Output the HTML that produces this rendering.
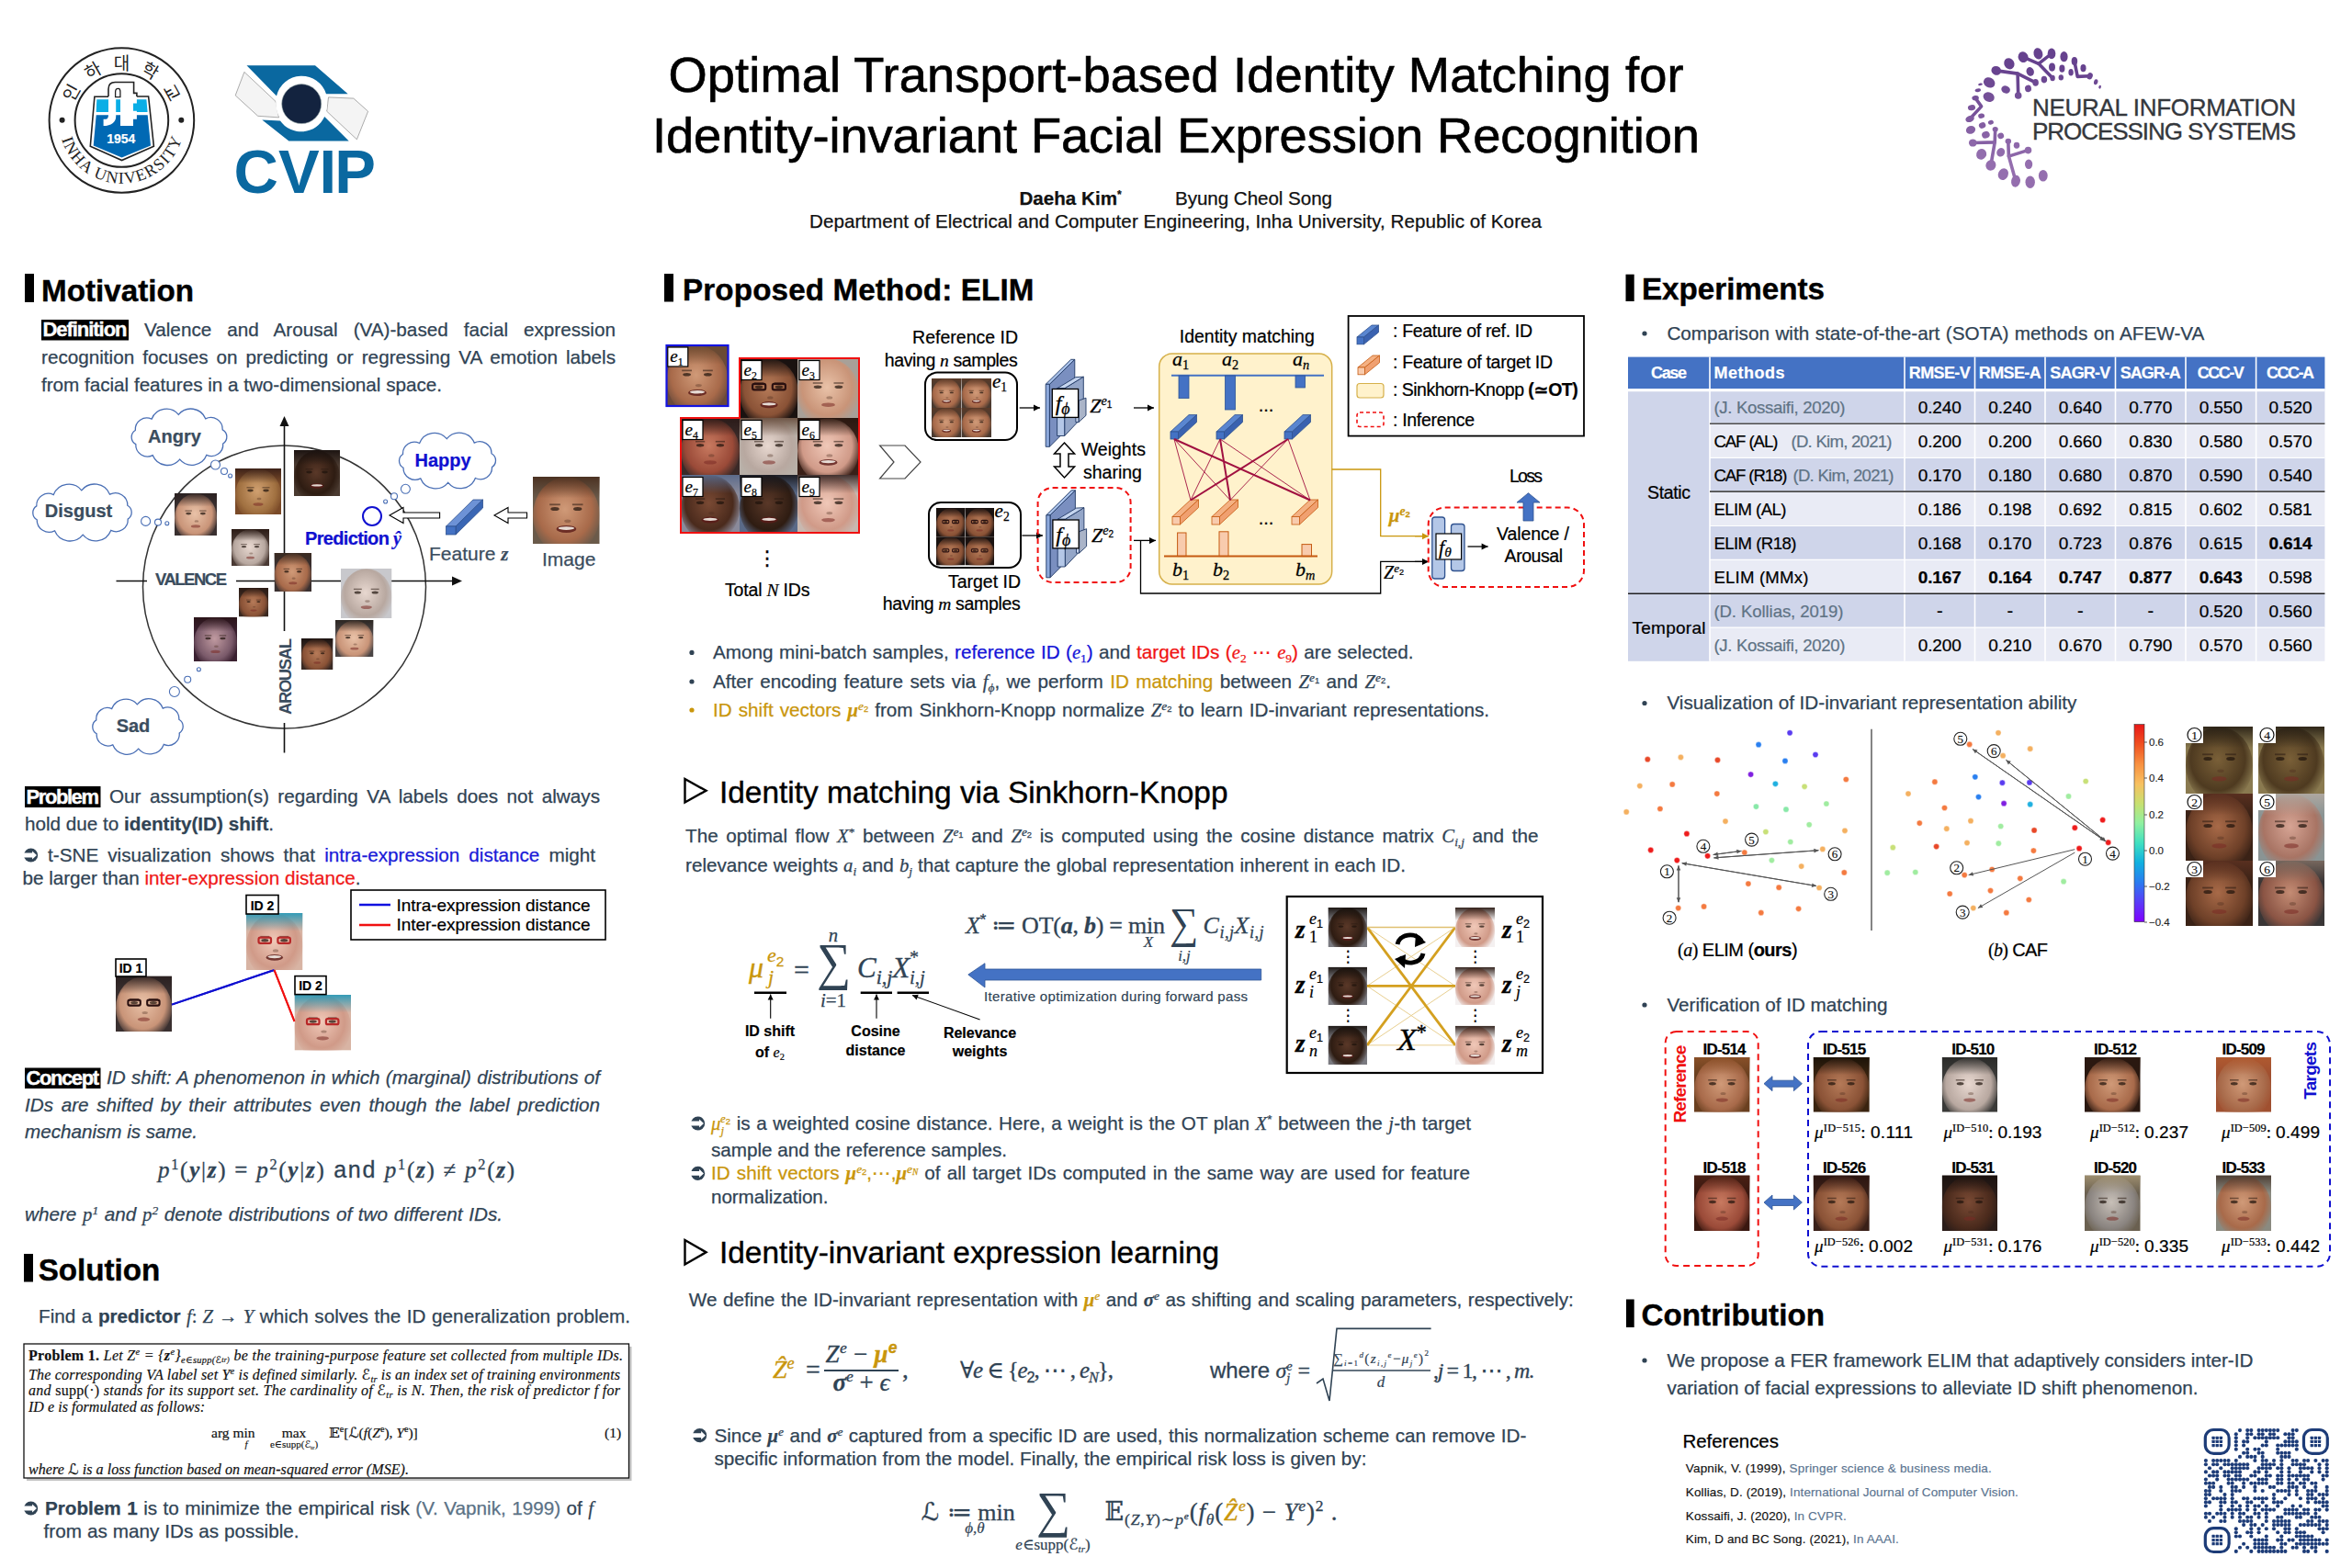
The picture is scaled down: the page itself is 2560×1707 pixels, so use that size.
<!DOCTYPE html>
<html><head><meta charset="utf-8"><title>Optimal Transport-based Identity Matching for Identity-invariant Facial Expression Recognition</title>
<style>html,body{margin:0;padding:0;background:#fff;overflow:hidden;width:2560px;height:1707px;} svg{display:block;}</style></head>
<body><svg width="2560" height="1707" viewBox="0 0 2560 1707" font-family="'Liberation Sans', Arial, 'DejaVu Sans', sans-serif">
<rect width="2560" height="1707" fill="#fff"/>
<circle cx="132.4" cy="131" r="78.8" fill="none" stroke="#222" stroke-width="2" />
<circle cx="132.4" cy="131" r="50.8" fill="none" stroke="#222" stroke-width="2" />
<circle cx="67.6" cy="130.7" r="3" fill="#222" />
<circle cx="197.3" cy="130.7" r="3" fill="#222" />
<text x="76.4" y="100.0" font-size="19" font-family="'Noto Sans CJK KR', sans-serif" fill="#222" text-anchor="middle" dominant-baseline="central" transform="rotate(-61 76.4 100.0)">인</text>
<text x="100.4" y="75.6" font-size="19" font-family="'Noto Sans CJK KR', sans-serif" fill="#222" text-anchor="middle" dominant-baseline="central" transform="rotate(-30 100.4 75.6)">하</text>
<text x="132.4" y="67.0" font-size="19" font-family="'Noto Sans CJK KR', sans-serif" fill="#222" text-anchor="middle" dominant-baseline="central" transform="rotate(0 132.4 67.0)">대</text>
<text x="164.4" y="75.6" font-size="19" font-family="'Noto Sans CJK KR', sans-serif" fill="#222" text-anchor="middle" dominant-baseline="central" transform="rotate(30 164.4 75.6)">학</text>
<text x="188.4" y="100.0" font-size="19" font-family="'Noto Sans CJK KR', sans-serif" fill="#222" text-anchor="middle" dominant-baseline="central" transform="rotate(61 188.4 100.0)">교</text>
<defs><path id="inhaarc" d="M64.9,142.9 A68.5,68.5 0 0,0 199.9,142.9"/></defs>
<text font-size="18" font-family="'Liberation Serif', 'Times New Roman', 'DejaVu Serif', 'DejaVu Sans', serif" fill="#222"><textPath href="#inhaarc" startOffset="50%" text-anchor="middle" textLength="174" lengthAdjust="spacing">INHA UNIVERSITY</textPath></text>
<path d="M102.9,105.3 L118,105.3 L118,97.1 C118,92 121,89.5 125.3,89.5 L145.6,89.5 L145.6,101.4 L148.9,101.4 L148.9,105 L161.6,105 L167.4,159.2 L132.6,174.6 L98.3,159.2 Z" fill="#fff" stroke="#222" stroke-width="1.6" />
<path d="M105.3,108.3 L159.4,108.3 L160.6,122 L104.7,122 Z" fill="#0aaee6" />
<path d="M104.7,125.3 L160.7,125.3 L164,158.6 L132.6,171.6 L101.7,158.6 Z" fill="#0069b4" />
<path d="M118,105 L126.2,105 L126.2,127 C126.2,133 121,137.1 112.6,137.1 L112.6,129.8 L115,129.8 C117,129.8 118,128 118,125 Z" fill="#fff" />
<path d="M131,105 L148.9,105 L148.9,112.6 L145,112.6 L145,120.8 L148.9,120.8 L148.9,129.8 L145,129.8 L145,137.1 L131,137.1 Z" fill="#fff" />
<path d="M125.6,105.6 L125.6,100 C125.6,97.6 127,96.4 128.8,96.4 C130.2,96.4 130.9,97.6 130.9,100 L130.9,105.6 Z" fill="#fff" stroke="#222" stroke-width="1.3" />
<text x="131.8" y="156" font-size="14" fill="#fff" font-weight="bold" text-anchor="middle" stroke="#fff" stroke-width="0.17">1954</text>
<path d="M268.5,71.2 L343,71.2 L378.7,102.3 L355,102.3 A28,28 0 0,0 301,104.5 Z" fill="#0a68a0" />
<path d="M285.3,130.4 L305,131.6 A28,28 0 0,0 353.2,127 L379.7,153.4 L314.4,153.4 Z" fill="#0a68a0" />
<path d="M265.9,78.4 L300.1,110.5 L303.5,127.9 L280.7,126.3 L256.2,103.9 Z" fill="#f4f4f4" stroke="#8a8a8a" stroke-width="0.7" />
<path d="M357.5,105.9 L384.8,107.1 L400.6,121.2 L388.4,151.8 L355.7,121.2 Z" fill="#f4f4f4" stroke="#8a8a8a" stroke-width="0.7" />
<circle cx="328.2" cy="113.1" r="28" fill="#fff" />
<circle cx="328.2" cy="113.1" r="21.5" fill="#13233f" stroke="#9aa" stroke-width="0.6" />
<text y="209.5" font-size="67" font-weight="bold" fill="#0a68a0" text-anchor="middle"><tspan x="278.6">C</tspan><tspan x="325.3">V</tspan><tspan x="356.7">I</tspan><tspan x="386.5">P</tspan></text>
<text x="1280" y="100" font-size="54.3" fill="#000" text-anchor="middle" textLength="1105" lengthAdjust="spacing" stroke="#000" stroke-width="0.65">Optimal Transport-based Identity Matching for</text>
<text x="1280" y="166" font-size="54.3" fill="#000" text-anchor="middle" textLength="1140" lengthAdjust="spacing" stroke="#000" stroke-width="0.65">Identity-invariant Facial Expression Recognition</text>
<text x="1109.5" y="223" font-size="20.6" fill="#111" font-weight="bold" stroke="#111" stroke-width="0.25">Daeha Kim<tspan font-size="12" baseline-shift="7">*</tspan></text>
<text x="1279" y="223" font-size="20.6" fill="#111" textLength="171" lengthAdjust="spacing" stroke="#111" stroke-width="0.25">Byung Cheol Song</text>
<text x="881" y="248" font-size="20.6" fill="#111" textLength="797" lengthAdjust="spacing" stroke="#111" stroke-width="0.25">Department of Electrical and Computer Engineering, Inha University, Republic of Korea</text>
<text x="2212" y="126" font-size="26" fill="#34373c" textLength="287" lengthAdjust="spacing" stroke="#34373c" stroke-width="0.35">NEURAL INFORMATION</text>
<text x="2212" y="152" font-size="26" fill="#34373c" textLength="287" lengthAdjust="spacing" stroke="#34373c" stroke-width="0.35">PROCESSING SYSTEMS</text>
<path d="M2172.8,76.9 L2196.1,80.1 L2215.6,89.9" fill="none" stroke="#68438f" stroke-width="3.6" stroke-linecap="round" stroke-linejoin="round"/>
<path d="M2196.1,80.1 L2196.7,104.0" fill="none" stroke="#694590" stroke-width="3.6" stroke-linecap="round" stroke-linejoin="round"/>
<path d="M2202.1,62.2 L2218.9,69.3 L2233.0,58.4" fill="none" stroke="#66428e" stroke-width="3.6" stroke-linecap="round" stroke-linejoin="round"/>
<path d="M2218.9,69.3 L2234.1,85.0" fill="none" stroke="#66428e" stroke-width="3.6" stroke-linecap="round" stroke-linejoin="round"/>
<path d="M2257.9,66.6 L2261.2,83.4 L2274.7,82.8" fill="none" stroke="#66428e" stroke-width="3.6" stroke-linecap="round" stroke-linejoin="round"/>
<path d="M2150.1,106.7 L2156.6,115.9 L2144.1,129.4" fill="none" stroke="#765199" stroke-width="3.6" stroke-linecap="round" stroke-linejoin="round"/>
<path d="M2171.7,140.8 L2171.2,154.9 L2147.3,155.5" fill="none" stroke="#8660a4" stroke-width="3.6" stroke-linecap="round" stroke-linejoin="round"/>
<path d="M2171.2,154.9 L2166.9,179.9" fill="none" stroke="#8c67a9" stroke-width="3.6" stroke-linecap="round" stroke-linejoin="round"/>
<path d="M2185.8,153.8 L2186.4,170.1 L2207.0,163.6" fill="none" stroke="#8c66a8" stroke-width="3.6" stroke-linecap="round" stroke-linejoin="round"/>
<path d="M2186.4,170.1 L2194.0,197.2" fill="none" stroke="#946eae" stroke-width="3.6" stroke-linecap="round" stroke-linejoin="round"/>
<ellipse cx="2218.4" cy="58.4" rx="4.88" ry="6.29" fill="#66428e" transform="rotate(-15 2218.4 58.4)"/>
<ellipse cx="2233.0" cy="58.4" rx="4.34" ry="5.96" fill="#66428e" transform="rotate(0 2233.0 58.4)"/>
<ellipse cx="2246.5" cy="61.7" rx="4.12" ry="5.64" fill="#66428e" transform="rotate(0 2246.5 61.7)"/>
<ellipse cx="2257.9" cy="66.6" rx="3.25" ry="4.55" fill="#66428e" transform="rotate(0 2257.9 66.6)"/>
<ellipse cx="2267.5" cy="74.2" rx="3.04" ry="4.12" fill="#66428e" transform="rotate(0 2267.5 74.2)"/>
<ellipse cx="2281.2" cy="89.3" rx="2.17" ry="3.04" fill="#6d4993" transform="rotate(15 2281.2 89.3)"/>
<ellipse cx="2285.6" cy="94.7" rx="1.30" ry="1.95" fill="#704c95" transform="rotate(15 2285.6 94.7)"/>
<ellipse cx="2202.1" cy="62.2" rx="5.42" ry="5.96" fill="#66428e" transform="rotate(-20 2202.1 62.2)"/>
<ellipse cx="2186.9" cy="69.3" rx="5.42" ry="6.29" fill="#66428e" transform="rotate(-30 2186.9 69.3)"/>
<ellipse cx="2172.8" cy="76.9" rx="5.42" ry="4.88" fill="#68438f" transform="rotate(20 2172.8 76.9)"/>
<ellipse cx="2209.7" cy="77.9" rx="4.12" ry="4.88" fill="#68448f" transform="rotate(-20 2209.7 77.9)"/>
<ellipse cx="2233.5" cy="73.1" rx="3.47" ry="4.55" fill="#66428e" transform="rotate(0 2233.5 73.1)"/>
<ellipse cx="2244.4" cy="74.7" rx="3.04" ry="4.12" fill="#67428e" transform="rotate(0 2244.4 74.7)"/>
<ellipse cx="2254.1" cy="78.8" rx="2.71" ry="3.79" fill="#684490" transform="rotate(0 2254.1 78.8)"/>
<ellipse cx="2224.9" cy="86.6" rx="3.25" ry="3.79" fill="#6c4892" transform="rotate(0 2224.9 86.6)"/>
<ellipse cx="2234.1" cy="85.0" rx="2.71" ry="3.25" fill="#6b4792" transform="rotate(0 2234.1 85.0)"/>
<ellipse cx="2243.3" cy="84.4" rx="2.71" ry="3.04" fill="#6b4791" transform="rotate(0 2243.3 84.4)"/>
<ellipse cx="2165.2" cy="89.9" rx="6.50" ry="5.42" fill="#6e4993" transform="rotate(30 2165.2 89.9)"/>
<ellipse cx="2183.1" cy="97.5" rx="4.88" ry="4.12" fill="#714d96" transform="rotate(20 2183.1 97.5)"/>
<ellipse cx="2207.5" cy="96.4" rx="3.47" ry="3.79" fill="#714c95" transform="rotate(-10 2207.5 96.4)"/>
<ellipse cx="2155.5" cy="91.8" rx="2.39" ry="1.30" fill="#6f4a94" transform="rotate(-10 2155.5 91.8)"/>
<ellipse cx="2152.8" cy="98.3" rx="3.25" ry="1.95" fill="#724d96" transform="rotate(-10 2152.8 98.3)"/>
<ellipse cx="2164.7" cy="105.6" rx="6.29" ry="5.20" fill="#755098" transform="rotate(25 2164.7 105.6)"/>
<ellipse cx="2196.7" cy="104.0" rx="3.79" ry="3.79" fill="#745098" transform="rotate(0 2196.7 104.0)"/>
<ellipse cx="2215.6" cy="89.9" rx="3.25" ry="3.79" fill="#6e4993" transform="rotate(0 2215.6 89.9)"/>
<ellipse cx="2274.7" cy="82.8" rx="3.04" ry="3.79" fill="#6a4691" transform="rotate(20 2274.7 82.8)"/>
<ellipse cx="2150.1" cy="106.7" rx="3.79" ry="2.71" fill="#765199" transform="rotate(-10 2150.1 106.7)"/>
<ellipse cx="2146.0" cy="117.2" rx="4.12" ry="3.04" fill="#7b569c" transform="rotate(-10 2146.0 117.2)"/>
<ellipse cx="2144.1" cy="129.4" rx="4.88" ry="3.47" fill="#805ba0" transform="rotate(-20 2144.1 129.4)"/>
<ellipse cx="2156.6" cy="126.2" rx="3.47" ry="2.71" fill="#7f5a9f" transform="rotate(-10 2156.6 126.2)"/>
<ellipse cx="2166.9" cy="133.2" rx="3.04" ry="2.39" fill="#825da1" transform="rotate(-15 2166.9 133.2)"/>
<ellipse cx="2157.6" cy="136.5" rx="3.79" ry="3.25" fill="#845ea2" transform="rotate(-20 2157.6 136.5)"/>
<ellipse cx="2145.0" cy="141.4" rx="5.20" ry="4.34" fill="#8661a4" transform="rotate(-20 2145.0 141.4)"/>
<ellipse cx="2171.7" cy="140.8" rx="3.04" ry="2.71" fill="#8660a4" transform="rotate(0 2171.7 140.8)"/>
<ellipse cx="2161.4" cy="146.8" rx="4.34" ry="3.79" fill="#8963a6" transform="rotate(-20 2161.4 146.8)"/>
<ellipse cx="2177.7" cy="147.9" rx="3.47" ry="3.25" fill="#8963a6" transform="rotate(-20 2177.7 147.9)"/>
<ellipse cx="2147.3" cy="155.5" rx="4.34" ry="4.12" fill="#8d67a9" transform="rotate(0 2147.3 155.5)"/>
<ellipse cx="2185.8" cy="153.8" rx="3.25" ry="3.04" fill="#8c66a8" transform="rotate(0 2185.8 153.8)"/>
<ellipse cx="2195.0" cy="158.2" rx="3.25" ry="3.47" fill="#8e68aa" transform="rotate(0 2195.0 158.2)"/>
<ellipse cx="2156.6" cy="167.9" rx="5.42" ry="5.96" fill="#926dad" transform="rotate(30 2156.6 167.9)"/>
<ellipse cx="2177.7" cy="165.8" rx="4.34" ry="4.88" fill="#916cac" transform="rotate(30 2177.7 165.8)"/>
<ellipse cx="2166.9" cy="179.9" rx="5.42" ry="5.96" fill="#946eae" transform="rotate(25 2166.9 179.9)"/>
<ellipse cx="2207.5" cy="163.6" rx="3.79" ry="3.79" fill="#906bab" transform="rotate(0 2207.5 163.6)"/>
<ellipse cx="2208.1" cy="178.8" rx="4.12" ry="5.20" fill="#946eae" transform="rotate(0 2208.1 178.8)"/>
<ellipse cx="2180.4" cy="189.6" rx="5.42" ry="6.50" fill="#946eae" transform="rotate(25 2180.4 189.6)"/>
<ellipse cx="2194.0" cy="197.2" rx="4.88" ry="6.50" fill="#946eae" transform="rotate(10 2194.0 197.2)"/>
<ellipse cx="2209.7" cy="198.3" rx="5.20" ry="6.72" fill="#946eae" transform="rotate(0 2209.7 198.3)"/>
<ellipse cx="2223.8" cy="191.2" rx="4.88" ry="6.29" fill="#946eae" transform="rotate(0 2223.8 191.2)"/>
<rect x="27" y="298" width="10" height="31" fill="#000" />
<text x="45" y="328" font-size="33.2" fill="#000" font-weight="bold" textLength="166" lengthAdjust="spacing" stroke="#000" stroke-width="0.40">Motivation</text>
<rect x="45" y="348" width="95" height="22.5" fill="#000" />
<text x="46.5" y="366" font-size="22" fill="#fff" font-weight="bold" textLength="92" lengthAdjust="spacing" stroke="#fff" stroke-width="0.4">Definition</text>
<text x="157" y="366" font-size="20.7" fill="#304354" word-spacing="11.22" textLength="513" lengthAdjust="spacing" stroke="#304354" stroke-width="0.25">Valence and Arousal (VA)-based facial expression</text>
<text x="45" y="396" font-size="20.7" fill="#304354" word-spacing="3.28" textLength="625" lengthAdjust="spacing" stroke="#304354" stroke-width="0.25">recognition focuses on predicting or regressing VA emotion labels</text>
<text x="45" y="426" font-size="20.7" fill="#304354" textLength="436" lengthAdjust="spacing" stroke="#304354" stroke-width="0.25">from facial features in a two-dimensional space.</text>
<circle cx="309.5" cy="639" r="154" fill="none" stroke="#333" stroke-width="1.5" />
<line x1="126.5" y1="632.5" x2="160" y2="632.5" stroke="#111" stroke-width="1.6" />
<line x1="257" y1="632.5" x2="495" y2="632.5" stroke="#111" stroke-width="1.6" />
<path d="M503,632.5 L492,627.5 L492,637.5 Z" fill="#111" />
<line x1="309.5" y1="462" x2="309.5" y2="687" stroke="#111" stroke-width="1.6" />
<line x1="309.5" y1="787" x2="309.5" y2="819.5" stroke="#111" stroke-width="1.6" />
<path d="M309.5,453 L304.5,464 L314.5,464 Z" fill="#111" />
<text x="169" y="637" font-size="18.5" fill="#3b4d5e" font-weight="bold" textLength="78" lengthAdjust="spacing" stroke="#3b4d5e" stroke-width="0.22">VALENCE</text>
<text x="0" y="0" font-size="18.5" font-weight="bold" fill="#3b4d5e" textLength="83" lengthAdjust="spacing" transform="translate(316.5,778) rotate(-90)">AROUSAL</text>
<path d="M242.7,483.0 A12.5,12.5 0 0,1 224.9,495.3 A17.2,17.2 0 0,1 195.7,500.1 A17.3,17.3 0 0,1 166.3,495.7 A12.8,12.8 0 0,1 147.8,483.6 A8.7,8.7 0 0,1 147.3,468.5 A12.5,12.5 0 0,1 165.1,456.2 A17.2,17.2 0 0,1 194.3,451.4 A17.3,17.3 0 0,1 223.7,455.8 A12.8,12.8 0 0,1 242.2,467.9 A8.7,8.7 0 0,1 242.7,483.0 Z" fill="#fff" stroke="#4a6fb5" stroke-width="1.3" />
<path d="M139.2,565.1 A12.9,12.9 0 0,1 120.7,577.4 A17.9,17.9 0 0,1 90.2,582.2 A18.0,18.0 0 0,1 59.5,577.8 A13.2,13.2 0 0,1 40.2,565.8 A8.7,8.7 0 0,1 39.8,550.9 A12.9,12.9 0 0,1 58.3,538.6 A17.9,17.9 0 0,1 88.8,533.8 A18.0,18.0 0 0,1 119.5,538.2 A13.2,13.2 0 0,1 138.8,550.2 A8.7,8.7 0 0,1 139.2,565.1 Z" fill="#fff" stroke="#4a6fb5" stroke-width="1.3" />
<path d="M535.5,508.5 A12.6,12.6 0 0,1 517.4,520.5 A17.4,17.4 0 0,1 487.7,525.3 A17.6,17.6 0 0,1 457.8,520.9 A12.9,12.9 0 0,1 439.0,509.2 A8.5,8.5 0 0,1 438.5,494.5 A12.6,12.6 0 0,1 456.6,482.5 A17.4,17.4 0 0,1 486.3,477.7 A17.6,17.6 0 0,1 516.2,482.1 A12.9,12.9 0 0,1 535.0,493.8 A8.5,8.5 0 0,1 535.5,508.5 Z" fill="#fff" stroke="#4a6fb5" stroke-width="1.3" />
<path d="M195.2,798.1 A12.1,12.1 0 0,1 178.3,810.4 A16.3,16.3 0 0,1 150.7,815.2 A16.4,16.4 0 0,1 122.7,810.8 A12.3,12.3 0 0,1 105.2,798.8 A8.7,8.7 0 0,1 104.8,783.9 A12.1,12.1 0 0,1 121.7,771.6 A16.3,16.3 0 0,1 149.3,766.8 A16.4,16.4 0 0,1 177.3,771.2 A12.3,12.3 0 0,1 194.8,783.2 A8.7,8.7 0 0,1 195.2,798.1 Z" fill="#fff" stroke="#4a6fb5" stroke-width="1.3" />
<circle cx="234.5" cy="506" r="5" fill="#fff" stroke="#4a6fb5" stroke-width="1.1" />
<circle cx="244" cy="513" r="3.5" fill="#fff" stroke="#4a6fb5" stroke-width="1.1" />
<circle cx="250.6" cy="518" r="2" fill="#fff" stroke="#4a6fb5" stroke-width="1.1" />
<circle cx="158.6" cy="567.4" r="5" fill="#fff" stroke="#4a6fb5" stroke-width="1.1" />
<circle cx="172" cy="568.6" r="3.5" fill="#fff" stroke="#4a6fb5" stroke-width="1.1" />
<circle cx="181.8" cy="569.8" r="2" fill="#fff" stroke="#4a6fb5" stroke-width="1.1" />
<circle cx="441.4" cy="532.3" r="5" fill="#fff" stroke="#4a6fb5" stroke-width="1.1" />
<circle cx="429" cy="540.3" r="3.5" fill="#fff" stroke="#4a6fb5" stroke-width="1.1" />
<circle cx="419.6" cy="546" r="2" fill="#fff" stroke="#4a6fb5" stroke-width="1.1" />
<circle cx="189.9" cy="753" r="5.5" fill="#fff" stroke="#4a6fb5" stroke-width="1.1" />
<circle cx="204.2" cy="739.7" r="3.5" fill="#fff" stroke="#4a6fb5" stroke-width="1.1" />
<circle cx="216.4" cy="728.7" r="2" fill="#fff" stroke="#4a6fb5" stroke-width="1.1" />
<text x="190" y="482" font-size="20" fill="#3b4d5e" font-weight="bold" text-anchor="middle" stroke="#3b4d5e" stroke-width="0.24">Angry</text>
<text x="85.5" y="563" font-size="20" fill="#3b4d5e" font-weight="bold" text-anchor="middle" stroke="#3b4d5e" stroke-width="0.24">Disgust</text>
<text x="482" y="508" font-size="20" fill="#1010d0" font-weight="bold" text-anchor="middle" stroke="#1010d0" stroke-width="0.24">Happy</text>
<text x="145" y="797" font-size="20" fill="#3b4d5e" font-weight="bold" text-anchor="middle" stroke="#3b4d5e" stroke-width="0.24">Sad</text>
<defs><radialGradient id="fg1" cx="48%" cy="42%" r="58%"><stop offset="0" stop-color="#e9c2a8"/><stop offset="0.7" stop-color="#c99478"/><stop offset="1" stop-color="#c99478" stop-opacity="0"/></radialGradient><linearGradient id="fh1" x1="0" y1="0" x2="0" y2="1"><stop offset="0" stop-color="#2a2020"/><stop offset="1" stop-color="#2a2020" stop-opacity="0"/></linearGradient><clipPath id="fc1"><rect x="190" y="537" width="46" height="46"/></clipPath></defs>
<g clip-path="url(#fc1)">
<rect x="190" y="537" width="46" height="46" fill="#3a3030"/>
<ellipse cx="213.0" cy="563.7" rx="23.0" ry="26.4" fill="url(#fg1)"/>
<rect x="190" y="537" width="46" height="14.7" fill="url(#fh1)" opacity="0.95"/>
<line x1="201.5" y1="556.1" x2="208.9" y2="556.1" stroke="#2a1a12" stroke-width="1.2" opacity="0.55"/>
<ellipse cx="205.2" cy="559.1" rx="3.0" ry="1.3" fill="#1e120c" opacity="0.7"/>
<line x1="217.1" y1="556.1" x2="224.5" y2="556.1" stroke="#2a1a12" stroke-width="1.2" opacity="0.55"/>
<ellipse cx="220.8" cy="559.1" rx="3.0" ry="1.3" fill="#1e120c" opacity="0.7"/>
<ellipse cx="213.9" cy="567.4" rx="2.3" ry="1.2" fill="#4a2a1c" opacity="0.35"/>
<ellipse cx="213.0" cy="572.9" rx="5.1" ry="1.6" fill="#7a2a24" opacity="0.55"/>

</g>
<defs><radialGradient id="fg2" cx="48%" cy="42%" r="58%"><stop offset="0" stop-color="#d0a070"/><stop offset="0.7" stop-color="#a07040"/><stop offset="1" stop-color="#a07040" stop-opacity="0"/></radialGradient><linearGradient id="fh2" x1="0" y1="0" x2="0" y2="1"><stop offset="0" stop-color="#3a2018"/><stop offset="1" stop-color="#3a2018" stop-opacity="0"/></linearGradient><clipPath id="fc2"><rect x="256" y="510" width="50" height="50"/></clipPath></defs>
<g clip-path="url(#fc2)">
<rect x="256" y="510" width="50" height="50" fill="#7a4a28"/>
<ellipse cx="281.0" cy="539.0" rx="25.0" ry="28.8" fill="url(#fg2)"/>
<rect x="256" y="510" width="50" height="16.0" fill="url(#fh2)" opacity="0.95"/>
<line x1="268.5" y1="530.8" x2="276.5" y2="530.8" stroke="#2a1a12" stroke-width="1.2" opacity="0.55"/>
<ellipse cx="272.5" cy="534.0" rx="3.2" ry="1.4" fill="#1e120c" opacity="0.7"/>
<line x1="285.5" y1="530.8" x2="293.5" y2="530.8" stroke="#2a1a12" stroke-width="1.2" opacity="0.55"/>
<ellipse cx="289.5" cy="534.0" rx="3.2" ry="1.4" fill="#1e120c" opacity="0.7"/>
<ellipse cx="282.0" cy="543.0" rx="2.5" ry="1.2" fill="#4a2a1c" opacity="0.35"/>
<ellipse cx="281.0" cy="549.0" rx="5.5" ry="1.8" fill="#7a2a24" opacity="0.55"/>

</g>
<defs><radialGradient id="fg3" cx="48%" cy="42%" r="58%"><stop offset="0" stop-color="#5a3828"/><stop offset="0.7" stop-color="#2e1c12"/><stop offset="1" stop-color="#2e1c12" stop-opacity="0"/></radialGradient><linearGradient id="fh3" x1="0" y1="0" x2="0" y2="1"><stop offset="0" stop-color="#1a1210"/><stop offset="1" stop-color="#1a1210" stop-opacity="0"/></linearGradient><clipPath id="fc3"><rect x="320" y="490" width="50" height="50"/></clipPath></defs>
<g clip-path="url(#fc3)">
<rect x="320" y="490" width="50" height="50" fill="#4a3a30"/>
<ellipse cx="345.0" cy="519.0" rx="25.0" ry="28.8" fill="url(#fg3)"/>
<rect x="320" y="490" width="50" height="16.0" fill="url(#fh3)" opacity="0.95"/>
<line x1="332.5" y1="510.8" x2="340.5" y2="510.8" stroke="#2a1a12" stroke-width="1.2" opacity="0.55"/>
<ellipse cx="336.5" cy="514.0" rx="3.2" ry="1.4" fill="#1e120c" opacity="0.7"/>
<line x1="349.5" y1="510.8" x2="357.5" y2="510.8" stroke="#2a1a12" stroke-width="1.2" opacity="0.55"/>
<ellipse cx="353.5" cy="514.0" rx="3.2" ry="1.4" fill="#1e120c" opacity="0.7"/>
<ellipse cx="346.0" cy="523.0" rx="2.5" ry="1.2" fill="#4a2a1c" opacity="0.35"/>
<ellipse cx="345.0" cy="529.0" rx="7.5" ry="2.8" fill="#5a1a18" opacity="0.8"/>
<ellipse cx="345.0" cy="528.4" rx="6.0" ry="1.2" fill="#f4eee8" opacity="0.9"/>

</g>
<defs><radialGradient id="fg4" cx="48%" cy="42%" r="58%"><stop offset="0" stop-color="#e8d8d0"/><stop offset="0.7" stop-color="#b8a8a0"/><stop offset="1" stop-color="#b8a8a0" stop-opacity="0"/></radialGradient><linearGradient id="fh4" x1="0" y1="0" x2="0" y2="1"><stop offset="0" stop-color="#2a1a14"/><stop offset="1" stop-color="#2a1a14" stop-opacity="0"/></linearGradient><clipPath id="fc4"><rect x="252" y="576" width="41" height="40"/></clipPath></defs>
<g clip-path="url(#fc4)">
<rect x="252" y="576" width="41" height="40" fill="#4a3a34"/>
<ellipse cx="272.5" cy="599.2" rx="20.5" ry="23.0" fill="url(#fg4)"/>
<rect x="252" y="576" width="41" height="12.8" fill="url(#fh4)" opacity="0.95"/>
<line x1="262.2" y1="592.6" x2="268.8" y2="592.6" stroke="#2a1a12" stroke-width="1.0" opacity="0.55"/>
<ellipse cx="265.5" cy="595.2" rx="2.7" ry="1.1" fill="#1e120c" opacity="0.7"/>
<line x1="276.2" y1="592.6" x2="282.8" y2="592.6" stroke="#2a1a12" stroke-width="1.0" opacity="0.55"/>
<ellipse cx="279.5" cy="595.2" rx="2.7" ry="1.1" fill="#1e120c" opacity="0.7"/>
<ellipse cx="273.3" cy="602.4" rx="2.1" ry="1.0" fill="#4a2a1c" opacity="0.35"/>
<ellipse cx="272.5" cy="607.2" rx="4.5" ry="1.4" fill="#7a2a24" opacity="0.55"/>

</g>
<defs><radialGradient id="fg5" cx="48%" cy="42%" r="58%"><stop offset="0" stop-color="#d09a78"/><stop offset="0.7" stop-color="#a86a4a"/><stop offset="1" stop-color="#a86a4a" stop-opacity="0"/></radialGradient><linearGradient id="fh5" x1="0" y1="0" x2="0" y2="1"><stop offset="0" stop-color="#3a2a20"/><stop offset="1" stop-color="#3a2a20" stop-opacity="0"/></linearGradient><clipPath id="fc5"><rect x="298.5" y="602" width="40.5" height="42"/></clipPath></defs>
<g clip-path="url(#fc5)">
<rect x="298.5" y="602" width="40.5" height="42" fill="#3a3030"/>
<ellipse cx="318.8" cy="626.4" rx="20.2" ry="24.1" fill="url(#fg5)"/>
<rect x="298.5" y="602" width="40.5" height="13.4" fill="url(#fh5)" opacity="0.95"/>
<line x1="308.6" y1="619.4" x2="315.1" y2="619.4" stroke="#2a1a12" stroke-width="1.1" opacity="0.55"/>
<ellipse cx="311.9" cy="622.2" rx="2.6" ry="1.2" fill="#1e120c" opacity="0.7"/>
<line x1="322.4" y1="619.4" x2="328.9" y2="619.4" stroke="#2a1a12" stroke-width="1.1" opacity="0.55"/>
<ellipse cx="325.6" cy="622.2" rx="2.6" ry="1.2" fill="#1e120c" opacity="0.7"/>
<ellipse cx="319.6" cy="629.7" rx="2.0" ry="1.1" fill="#4a2a1c" opacity="0.35"/>
<ellipse cx="318.8" cy="634.8" rx="4.5" ry="1.5" fill="#7a2a24" opacity="0.55"/>

</g>
<defs><radialGradient id="fg6" cx="48%" cy="42%" r="58%"><stop offset="0" stop-color="#e8d8d0"/><stop offset="0.7" stop-color="#b8a8a0"/><stop offset="1" stop-color="#b8a8a0" stop-opacity="0"/></radialGradient><linearGradient id="fh6" x1="0" y1="0" x2="0" y2="1"><stop offset="0" stop-color="#c8c8cc"/><stop offset="1" stop-color="#c8c8cc" stop-opacity="0"/></linearGradient><clipPath id="fc6"><rect x="371" y="619" width="55.5" height="54"/></clipPath></defs>
<g clip-path="url(#fc6)">
<rect x="371" y="619" width="55.5" height="54" fill="#c8c8cc"/>
<ellipse cx="398.8" cy="650.3" rx="27.8" ry="31.1" fill="url(#fg6)"/>
<line x1="384.9" y1="641.4" x2="393.8" y2="641.4" stroke="#2a1a12" stroke-width="1.4" opacity="0.55"/>
<ellipse cx="389.3" cy="644.9" rx="3.6" ry="1.5" fill="#1e120c" opacity="0.7"/>
<line x1="403.7" y1="641.4" x2="412.6" y2="641.4" stroke="#2a1a12" stroke-width="1.4" opacity="0.55"/>
<ellipse cx="408.2" cy="644.9" rx="3.6" ry="1.5" fill="#1e120c" opacity="0.7"/>
<ellipse cx="399.9" cy="654.6" rx="2.8" ry="1.4" fill="#4a2a1c" opacity="0.35"/>
<ellipse cx="398.8" cy="661.1" rx="6.1" ry="1.9" fill="#7a2a24" opacity="0.55"/>

</g>
<defs><radialGradient id="fg7" cx="48%" cy="42%" r="58%"><stop offset="0" stop-color="#b57a58"/><stop offset="0.7" stop-color="#8a5236"/><stop offset="1" stop-color="#8a5236" stop-opacity="0"/></radialGradient><linearGradient id="fh7" x1="0" y1="0" x2="0" y2="1"><stop offset="0" stop-color="#2a1a14"/><stop offset="1" stop-color="#2a1a14" stop-opacity="0"/></linearGradient><clipPath id="fc7"><rect x="260" y="640" width="32" height="31.5"/></clipPath></defs>
<g clip-path="url(#fc7)">
<rect x="260" y="640" width="32" height="31.5" fill="#3a2820"/>
<ellipse cx="276.0" cy="658.3" rx="16.0" ry="18.1" fill="url(#fg7)"/>
<rect x="260" y="640" width="32" height="10.1" fill="url(#fh7)" opacity="0.95"/>
<line x1="268.0" y1="653.1" x2="273.1" y2="653.1" stroke="#2a1a12" stroke-width="0.8" opacity="0.55"/>
<ellipse cx="270.6" cy="655.1" rx="2.1" ry="0.9" fill="#1e120c" opacity="0.7"/>
<line x1="278.9" y1="653.1" x2="284.0" y2="653.1" stroke="#2a1a12" stroke-width="0.8" opacity="0.55"/>
<ellipse cx="281.4" cy="655.1" rx="2.1" ry="0.9" fill="#1e120c" opacity="0.7"/>
<ellipse cx="276.6" cy="660.8" rx="1.6" ry="0.8" fill="#4a2a1c" opacity="0.35"/>
<ellipse cx="276.0" cy="664.6" rx="3.5" ry="1.1" fill="#7a2a24" opacity="0.55"/>

</g>
<defs><radialGradient id="fg8" cx="48%" cy="42%" r="58%"><stop offset="0" stop-color="#c09aa0"/><stop offset="0.7" stop-color="#7a5a6a"/><stop offset="1" stop-color="#7a5a6a" stop-opacity="0"/></radialGradient><linearGradient id="fh8" x1="0" y1="0" x2="0" y2="1"><stop offset="0" stop-color="#2a1418"/><stop offset="1" stop-color="#2a1418" stop-opacity="0"/></linearGradient><clipPath id="fc8"><rect x="211" y="672" width="47" height="48"/></clipPath></defs>
<g clip-path="url(#fc8)">
<rect x="211" y="672" width="47" height="48" fill="#3a2030"/>
<ellipse cx="234.5" cy="699.8" rx="23.5" ry="27.6" fill="url(#fg8)"/>
<rect x="211" y="672" width="47" height="15.4" fill="url(#fh8)" opacity="0.95"/>
<line x1="222.8" y1="691.9" x2="230.3" y2="691.9" stroke="#2a1a12" stroke-width="1.2" opacity="0.55"/>
<ellipse cx="226.5" cy="695.0" rx="3.1" ry="1.3" fill="#1e120c" opacity="0.7"/>
<line x1="238.7" y1="691.9" x2="246.2" y2="691.9" stroke="#2a1a12" stroke-width="1.2" opacity="0.55"/>
<ellipse cx="242.5" cy="695.0" rx="3.1" ry="1.3" fill="#1e120c" opacity="0.7"/>
<ellipse cx="235.4" cy="703.7" rx="2.4" ry="1.2" fill="#4a2a1c" opacity="0.35"/>
<ellipse cx="234.5" cy="709.4" rx="5.2" ry="1.7" fill="#7a2a24" opacity="0.55"/>

</g>
<defs><radialGradient id="fg9" cx="48%" cy="42%" r="58%"><stop offset="0" stop-color="#e9c2a8"/><stop offset="0.7" stop-color="#c99478"/><stop offset="1" stop-color="#c99478" stop-opacity="0"/></radialGradient><linearGradient id="fh9" x1="0" y1="0" x2="0" y2="1"><stop offset="0" stop-color="#2a2420"/><stop offset="1" stop-color="#2a2420" stop-opacity="0"/></linearGradient><clipPath id="fc9"><rect x="365" y="675" width="41.5" height="40"/></clipPath></defs>
<g clip-path="url(#fc9)">
<rect x="365" y="675" width="41.5" height="40" fill="#4a4444"/>
<ellipse cx="385.8" cy="698.2" rx="20.8" ry="23.0" fill="url(#fg9)"/>
<rect x="365" y="675" width="41.5" height="12.8" fill="url(#fh9)" opacity="0.95"/>
<line x1="375.4" y1="691.6" x2="382.0" y2="691.6" stroke="#2a1a12" stroke-width="1.0" opacity="0.55"/>
<ellipse cx="378.7" cy="694.2" rx="2.7" ry="1.1" fill="#1e120c" opacity="0.7"/>
<line x1="389.5" y1="691.6" x2="396.1" y2="691.6" stroke="#2a1a12" stroke-width="1.0" opacity="0.55"/>
<ellipse cx="392.8" cy="694.2" rx="2.7" ry="1.1" fill="#1e120c" opacity="0.7"/>
<ellipse cx="386.6" cy="701.4" rx="2.1" ry="1.0" fill="#4a2a1c" opacity="0.35"/>
<ellipse cx="385.8" cy="706.2" rx="4.6" ry="1.4" fill="#7a2a24" opacity="0.55"/>

</g>
<defs><radialGradient id="fg10" cx="48%" cy="42%" r="58%"><stop offset="0" stop-color="#b57a58"/><stop offset="0.7" stop-color="#8a5236"/><stop offset="1" stop-color="#8a5236" stop-opacity="0"/></radialGradient><linearGradient id="fh10" x1="0" y1="0" x2="0" y2="1"><stop offset="0" stop-color="#1a1210"/><stop offset="1" stop-color="#1a1210" stop-opacity="0"/></linearGradient><clipPath id="fc10"><rect x="328" y="695" width="34.5" height="34"/></clipPath></defs>
<g clip-path="url(#fc10)">
<rect x="328" y="695" width="34.5" height="34" fill="#3a2a24"/>
<ellipse cx="345.2" cy="714.7" rx="17.2" ry="19.6" fill="url(#fg10)"/>
<rect x="328" y="695" width="34.5" height="10.9" fill="url(#fh10)" opacity="0.95"/>
<line x1="336.6" y1="709.1" x2="342.1" y2="709.1" stroke="#2a1a12" stroke-width="0.9" opacity="0.55"/>
<ellipse cx="339.4" cy="711.3" rx="2.2" ry="1.0" fill="#1e120c" opacity="0.7"/>
<line x1="348.4" y1="709.1" x2="353.9" y2="709.1" stroke="#2a1a12" stroke-width="0.9" opacity="0.55"/>
<ellipse cx="351.1" cy="711.3" rx="2.2" ry="1.0" fill="#1e120c" opacity="0.7"/>
<ellipse cx="345.9" cy="717.4" rx="1.7" ry="0.9" fill="#4a2a1c" opacity="0.35"/>
<ellipse cx="345.2" cy="721.5" rx="3.8" ry="1.2" fill="#7a2a24" opacity="0.55"/>

</g>
<defs><radialGradient id="fg11" cx="48%" cy="42%" r="58%"><stop offset="0" stop-color="#d09a78"/><stop offset="0.7" stop-color="#a86a4a"/><stop offset="1" stop-color="#a86a4a" stop-opacity="0"/></radialGradient><linearGradient id="fh11" x1="0" y1="0" x2="0" y2="1"><stop offset="0" stop-color="#4a3020"/><stop offset="1" stop-color="#4a3020" stop-opacity="0"/></linearGradient><clipPath id="fc11"><rect x="580" y="519" width="72.7" height="73"/></clipPath></defs>
<g clip-path="url(#fc11)">
<rect x="580" y="519" width="72.7" height="73" fill="#6a5a4a"/>
<ellipse cx="616.4" cy="561.3" rx="36.4" ry="42.0" fill="url(#fg11)"/>
<rect x="580" y="519" width="72.7" height="23.4" fill="url(#fh11)" opacity="0.95"/>
<line x1="598.2" y1="549.3" x2="609.8" y2="549.3" stroke="#2a1a12" stroke-width="1.8" opacity="0.55"/>
<ellipse cx="604.0" cy="554.0" rx="4.7" ry="2.0" fill="#1e120c" opacity="0.7"/>
<line x1="622.9" y1="549.3" x2="634.5" y2="549.3" stroke="#2a1a12" stroke-width="1.8" opacity="0.55"/>
<ellipse cx="628.7" cy="554.0" rx="4.7" ry="2.0" fill="#1e120c" opacity="0.7"/>
<ellipse cx="617.8" cy="567.2" rx="3.6" ry="1.8" fill="#4a2a1c" opacity="0.35"/>
<ellipse cx="616.4" cy="575.9" rx="10.9" ry="4.0" fill="#5a1a18" opacity="0.8"/>
<ellipse cx="616.4" cy="575.1" rx="8.7" ry="1.8" fill="#f4eee8" opacity="0.9"/>

</g>
<circle cx="405" cy="562" r="10" fill="none" stroke="#1010d0" stroke-width="2" />
<text x="332" y="593" font-size="20" fill="#1010d0" font-weight="bold" textLength="105" lengthAdjust="spacing" stroke="#1010d0" stroke-width="0.24">Prediction <tspan font-style="italic" font-family="'Liberation Serif', 'Times New Roman', 'DejaVu Serif', 'DejaVu Sans', serif">ŷ</tspan></text>
<path d="M424,561 L439,552.5 L439,558.0 L478.6,558.0 L478.6,564.0 L439,564.0 L439,569.5 Z" fill="#fff" stroke="#000" stroke-width="1.1" />
<path d="M538,561 L553,552.5 L553,558.0 L573.5,558.0 L573.5,564.0 L553,564.0 L553,569.5 Z" fill="#fff" stroke="#000" stroke-width="1.1" />
<path d="M485.5,573 L515.0,544 L525.5,544 L496.0,573 Z" fill="#6d92d6" stroke="#2f528f" stroke-width="0.8" />
<path d="M496.0,573 L525.5,544 L525.5,553 L496.0,582 Z" fill="#3a66b4" stroke="#2f528f" stroke-width="0.8" />
<rect x="485.5" y="573" width="10.5" height="9" fill="#4472c4" stroke="#2f528f" stroke-width="0.8" />
<text x="467" y="610" font-size="21" fill="#3b4d5e" stroke="#3b4d5e" stroke-width="0.25">Feature <tspan font-weight="bold" font-style="italic" font-family="'Liberation Serif', 'Times New Roman', 'DejaVu Serif', 'DejaVu Sans', serif">z</tspan></text>
<text x="590" y="616" font-size="21" fill="#3b4d5e" stroke="#3b4d5e" stroke-width="0.25">Image</text>
<rect x="27" y="856" width="82.5" height="23" fill="#000" />
<text x="28.5" y="875" font-size="22" fill="#fff" font-weight="bold" textLength="79.5" lengthAdjust="spacing" stroke="#fff" stroke-width="0.4">Problem</text>
<text x="119" y="874" font-size="20.7" fill="#304354" word-spacing="3.73" textLength="534" lengthAdjust="spacing" stroke="#304354" stroke-width="0.25">Our assumption(s) regarding VA labels does not always</text>
<text x="27" y="904" font-size="20.7" fill="#304354" textLength="271" lengthAdjust="spacing" stroke="#304354" stroke-width="0.25">hold due to <tspan font-weight="bold">identity(ID) shift</tspan>.</text>
<circle cx="33.6" cy="931.0" r="7.6" fill="#304354" />
<path d="M25.5,928.6 L35.1,928.6 L35.1,926.4 L40.0,931.0 L35.1,935.6 L35.1,933.4 L25.5,933.4 Z" fill="#fff" />
<text x="52" y="938" font-size="20.7" fill="#304354" word-spacing="4.28" textLength="596" lengthAdjust="spacing" stroke="#304354" stroke-width="0.25">t-SNE visualization shows that <tspan fill="#1a1ad8" stroke="#1a1ad8">intra-expression distance</tspan> might</text>
<text x="24.5" y="963" font-size="20.7" fill="#304354" textLength="368" lengthAdjust="spacing" stroke="#304354" stroke-width="0.25">be larger than <tspan fill="#f01818" stroke="#f01818">inter-expression distance</tspan>.</text>
<rect x="382" y="969" width="277" height="54" fill="#fff" stroke="#000" stroke-width="1.6" />
<line x1="391" y1="985" x2="425" y2="985" stroke="#1010e0" stroke-width="2.5" />
<line x1="391" y1="1007" x2="425" y2="1007" stroke="#f01010" stroke-width="2.5" />
<text x="431.5" y="991.5" font-size="19" fill="#000" textLength="211" lengthAdjust="spacing" stroke="#000" stroke-width="0.23">Intra-expression distance</text>
<text x="431.5" y="1013" font-size="19" fill="#000" textLength="211" lengthAdjust="spacing" stroke="#000" stroke-width="0.23">Inter-expression distance</text>
<line x1="187" y1="1093.6" x2="298.5" y2="1056" stroke="#1010d0" stroke-width="2" />
<line x1="298.5" y1="1056" x2="320.5" y2="1112" stroke="#f01010" stroke-width="2" />
<defs><radialGradient id="fg12" cx="48%" cy="42%" r="58%"><stop offset="0" stop-color="#f0c8b8"/><stop offset="0.7" stop-color="#d09a88"/><stop offset="1" stop-color="#d09a88" stop-opacity="0"/></radialGradient><linearGradient id="fh12" x1="0" y1="0" x2="0" y2="1"><stop offset="0" stop-color="#2a9ab8"/><stop offset="1" stop-color="#2a9ab8" stop-opacity="0"/></linearGradient><clipPath id="fc12"><rect x="268" y="994" width="61.5" height="62"/></clipPath></defs>
<g clip-path="url(#fc12)">
<rect x="268" y="994" width="61.5" height="62" fill="#d8b4a4"/>
<ellipse cx="298.8" cy="1030.0" rx="30.8" ry="35.6" fill="url(#fg12)"/>
<rect x="268" y="994" width="61.5" height="19.8" fill="url(#fh12)" opacity="0.95"/>
<line x1="283.4" y1="1019.7" x2="293.2" y2="1019.7" stroke="#2a1a12" stroke-width="1.6" opacity="0.55"/>
<ellipse cx="288.3" cy="1023.8" rx="4.0" ry="1.7" fill="#1e120c" opacity="0.7"/>
<line x1="304.3" y1="1019.7" x2="314.1" y2="1019.7" stroke="#2a1a12" stroke-width="1.6" opacity="0.55"/>
<ellipse cx="309.2" cy="1023.8" rx="4.0" ry="1.7" fill="#1e120c" opacity="0.7"/>
<ellipse cx="300.0" cy="1034.9" rx="3.1" ry="1.6" fill="#4a2a1c" opacity="0.35"/>
<ellipse cx="298.8" cy="1042.4" rx="9.2" ry="3.4" fill="#5a1a18" opacity="0.8"/>
<ellipse cx="298.8" cy="1041.6" rx="7.4" ry="1.6" fill="#f4eee8" opacity="0.9"/>
<rect x="281.5" y="1020.7" width="13.5" height="6.2" rx="1.8" fill="none" stroke="#b82828" stroke-width="2.2"/>
<rect x="302.4" y="1020.7" width="13.5" height="6.2" rx="1.8" fill="none" stroke="#b82828" stroke-width="2.2"/>

</g>
<defs><radialGradient id="fg13" cx="48%" cy="42%" r="58%"><stop offset="0" stop-color="#e9c2a8"/><stop offset="0.7" stop-color="#c99478"/><stop offset="1" stop-color="#c99478" stop-opacity="0"/></radialGradient><linearGradient id="fh13" x1="0" y1="0" x2="0" y2="1"><stop offset="0" stop-color="#2a2020"/><stop offset="1" stop-color="#2a2020" stop-opacity="0"/></linearGradient><clipPath id="fc13"><rect x="126" y="1062.6" width="61" height="60.4"/></clipPath></defs>
<g clip-path="url(#fc13)">
<rect x="126" y="1062.6" width="61" height="60.4" fill="#3a3030"/>
<ellipse cx="156.5" cy="1097.6" rx="30.5" ry="34.7" fill="url(#fg13)"/>
<rect x="126" y="1062.6" width="61" height="19.3" fill="url(#fh13)" opacity="0.95"/>
<line x1="141.2" y1="1087.7" x2="151.0" y2="1087.7" stroke="#2a1a12" stroke-width="1.5" opacity="0.55"/>
<ellipse cx="146.1" cy="1091.6" rx="4.0" ry="1.7" fill="#1e120c" opacity="0.7"/>
<line x1="162.0" y1="1087.7" x2="171.8" y2="1087.7" stroke="#2a1a12" stroke-width="1.5" opacity="0.55"/>
<ellipse cx="166.9" cy="1091.6" rx="4.0" ry="1.7" fill="#1e120c" opacity="0.7"/>
<ellipse cx="157.7" cy="1102.5" rx="3.1" ry="1.5" fill="#4a2a1c" opacity="0.35"/>
<ellipse cx="156.5" cy="1109.7" rx="6.7" ry="2.1" fill="#7a2a24" opacity="0.55"/>
<rect x="139.4" y="1088.6" width="13.4" height="6.0" rx="1.8" fill="none" stroke="#2a1010" stroke-width="2.1"/>
<rect x="160.2" y="1088.6" width="13.4" height="6.0" rx="1.8" fill="none" stroke="#2a1010" stroke-width="2.1"/>

</g>
<defs><radialGradient id="fg14" cx="48%" cy="42%" r="58%"><stop offset="0" stop-color="#f0c8b8"/><stop offset="0.7" stop-color="#d09a88"/><stop offset="1" stop-color="#d09a88" stop-opacity="0"/></radialGradient><linearGradient id="fh14" x1="0" y1="0" x2="0" y2="1"><stop offset="0" stop-color="#2a9ab8"/><stop offset="1" stop-color="#2a9ab8" stop-opacity="0"/></linearGradient><clipPath id="fc14"><rect x="320.5" y="1083" width="61.5" height="60.6"/></clipPath></defs>
<g clip-path="url(#fc14)">
<rect x="320.5" y="1083" width="61.5" height="60.6" fill="#d8b4a4"/>
<ellipse cx="351.2" cy="1118.1" rx="30.8" ry="34.8" fill="url(#fg14)"/>
<rect x="320.5" y="1083" width="61.5" height="19.4" fill="url(#fh14)" opacity="0.95"/>
<line x1="335.9" y1="1108.1" x2="345.7" y2="1108.1" stroke="#2a1a12" stroke-width="1.5" opacity="0.55"/>
<ellipse cx="340.8" cy="1112.1" rx="4.0" ry="1.7" fill="#1e120c" opacity="0.7"/>
<line x1="356.8" y1="1108.1" x2="366.6" y2="1108.1" stroke="#2a1a12" stroke-width="1.5" opacity="0.55"/>
<ellipse cx="361.7" cy="1112.1" rx="4.0" ry="1.7" fill="#1e120c" opacity="0.7"/>
<ellipse cx="352.5" cy="1123.0" rx="3.1" ry="1.5" fill="#4a2a1c" opacity="0.35"/>
<ellipse cx="351.2" cy="1130.3" rx="6.8" ry="2.1" fill="#7a2a24" opacity="0.55"/>
<rect x="334.0" y="1109.1" width="13.5" height="6.1" rx="1.8" fill="none" stroke="#b82828" stroke-width="2.2"/>
<rect x="354.9" y="1109.1" width="13.5" height="6.1" rx="1.8" fill="none" stroke="#b82828" stroke-width="2.2"/>

</g>
<line x1="187" y1="1093.6" x2="298.5" y2="1056" stroke="#1010d0" stroke-width="2" />
<line x1="298.5" y1="1056" x2="320.5" y2="1112" stroke="#f01010" stroke-width="2" />
<rect x="268" y="974.5" width="35" height="20.5" fill="#fff" stroke="#000" stroke-width="1.6" />
<text x="285.5" y="990.5" font-size="14" fill="#000" font-weight="bold" text-anchor="middle" stroke="#000" stroke-width="0.17">ID 2</text>
<rect x="126" y="1044" width="33" height="19" fill="#fff" stroke="#000" stroke-width="1.6" />
<text x="142.5" y="1058.5" font-size="14" fill="#000" font-weight="bold" text-anchor="middle" stroke="#000" stroke-width="0.17">ID 1</text>
<rect x="321" y="1062.6" width="34" height="20.0" fill="#fff" stroke="#000" stroke-width="1.6" />
<text x="338.0" y="1078.1" font-size="14" fill="#000" font-weight="bold" text-anchor="middle" stroke="#000" stroke-width="0.17">ID 2</text>
<rect x="27" y="1162.5" width="82.5" height="22.5" fill="#000" />
<text x="28.5" y="1181" font-size="22" fill="#fff" font-weight="bold" textLength="79.5" lengthAdjust="spacing" stroke="#fff" stroke-width="0.4">Concept</text>
<text x="116" y="1180" font-size="20.7" fill="#304354" font-style="italic" word-spacing="0.48" textLength="537" lengthAdjust="spacing" stroke="#304354" stroke-width="0.25">ID shift: A phenomenon in which (marginal) distributions of</text>
<text x="27" y="1209.5" font-size="20.7" fill="#304354" font-style="italic" word-spacing="2.91" textLength="626" lengthAdjust="spacing" stroke="#304354" stroke-width="0.25">IDs are shifted by their attributes even though the label prediction</text>
<text x="27" y="1239" font-size="20.7" fill="#304354" font-style="italic" textLength="188" lengthAdjust="spacing" stroke="#304354" stroke-width="0.25">mechanism is same.</text>
<text x="172" y="1282" font-size="25" fill="#304354" textLength="388" lengthAdjust="spacing" stroke="#304354" stroke-width="0.30"><tspan font-style="italic" font-family="'Liberation Serif', 'Times New Roman', 'DejaVu Serif', 'DejaVu Sans', serif">p</tspan><tspan font-family="'Liberation Serif', 'Times New Roman', 'DejaVu Serif', 'DejaVu Sans', serif" font-size="65%" baseline-shift="0.55em">1</tspan><tspan font-family="'Liberation Serif', 'Times New Roman', 'DejaVu Serif', 'DejaVu Sans', serif">(</tspan><tspan font-weight="bold" font-style="italic" font-family="'Liberation Serif', 'Times New Roman', 'DejaVu Serif', 'DejaVu Sans', serif">y</tspan><tspan font-family="'Liberation Serif', 'Times New Roman', 'DejaVu Serif', 'DejaVu Sans', serif">|</tspan><tspan font-weight="bold" font-style="italic" font-family="'Liberation Serif', 'Times New Roman', 'DejaVu Serif', 'DejaVu Sans', serif">z</tspan><tspan font-family="'Liberation Serif', 'Times New Roman', 'DejaVu Serif', 'DejaVu Sans', serif">)</tspan><tspan font-family="'Liberation Serif', 'Times New Roman', 'DejaVu Serif', 'DejaVu Sans', serif"> = </tspan><tspan font-style="italic" font-family="'Liberation Serif', 'Times New Roman', 'DejaVu Serif', 'DejaVu Sans', serif">p</tspan><tspan font-family="'Liberation Serif', 'Times New Roman', 'DejaVu Serif', 'DejaVu Sans', serif" font-size="65%" baseline-shift="0.55em">2</tspan><tspan font-family="'Liberation Serif', 'Times New Roman', 'DejaVu Serif', 'DejaVu Sans', serif">(</tspan><tspan font-weight="bold" font-style="italic" font-family="'Liberation Serif', 'Times New Roman', 'DejaVu Serif', 'DejaVu Sans', serif">y</tspan><tspan font-family="'Liberation Serif', 'Times New Roman', 'DejaVu Serif', 'DejaVu Sans', serif">|</tspan><tspan font-weight="bold" font-style="italic" font-family="'Liberation Serif', 'Times New Roman', 'DejaVu Serif', 'DejaVu Sans', serif">z</tspan><tspan font-family="'Liberation Serif', 'Times New Roman', 'DejaVu Serif', 'DejaVu Sans', serif">)</tspan>  and  <tspan font-style="italic" font-family="'Liberation Serif', 'Times New Roman', 'DejaVu Serif', 'DejaVu Sans', serif">p</tspan><tspan font-family="'Liberation Serif', 'Times New Roman', 'DejaVu Serif', 'DejaVu Sans', serif" font-size="65%" baseline-shift="0.55em">1</tspan><tspan font-family="'Liberation Serif', 'Times New Roman', 'DejaVu Serif', 'DejaVu Sans', serif">(</tspan><tspan font-weight="bold" font-style="italic" font-family="'Liberation Serif', 'Times New Roman', 'DejaVu Serif', 'DejaVu Sans', serif">z</tspan><tspan font-family="'Liberation Serif', 'Times New Roman', 'DejaVu Serif', 'DejaVu Sans', serif">)</tspan><tspan font-family="'Liberation Serif', 'Times New Roman', 'DejaVu Serif', 'DejaVu Sans', serif"> ≠ </tspan><tspan font-style="italic" font-family="'Liberation Serif', 'Times New Roman', 'DejaVu Serif', 'DejaVu Sans', serif">p</tspan><tspan font-family="'Liberation Serif', 'Times New Roman', 'DejaVu Serif', 'DejaVu Sans', serif" font-size="65%" baseline-shift="0.55em">2</tspan><tspan font-family="'Liberation Serif', 'Times New Roman', 'DejaVu Serif', 'DejaVu Sans', serif">(</tspan><tspan font-weight="bold" font-style="italic" font-family="'Liberation Serif', 'Times New Roman', 'DejaVu Serif', 'DejaVu Sans', serif">z</tspan><tspan font-family="'Liberation Serif', 'Times New Roman', 'DejaVu Serif', 'DejaVu Sans', serif">)</tspan></text>
<text x="27" y="1328.6" font-size="20.7" fill="#304354" font-style="italic" word-spacing="0.96" textLength="520" lengthAdjust="spacing" stroke="#304354" stroke-width="0.25">where <tspan font-style="italic" font-family="'Liberation Serif', 'Times New Roman', 'DejaVu Serif', 'DejaVu Sans', serif">p</tspan><tspan font-family="'Liberation Serif', 'Times New Roman', 'DejaVu Serif', 'DejaVu Sans', serif" font-size="65%" baseline-shift="0.55em">1</tspan> and <tspan font-style="italic" font-family="'Liberation Serif', 'Times New Roman', 'DejaVu Serif', 'DejaVu Sans', serif">p</tspan><tspan font-family="'Liberation Serif', 'Times New Roman', 'DejaVu Serif', 'DejaVu Sans', serif" font-size="65%" baseline-shift="0.55em">2</tspan> denote distributions of two different IDs.</text>
<rect x="26" y="1365" width="10" height="30.5" fill="#000" />
<text x="41.7" y="1394" font-size="33.2" fill="#000" font-weight="bold" textLength="132.5" lengthAdjust="spacing" stroke="#000" stroke-width="0.40">Solution</text>
<text x="42" y="1439.6" font-size="20.7" fill="#304354" word-spacing="0.82" textLength="644" lengthAdjust="spacing" stroke="#304354" stroke-width="0.25">Find a <tspan font-weight="bold">predictor</tspan> <tspan font-style="italic" font-family="'Liberation Serif', 'Times New Roman', 'DejaVu Serif', 'DejaVu Sans', serif">f</tspan><tspan font-family="'Liberation Serif', 'Times New Roman', 'DejaVu Serif', 'DejaVu Sans', serif">: </tspan><tspan font-style="italic" font-family="'Liberation Serif', 'Times New Roman', 'DejaVu Serif', 'DejaVu Sans', serif">Z</tspan><tspan font-family="'Liberation Serif', 'Times New Roman', 'DejaVu Serif', 'DejaVu Sans', serif"> → </tspan><tspan font-style="italic" font-family="'Liberation Serif', 'Times New Roman', 'DejaVu Serif', 'DejaVu Sans', serif">Y</tspan> which solves the ID generalization problem.</text>
<rect x="29" y="1466" width="658.5" height="146" fill="#9a9a9a" opacity="0.6"/>
<rect x="26" y="1463" width="658.5" height="146" fill="#fff" stroke="#111" stroke-width="1.3" />
<text x="31" y="1481" font-size="16" fill="#111" font-style="italic" font-family="'Liberation Serif', 'Times New Roman', 'DejaVu Serif', 'DejaVu Sans', serif" textLength="647" lengthAdjust="spacing" stroke="#111" stroke-width="0.19"><tspan font-weight="bold" font-style="normal">Problem 1.</tspan> Let <tspan font-style="italic">Z</tspan><tspan font-size="65%" baseline-shift="0.55em">e</tspan> = {<tspan font-weight="bold">z</tspan><tspan font-size="65%" baseline-shift="0.55em">e</tspan>}<tspan font-size="65%" baseline-shift="-0.3em">e∈supp(ℰ</tspan><tspan font-size="50%" baseline-shift="-0.3em">tr)</tspan> be the training-purpose feature set collected from multiple IDs.</text>
<text x="31" y="1502" font-size="16" fill="#111" font-style="italic" font-family="'Liberation Serif', 'Times New Roman', 'DejaVu Serif', 'DejaVu Sans', serif" textLength="644" lengthAdjust="spacing" stroke="#111" stroke-width="0.19">The corresponding VA label set Y<tspan font-size="65%" baseline-shift="0.55em">e</tspan> is defined similarly. ℰ<tspan font-size="65%" baseline-shift="-0.3em">tr</tspan> is an index set of training environments</text>
<text x="31" y="1519" font-size="16" fill="#111" font-style="italic" font-family="'Liberation Serif', 'Times New Roman', 'DejaVu Serif', 'DejaVu Sans', serif" textLength="644" lengthAdjust="spacing" stroke="#111" stroke-width="0.19">and <tspan font-style="normal">supp(·)</tspan> stands for its support set. The cardinality of ℰ<tspan font-size="65%" baseline-shift="-0.3em">tr</tspan> is N. Then, the risk of predictor f for</text>
<text x="31" y="1537" font-size="16" fill="#111" font-style="italic" font-family="'Liberation Serif', 'Times New Roman', 'DejaVu Serif', 'DejaVu Sans', serif" textLength="192" lengthAdjust="spacing" stroke="#111" stroke-width="0.19">ID e is formulated as follows:</text>
<text x="230" y="1565" font-size="15.5" fill="#111" font-family="'Liberation Serif', 'Times New Roman', 'DejaVu Serif', 'DejaVu Sans', serif" stroke="#111" stroke-width="0.19">arg min</text>
<text x="268" y="1576" font-size="11" fill="#111" font-style="italic" font-family="'Liberation Serif', 'Times New Roman', 'DejaVu Serif', 'DejaVu Sans', serif" text-anchor="middle" stroke="#111" stroke-width="0.13">f</text>
<text x="320" y="1565" font-size="15.5" fill="#111" font-family="'Liberation Serif', 'Times New Roman', 'DejaVu Serif', 'DejaVu Sans', serif" text-anchor="middle" stroke="#111" stroke-width="0.19">max</text>
<text x="320" y="1576" font-size="11" fill="#111" font-family="'Liberation Serif', 'Times New Roman', 'DejaVu Serif', 'DejaVu Sans', serif" text-anchor="middle" stroke="#111" stroke-width="0.13">e∈supp(ℰ<tspan font-size="65%" baseline-shift="-0.3em">tr</tspan>)</text>
<text x="358" y="1565" font-size="15.5" fill="#111" font-family="'Liberation Serif', 'Times New Roman', 'DejaVu Serif', 'DejaVu Sans', serif" stroke="#111" stroke-width="0.19">𝔼<tspan font-size="65%" baseline-shift="0.55em">e</tspan>[ℒ(<tspan font-style="italic">f</tspan>(<tspan font-style="italic">Z</tspan><tspan font-size="65%" baseline-shift="0.55em">e</tspan>), <tspan font-style="italic">Y</tspan><tspan font-size="65%" baseline-shift="0.55em">e</tspan>)]</text>
<text x="658" y="1565" font-size="15.5" fill="#111" font-family="'Liberation Serif', 'Times New Roman', 'DejaVu Serif', 'DejaVu Sans', serif" stroke="#111" stroke-width="0.19">(1)</text>
<text x="31" y="1605" font-size="16" fill="#111" font-style="italic" font-family="'Liberation Serif', 'Times New Roman', 'DejaVu Serif', 'DejaVu Sans', serif" textLength="414" lengthAdjust="spacing" stroke="#111" stroke-width="0.19">where ℒ is a loss function based on mean-squared error (MSE).</text>
<circle cx="33.6" cy="1642.0" r="7.6" fill="#304354" />
<path d="M25.5,1639.6 L35.1,1639.6 L35.1,1637.4 L40.0,1642.0 L35.1,1646.6 L35.1,1644.4 L25.5,1644.4 Z" fill="#fff" />
<text x="49" y="1649" font-size="20.7" fill="#304354" word-spacing="0.69" textLength="597" lengthAdjust="spacing" stroke="#304354" stroke-width="0.25"><tspan font-weight="bold">Problem 1</tspan> is to minimize the empirical risk <tspan fill="#5b7286" stroke="#5b7286">(V. Vapnik, 1999)</tspan> of <tspan font-style="italic" font-family="'Liberation Serif', 'Times New Roman', 'DejaVu Serif', 'DejaVu Sans', serif">f</tspan></text>
<text x="47.6" y="1674" font-size="20.7" fill="#304354" word-spacing="0.18" textLength="278" lengthAdjust="spacing" stroke="#304354" stroke-width="0.25">from as many IDs as possible.</text>
<rect x="723" y="298" width="10" height="30.5" fill="#000" />
<text x="743" y="327" font-size="33.2" fill="#000" font-weight="bold" textLength="382.5" lengthAdjust="spacing" stroke="#000" stroke-width="0.40">Proposed Method: ELIM</text>
<defs><radialGradient id="fg15" cx="48%" cy="42%" r="58%"><stop offset="0" stop-color="#d09a78"/><stop offset="0.7" stop-color="#a86a4a"/><stop offset="1" stop-color="#a86a4a" stop-opacity="0"/></radialGradient><linearGradient id="fh15" x1="0" y1="0" x2="0" y2="1"><stop offset="0" stop-color="#6a4a30"/><stop offset="1" stop-color="#6a4a30" stop-opacity="0"/></linearGradient><clipPath id="fc15"><rect x="725.5" y="376" width="67" height="66"/></clipPath></defs>
<g clip-path="url(#fc15)">
<rect x="725.5" y="376" width="67" height="66" fill="#6a4a3a"/>
<ellipse cx="759.0" cy="414.3" rx="33.5" ry="38.0" fill="url(#fg15)"/>
<rect x="725.5" y="376" width="67" height="21.1" fill="url(#fh15)" opacity="0.95"/>
<line x1="742.2" y1="403.4" x2="753.0" y2="403.4" stroke="#2a1a12" stroke-width="1.7" opacity="0.55"/>
<ellipse cx="747.6" cy="407.7" rx="4.4" ry="1.8" fill="#1e120c" opacity="0.7"/>
<line x1="765.0" y1="403.4" x2="775.8" y2="403.4" stroke="#2a1a12" stroke-width="1.7" opacity="0.55"/>
<ellipse cx="770.4" cy="407.7" rx="4.4" ry="1.8" fill="#1e120c" opacity="0.7"/>
<ellipse cx="760.3" cy="419.6" rx="3.4" ry="1.7" fill="#4a2a1c" opacity="0.35"/>
<ellipse cx="759.0" cy="427.5" rx="10.0" ry="3.6" fill="#5a1a18" opacity="0.8"/>
<ellipse cx="759.0" cy="426.7" rx="8.0" ry="1.7" fill="#f4eee8" opacity="0.9"/>

</g>
<rect x="725.5" y="376" width="67" height="66" fill="none" stroke="#1414e0" stroke-width="2.2" />
<rect x="726.8" y="378" width="22" height="21" fill="#fff" stroke="#000" stroke-width="1.2" />
<text x="729.3" y="394" font-size="19" fill="#000" stroke="#000" stroke-width="0.23"><tspan font-style="italic" font-family="'Liberation Serif', 'Times New Roman', 'DejaVu Serif', 'DejaVu Sans', serif">e</tspan><tspan font-family="'Liberation Serif', 'Times New Roman', 'DejaVu Serif', 'DejaVu Sans', serif" font-size="62%" baseline-shift="-0.3em">1</tspan></text>
<defs><radialGradient id="fg16" cx="48%" cy="42%" r="58%"><stop offset="0" stop-color="#b57a58"/><stop offset="0.7" stop-color="#8a5236"/><stop offset="1" stop-color="#8a5236" stop-opacity="0"/></radialGradient><linearGradient id="fh16" x1="0" y1="0" x2="0" y2="1"><stop offset="0" stop-color="#1a1210"/><stop offset="1" stop-color="#1a1210" stop-opacity="0"/></linearGradient><clipPath id="fc16"><rect x="805" y="390" width="64" height="65"/></clipPath></defs>
<g clip-path="url(#fc16)">
<rect x="805" y="390" width="64" height="65" fill="#1a1210"/>
<ellipse cx="837.0" cy="427.7" rx="32.0" ry="37.4" fill="url(#fg16)"/>
<rect x="805" y="390" width="64" height="20.8" fill="url(#fh16)" opacity="0.95"/>
<line x1="821.0" y1="417.0" x2="831.2" y2="417.0" stroke="#2a1a12" stroke-width="1.6" opacity="0.55"/>
<ellipse cx="826.1" cy="421.2" rx="4.2" ry="1.8" fill="#1e120c" opacity="0.7"/>
<line x1="842.8" y1="417.0" x2="853.0" y2="417.0" stroke="#2a1a12" stroke-width="1.6" opacity="0.55"/>
<ellipse cx="847.9" cy="421.2" rx="4.2" ry="1.8" fill="#1e120c" opacity="0.7"/>
<ellipse cx="838.3" cy="432.9" rx="3.2" ry="1.6" fill="#4a2a1c" opacity="0.35"/>
<ellipse cx="837.0" cy="440.7" rx="9.6" ry="3.6" fill="#5a1a18" opacity="0.8"/>
<ellipse cx="837.0" cy="439.9" rx="7.7" ry="1.6" fill="#f4eee8" opacity="0.9"/>
<rect x="819.1" y="417.9" width="14.1" height="6.5" rx="1.9" fill="none" stroke="#2a1010" stroke-width="2.2"/>
<rect x="840.8" y="417.9" width="14.1" height="6.5" rx="1.9" fill="none" stroke="#2a1010" stroke-width="2.2"/>

</g>
<defs><radialGradient id="fg17" cx="48%" cy="42%" r="58%"><stop offset="0" stop-color="#e9c2a8"/><stop offset="0.7" stop-color="#c99478"/><stop offset="1" stop-color="#c99478" stop-opacity="0"/></radialGradient><linearGradient id="fh17" x1="0" y1="0" x2="0" y2="1"><stop offset="0" stop-color="#a8a098"/><stop offset="1" stop-color="#a8a098" stop-opacity="0"/></linearGradient><clipPath id="fc17"><rect x="868" y="390" width="67" height="65"/></clipPath></defs>
<g clip-path="url(#fc17)">
<rect x="868" y="390" width="67" height="65" fill="#a8a098"/>
<ellipse cx="901.5" cy="427.7" rx="33.5" ry="37.4" fill="url(#fg17)"/>
<line x1="884.8" y1="417.0" x2="895.5" y2="417.0" stroke="#2a1a12" stroke-width="1.6" opacity="0.55"/>
<ellipse cx="890.1" cy="421.2" rx="4.4" ry="1.8" fill="#1e120c" opacity="0.7"/>
<line x1="907.5" y1="417.0" x2="918.2" y2="417.0" stroke="#2a1a12" stroke-width="1.6" opacity="0.55"/>
<ellipse cx="912.9" cy="421.2" rx="4.4" ry="1.8" fill="#1e120c" opacity="0.7"/>
<ellipse cx="902.8" cy="432.9" rx="3.4" ry="1.6" fill="#4a2a1c" opacity="0.35"/>
<ellipse cx="901.5" cy="440.7" rx="7.4" ry="2.3" fill="#7a2a24" opacity="0.55"/>

</g>
<defs><radialGradient id="fg18" cx="48%" cy="42%" r="58%"><stop offset="0" stop-color="#c87a60"/><stop offset="0.7" stop-color="#9a4a38"/><stop offset="1" stop-color="#9a4a38" stop-opacity="0"/></radialGradient><linearGradient id="fh18" x1="0" y1="0" x2="0" y2="1"><stop offset="0" stop-color="#2a1a18"/><stop offset="1" stop-color="#2a1a18" stop-opacity="0"/></linearGradient><clipPath id="fc18"><rect x="741" y="455" width="64" height="62"/></clipPath></defs>
<g clip-path="url(#fc18)">
<rect x="741" y="455" width="64" height="62" fill="#3a2a28"/>
<ellipse cx="773.0" cy="491.0" rx="32.0" ry="35.6" fill="url(#fg18)"/>
<rect x="741" y="455" width="64" height="19.8" fill="url(#fh18)" opacity="0.95"/>
<line x1="757.0" y1="480.7" x2="767.2" y2="480.7" stroke="#2a1a12" stroke-width="1.6" opacity="0.55"/>
<ellipse cx="762.1" cy="484.8" rx="4.2" ry="1.7" fill="#1e120c" opacity="0.7"/>
<line x1="778.8" y1="480.7" x2="789.0" y2="480.7" stroke="#2a1a12" stroke-width="1.6" opacity="0.55"/>
<ellipse cx="783.9" cy="484.8" rx="4.2" ry="1.7" fill="#1e120c" opacity="0.7"/>
<ellipse cx="774.3" cy="495.9" rx="3.2" ry="1.6" fill="#4a2a1c" opacity="0.35"/>
<ellipse cx="773.0" cy="503.4" rx="7.0" ry="2.2" fill="#7a2a24" opacity="0.55"/>

</g>
<defs><radialGradient id="fg19" cx="48%" cy="42%" r="58%"><stop offset="0" stop-color="#e8d8d0"/><stop offset="0.7" stop-color="#b8a8a0"/><stop offset="1" stop-color="#b8a8a0" stop-opacity="0"/></radialGradient><linearGradient id="fh19" x1="0" y1="0" x2="0" y2="1"><stop offset="0" stop-color="#6a5040"/><stop offset="1" stop-color="#6a5040" stop-opacity="0"/></linearGradient><clipPath id="fc19"><rect x="805" y="455" width="64" height="62"/></clipPath></defs>
<g clip-path="url(#fc19)">
<rect x="805" y="455" width="64" height="62" fill="#b8b0a8"/>
<ellipse cx="837.0" cy="491.0" rx="32.0" ry="35.6" fill="url(#fg19)"/>
<rect x="805" y="455" width="64" height="19.8" fill="url(#fh19)" opacity="0.95"/>
<line x1="821.0" y1="480.7" x2="831.2" y2="480.7" stroke="#2a1a12" stroke-width="1.6" opacity="0.55"/>
<ellipse cx="826.1" cy="484.8" rx="4.2" ry="1.7" fill="#1e120c" opacity="0.7"/>
<line x1="842.8" y1="480.7" x2="853.0" y2="480.7" stroke="#2a1a12" stroke-width="1.6" opacity="0.55"/>
<ellipse cx="847.9" cy="484.8" rx="4.2" ry="1.7" fill="#1e120c" opacity="0.7"/>
<ellipse cx="838.3" cy="495.9" rx="3.2" ry="1.6" fill="#4a2a1c" opacity="0.35"/>
<ellipse cx="837.0" cy="503.4" rx="7.0" ry="2.2" fill="#7a2a24" opacity="0.55"/>

</g>
<defs><radialGradient id="fg20" cx="48%" cy="42%" r="58%"><stop offset="0" stop-color="#f0c8b8"/><stop offset="0.7" stop-color="#d09a88"/><stop offset="1" stop-color="#d09a88" stop-opacity="0"/></radialGradient><linearGradient id="fh20" x1="0" y1="0" x2="0" y2="1"><stop offset="0" stop-color="#2a1810"/><stop offset="1" stop-color="#2a1810" stop-opacity="0"/></linearGradient><clipPath id="fc20"><rect x="868" y="455" width="67" height="62"/></clipPath></defs>
<g clip-path="url(#fc20)">
<rect x="868" y="455" width="67" height="62" fill="#3a2018"/>
<ellipse cx="901.5" cy="491.0" rx="33.5" ry="35.6" fill="url(#fg20)"/>
<rect x="868" y="455" width="67" height="19.8" fill="url(#fh20)" opacity="0.95"/>
<line x1="884.8" y1="480.7" x2="895.5" y2="480.7" stroke="#2a1a12" stroke-width="1.6" opacity="0.55"/>
<ellipse cx="890.1" cy="484.8" rx="4.4" ry="1.7" fill="#1e120c" opacity="0.7"/>
<line x1="907.5" y1="480.7" x2="918.2" y2="480.7" stroke="#2a1a12" stroke-width="1.6" opacity="0.55"/>
<ellipse cx="912.9" cy="484.8" rx="4.4" ry="1.7" fill="#1e120c" opacity="0.7"/>
<ellipse cx="902.8" cy="495.9" rx="3.4" ry="1.6" fill="#4a2a1c" opacity="0.35"/>
<ellipse cx="901.5" cy="503.4" rx="10.0" ry="3.4" fill="#5a1a18" opacity="0.8"/>
<ellipse cx="901.5" cy="502.6" rx="8.0" ry="1.6" fill="#f4eee8" opacity="0.9"/>

</g>
<defs><radialGradient id="fg21" cx="48%" cy="42%" r="58%"><stop offset="0" stop-color="#7a4a34"/><stop offset="0.7" stop-color="#4a2a1c"/><stop offset="1" stop-color="#4a2a1c" stop-opacity="0"/></radialGradient><linearGradient id="fh21" x1="0" y1="0" x2="0" y2="1"><stop offset="0" stop-color="#5a6a8a"/><stop offset="1" stop-color="#5a6a8a" stop-opacity="0"/></linearGradient><clipPath id="fc21"><rect x="741" y="517" width="64" height="63"/></clipPath></defs>
<g clip-path="url(#fc21)">
<rect x="741" y="517" width="64" height="63" fill="#8a8a9a"/>
<ellipse cx="773.0" cy="553.5" rx="32.0" ry="36.2" fill="url(#fg21)"/>
<rect x="741" y="517" width="64" height="20.2" fill="url(#fh21)" opacity="0.95"/>
<line x1="757.0" y1="543.1" x2="767.2" y2="543.1" stroke="#2a1a12" stroke-width="1.6" opacity="0.55"/>
<ellipse cx="762.1" cy="547.2" rx="4.2" ry="1.8" fill="#1e120c" opacity="0.7"/>
<line x1="778.8" y1="543.1" x2="789.0" y2="543.1" stroke="#2a1a12" stroke-width="1.6" opacity="0.55"/>
<ellipse cx="783.9" cy="547.2" rx="4.2" ry="1.8" fill="#1e120c" opacity="0.7"/>
<ellipse cx="774.3" cy="558.6" rx="3.2" ry="1.6" fill="#4a2a1c" opacity="0.35"/>
<ellipse cx="773.0" cy="566.1" rx="9.6" ry="3.5" fill="#5a1a18" opacity="0.8"/>
<ellipse cx="773.0" cy="565.4" rx="7.7" ry="1.6" fill="#f4eee8" opacity="0.9"/>

</g>
<defs><radialGradient id="fg22" cx="48%" cy="42%" r="58%"><stop offset="0" stop-color="#5a3828"/><stop offset="0.7" stop-color="#2e1c12"/><stop offset="1" stop-color="#2e1c12" stop-opacity="0"/></radialGradient><linearGradient id="fh22" x1="0" y1="0" x2="0" y2="1"><stop offset="0" stop-color="#1a1a20"/><stop offset="1" stop-color="#1a1a20" stop-opacity="0"/></linearGradient><clipPath id="fc22"><rect x="805" y="517" width="64" height="63"/></clipPath></defs>
<g clip-path="url(#fc22)">
<rect x="805" y="517" width="64" height="63" fill="#5a6a88"/>
<ellipse cx="837.0" cy="553.5" rx="32.0" ry="36.2" fill="url(#fg22)"/>
<rect x="805" y="517" width="64" height="20.2" fill="url(#fh22)" opacity="0.95"/>
<line x1="821.0" y1="543.1" x2="831.2" y2="543.1" stroke="#2a1a12" stroke-width="1.6" opacity="0.55"/>
<ellipse cx="826.1" cy="547.2" rx="4.2" ry="1.8" fill="#1e120c" opacity="0.7"/>
<line x1="842.8" y1="543.1" x2="853.0" y2="543.1" stroke="#2a1a12" stroke-width="1.6" opacity="0.55"/>
<ellipse cx="847.9" cy="547.2" rx="4.2" ry="1.8" fill="#1e120c" opacity="0.7"/>
<ellipse cx="838.3" cy="558.6" rx="3.2" ry="1.6" fill="#4a2a1c" opacity="0.35"/>
<ellipse cx="837.0" cy="566.1" rx="9.6" ry="3.5" fill="#5a1a18" opacity="0.8"/>
<ellipse cx="837.0" cy="565.4" rx="7.7" ry="1.6" fill="#f4eee8" opacity="0.9"/>

</g>
<defs><radialGradient id="fg23" cx="48%" cy="42%" r="58%"><stop offset="0" stop-color="#f0c8b8"/><stop offset="0.7" stop-color="#d09a88"/><stop offset="1" stop-color="#d09a88" stop-opacity="0"/></radialGradient><linearGradient id="fh23" x1="0" y1="0" x2="0" y2="1"><stop offset="0" stop-color="#3a2a28"/><stop offset="1" stop-color="#3a2a28" stop-opacity="0"/></linearGradient><clipPath id="fc23"><rect x="868" y="517" width="67" height="63"/></clipPath></defs>
<g clip-path="url(#fc23)">
<rect x="868" y="517" width="67" height="63" fill="#c8b8b0"/>
<ellipse cx="901.5" cy="553.5" rx="33.5" ry="36.2" fill="url(#fg23)"/>
<rect x="868" y="517" width="67" height="20.2" fill="url(#fh23)" opacity="0.95"/>
<line x1="884.8" y1="543.1" x2="895.5" y2="543.1" stroke="#2a1a12" stroke-width="1.6" opacity="0.55"/>
<ellipse cx="890.1" cy="547.2" rx="4.4" ry="1.8" fill="#1e120c" opacity="0.7"/>
<line x1="907.5" y1="543.1" x2="918.2" y2="543.1" stroke="#2a1a12" stroke-width="1.6" opacity="0.55"/>
<ellipse cx="912.9" cy="547.2" rx="4.4" ry="1.8" fill="#1e120c" opacity="0.7"/>
<ellipse cx="902.8" cy="558.6" rx="3.4" ry="1.6" fill="#4a2a1c" opacity="0.35"/>
<ellipse cx="901.5" cy="566.1" rx="7.4" ry="2.2" fill="#7a2a24" opacity="0.55"/>

</g>
<path d="M805,390 L935,390 L935,580 L741,580 L741,455 L805,455 Z" fill="none" stroke="#f01010" stroke-width="2.0" />
<rect x="807" y="392.5" width="22" height="21" fill="#fff" stroke="#000" stroke-width="1.2" />
<text x="809.5" y="408.5" font-size="19" fill="#000" stroke="#000" stroke-width="0.23"><tspan font-style="italic" font-family="'Liberation Serif', 'Times New Roman', 'DejaVu Serif', 'DejaVu Sans', serif">e</tspan><tspan font-family="'Liberation Serif', 'Times New Roman', 'DejaVu Serif', 'DejaVu Sans', serif" font-size="62%" baseline-shift="-0.3em">2</tspan></text>
<rect x="870" y="392.5" width="22" height="21" fill="#fff" stroke="#000" stroke-width="1.2" />
<text x="872.5" y="408.5" font-size="19" fill="#000" stroke="#000" stroke-width="0.23"><tspan font-style="italic" font-family="'Liberation Serif', 'Times New Roman', 'DejaVu Serif', 'DejaVu Sans', serif">e</tspan><tspan font-family="'Liberation Serif', 'Times New Roman', 'DejaVu Serif', 'DejaVu Sans', serif" font-size="62%" baseline-shift="-0.3em">3</tspan></text>
<rect x="743" y="457.5" width="22" height="21" fill="#fff" stroke="#000" stroke-width="1.2" />
<text x="745.5" y="473.5" font-size="19" fill="#000" stroke="#000" stroke-width="0.23"><tspan font-style="italic" font-family="'Liberation Serif', 'Times New Roman', 'DejaVu Serif', 'DejaVu Sans', serif">e</tspan><tspan font-family="'Liberation Serif', 'Times New Roman', 'DejaVu Serif', 'DejaVu Sans', serif" font-size="62%" baseline-shift="-0.3em">4</tspan></text>
<rect x="807" y="457.5" width="22" height="21" fill="#fff" stroke="#000" stroke-width="1.2" />
<text x="809.5" y="473.5" font-size="19" fill="#000" stroke="#000" stroke-width="0.23"><tspan font-style="italic" font-family="'Liberation Serif', 'Times New Roman', 'DejaVu Serif', 'DejaVu Sans', serif">e</tspan><tspan font-family="'Liberation Serif', 'Times New Roman', 'DejaVu Serif', 'DejaVu Sans', serif" font-size="62%" baseline-shift="-0.3em">5</tspan></text>
<rect x="870" y="457.5" width="22" height="21" fill="#fff" stroke="#000" stroke-width="1.2" />
<text x="872.5" y="473.5" font-size="19" fill="#000" stroke="#000" stroke-width="0.23"><tspan font-style="italic" font-family="'Liberation Serif', 'Times New Roman', 'DejaVu Serif', 'DejaVu Sans', serif">e</tspan><tspan font-family="'Liberation Serif', 'Times New Roman', 'DejaVu Serif', 'DejaVu Sans', serif" font-size="62%" baseline-shift="-0.3em">6</tspan></text>
<rect x="743" y="519.5" width="22" height="21" fill="#fff" stroke="#000" stroke-width="1.2" />
<text x="745.5" y="535.5" font-size="19" fill="#000" stroke="#000" stroke-width="0.23"><tspan font-style="italic" font-family="'Liberation Serif', 'Times New Roman', 'DejaVu Serif', 'DejaVu Sans', serif">e</tspan><tspan font-family="'Liberation Serif', 'Times New Roman', 'DejaVu Serif', 'DejaVu Sans', serif" font-size="62%" baseline-shift="-0.3em">7</tspan></text>
<rect x="807" y="519.5" width="22" height="21" fill="#fff" stroke="#000" stroke-width="1.2" />
<text x="809.5" y="535.5" font-size="19" fill="#000" stroke="#000" stroke-width="0.23"><tspan font-style="italic" font-family="'Liberation Serif', 'Times New Roman', 'DejaVu Serif', 'DejaVu Sans', serif">e</tspan><tspan font-family="'Liberation Serif', 'Times New Roman', 'DejaVu Serif', 'DejaVu Sans', serif" font-size="62%" baseline-shift="-0.3em">8</tspan></text>
<rect x="870" y="519.5" width="22" height="21" fill="#fff" stroke="#000" stroke-width="1.2" />
<text x="872.5" y="535.5" font-size="19" fill="#000" stroke="#000" stroke-width="0.23"><tspan font-style="italic" font-family="'Liberation Serif', 'Times New Roman', 'DejaVu Serif', 'DejaVu Sans', serif">e</tspan><tspan font-family="'Liberation Serif', 'Times New Roman', 'DejaVu Serif', 'DejaVu Sans', serif" font-size="62%" baseline-shift="-0.3em">9</tspan></text>
<path d="M957.6,485 L985,485 L1002,503 L985,521 L957.6,521 L973,503 Z" fill="#fff" stroke="#444" stroke-width="1.2" />
<text x="835" y="615" font-size="22" fill="#000" font-family="'DejaVu Sans', sans-serif" text-anchor="middle" stroke="#000" stroke-width="0.26">⋮</text>
<text x="789" y="648.6" font-size="19.5" fill="#000" textLength="92.5" lengthAdjust="spacing" stroke="#000" stroke-width="0.23">Total <tspan font-style="italic" font-family="'Liberation Serif', 'Times New Roman', 'DejaVu Serif', 'DejaVu Sans', serif">N</tspan> IDs</text>
<text x="1108" y="374" font-size="19.5" fill="#000" text-anchor="end" stroke="#000" stroke-width="0.23">Reference ID</text>
<text x="962.8" y="398.6" font-size="19.5" fill="#000" textLength="145" lengthAdjust="spacing" stroke="#000" stroke-width="0.23">having <tspan font-style="italic" font-family="'Liberation Serif', 'Times New Roman', 'DejaVu Serif', 'DejaVu Sans', serif">n</tspan> samples</text>
<rect x="1007" y="405.5" width="100" height="73.5" fill="#fff" stroke="#000" stroke-width="2" rx="13" />
<defs><radialGradient id="fg24" cx="48%" cy="42%" r="58%"><stop offset="0" stop-color="#d09a78"/><stop offset="0.7" stop-color="#a86a4a"/><stop offset="1" stop-color="#a86a4a" stop-opacity="0"/></radialGradient><linearGradient id="fh24" x1="0" y1="0" x2="0" y2="1"><stop offset="0" stop-color="#5a3a28"/><stop offset="1" stop-color="#5a3a28" stop-opacity="0"/></linearGradient><clipPath id="fc24"><rect x="1014.0" y="412" width="32.5" height="32"/></clipPath></defs>
<g clip-path="url(#fc24)">
<rect x="1014.0" y="412" width="32.5" height="32" fill="#4a3a30"/>
<ellipse cx="1030.2" cy="430.6" rx="16.2" ry="18.4" fill="url(#fg24)"/>
<rect x="1014.0" y="412" width="32.5" height="10.2" fill="url(#fh24)" opacity="0.95"/>
<line x1="1022.1" y1="425.3" x2="1027.3" y2="425.3" stroke="#2a1a12" stroke-width="0.8" opacity="0.55"/>
<ellipse cx="1024.7" cy="427.4" rx="2.1" ry="0.9" fill="#1e120c" opacity="0.7"/>
<line x1="1033.2" y1="425.3" x2="1038.4" y2="425.3" stroke="#2a1a12" stroke-width="0.8" opacity="0.55"/>
<ellipse cx="1035.8" cy="427.4" rx="2.1" ry="0.9" fill="#1e120c" opacity="0.7"/>
<ellipse cx="1030.9" cy="433.1" rx="1.6" ry="0.8" fill="#4a2a1c" opacity="0.35"/>
<ellipse cx="1030.2" cy="437.0" rx="4.9" ry="1.8" fill="#5a1a18" opacity="0.8"/>
<ellipse cx="1030.2" cy="436.6" rx="3.9" ry="0.8" fill="#f4eee8" opacity="0.9"/>

</g>
<defs><radialGradient id="fg25" cx="48%" cy="42%" r="58%"><stop offset="0" stop-color="#d09a78"/><stop offset="0.7" stop-color="#a86a4a"/><stop offset="1" stop-color="#a86a4a" stop-opacity="0"/></radialGradient><linearGradient id="fh25" x1="0" y1="0" x2="0" y2="1"><stop offset="0" stop-color="#5a3a28"/><stop offset="1" stop-color="#5a3a28" stop-opacity="0"/></linearGradient><clipPath id="fc25"><rect x="1014.0" y="444" width="32.5" height="32"/></clipPath></defs>
<g clip-path="url(#fc25)">
<rect x="1014.0" y="444" width="32.5" height="32" fill="#4a3a30"/>
<ellipse cx="1030.2" cy="462.6" rx="16.2" ry="18.4" fill="url(#fg25)"/>
<rect x="1014.0" y="444" width="32.5" height="10.2" fill="url(#fh25)" opacity="0.95"/>
<line x1="1022.1" y1="457.3" x2="1027.3" y2="457.3" stroke="#2a1a12" stroke-width="0.8" opacity="0.55"/>
<ellipse cx="1024.7" cy="459.4" rx="2.1" ry="0.9" fill="#1e120c" opacity="0.7"/>
<line x1="1033.2" y1="457.3" x2="1038.4" y2="457.3" stroke="#2a1a12" stroke-width="0.8" opacity="0.55"/>
<ellipse cx="1035.8" cy="459.4" rx="2.1" ry="0.9" fill="#1e120c" opacity="0.7"/>
<ellipse cx="1030.9" cy="465.1" rx="1.6" ry="0.8" fill="#4a2a1c" opacity="0.35"/>
<ellipse cx="1030.2" cy="469.0" rx="4.9" ry="1.8" fill="#5a1a18" opacity="0.8"/>
<ellipse cx="1030.2" cy="468.6" rx="3.9" ry="0.8" fill="#f4eee8" opacity="0.9"/>

</g>
<defs><radialGradient id="fg26" cx="48%" cy="42%" r="58%"><stop offset="0" stop-color="#d09a78"/><stop offset="0.7" stop-color="#a86a4a"/><stop offset="1" stop-color="#a86a4a" stop-opacity="0"/></radialGradient><linearGradient id="fh26" x1="0" y1="0" x2="0" y2="1"><stop offset="0" stop-color="#5a3a28"/><stop offset="1" stop-color="#5a3a28" stop-opacity="0"/></linearGradient><clipPath id="fc26"><rect x="1046.5" y="412" width="32.5" height="32"/></clipPath></defs>
<g clip-path="url(#fc26)">
<rect x="1046.5" y="412" width="32.5" height="32" fill="#4a3a30"/>
<ellipse cx="1062.8" cy="430.6" rx="16.2" ry="18.4" fill="url(#fg26)"/>
<rect x="1046.5" y="412" width="32.5" height="10.2" fill="url(#fh26)" opacity="0.95"/>
<line x1="1054.6" y1="425.3" x2="1059.8" y2="425.3" stroke="#2a1a12" stroke-width="0.8" opacity="0.55"/>
<ellipse cx="1057.2" cy="427.4" rx="2.1" ry="0.9" fill="#1e120c" opacity="0.7"/>
<line x1="1065.7" y1="425.3" x2="1070.9" y2="425.3" stroke="#2a1a12" stroke-width="0.8" opacity="0.55"/>
<ellipse cx="1068.3" cy="427.4" rx="2.1" ry="0.9" fill="#1e120c" opacity="0.7"/>
<ellipse cx="1063.4" cy="433.1" rx="1.6" ry="0.8" fill="#4a2a1c" opacity="0.35"/>
<ellipse cx="1062.8" cy="437.0" rx="4.9" ry="1.8" fill="#5a1a18" opacity="0.8"/>
<ellipse cx="1062.8" cy="436.6" rx="3.9" ry="0.8" fill="#f4eee8" opacity="0.9"/>

</g>
<defs><radialGradient id="fg27" cx="48%" cy="42%" r="58%"><stop offset="0" stop-color="#d09a78"/><stop offset="0.7" stop-color="#a86a4a"/><stop offset="1" stop-color="#a86a4a" stop-opacity="0"/></radialGradient><linearGradient id="fh27" x1="0" y1="0" x2="0" y2="1"><stop offset="0" stop-color="#5a3a28"/><stop offset="1" stop-color="#5a3a28" stop-opacity="0"/></linearGradient><clipPath id="fc27"><rect x="1046.5" y="444" width="32.5" height="32"/></clipPath></defs>
<g clip-path="url(#fc27)">
<rect x="1046.5" y="444" width="32.5" height="32" fill="#4a3a30"/>
<ellipse cx="1062.8" cy="462.6" rx="16.2" ry="18.4" fill="url(#fg27)"/>
<rect x="1046.5" y="444" width="32.5" height="10.2" fill="url(#fh27)" opacity="0.95"/>
<line x1="1054.6" y1="457.3" x2="1059.8" y2="457.3" stroke="#2a1a12" stroke-width="0.8" opacity="0.55"/>
<ellipse cx="1057.2" cy="459.4" rx="2.1" ry="0.9" fill="#1e120c" opacity="0.7"/>
<line x1="1065.7" y1="457.3" x2="1070.9" y2="457.3" stroke="#2a1a12" stroke-width="0.8" opacity="0.55"/>
<ellipse cx="1068.3" cy="459.4" rx="2.1" ry="0.9" fill="#1e120c" opacity="0.7"/>
<ellipse cx="1063.4" cy="465.1" rx="1.6" ry="0.8" fill="#4a2a1c" opacity="0.35"/>
<ellipse cx="1062.8" cy="469.0" rx="4.9" ry="1.8" fill="#5a1a18" opacity="0.8"/>
<ellipse cx="1062.8" cy="468.6" rx="3.9" ry="0.8" fill="#f4eee8" opacity="0.9"/>

</g>
<text x="1080" y="421.6" font-size="21" fill="#000" stroke="#000" stroke-width="0.25"><tspan font-style="italic" font-family="'Liberation Serif', 'Times New Roman', 'DejaVu Serif', 'DejaVu Sans', serif">e</tspan><tspan font-family="'Liberation Serif', 'Times New Roman', 'DejaVu Serif', 'DejaVu Sans', serif" font-size="65%" baseline-shift="-0.3em">1</tspan></text>
<rect x="1011" y="547" width="100" height="71" fill="#fff" stroke="#000" stroke-width="2" rx="13" />
<defs><radialGradient id="fg28" cx="48%" cy="42%" r="58%"><stop offset="0" stop-color="#b57a58"/><stop offset="0.7" stop-color="#8a5236"/><stop offset="1" stop-color="#8a5236" stop-opacity="0"/></radialGradient><linearGradient id="fh28" x1="0" y1="0" x2="0" y2="1"><stop offset="0" stop-color="#1a1210"/><stop offset="1" stop-color="#1a1210" stop-opacity="0"/></linearGradient><clipPath id="fc28"><rect x="1019.0" y="553.0" width="31.5" height="31.3"/></clipPath></defs>
<g clip-path="url(#fc28)">
<rect x="1019.0" y="553.0" width="31.5" height="31.3" fill="#1a1210"/>
<ellipse cx="1034.8" cy="571.2" rx="15.8" ry="18.0" fill="url(#fg28)"/>
<rect x="1019.0" y="553.0" width="31.5" height="10.0" fill="url(#fh28)" opacity="0.95"/>
<line x1="1026.9" y1="566.0" x2="1031.9" y2="566.0" stroke="#2a1a12" stroke-width="0.8" opacity="0.55"/>
<ellipse cx="1029.4" cy="568.0" rx="2.0" ry="0.9" fill="#1e120c" opacity="0.7"/>
<line x1="1037.6" y1="566.0" x2="1042.6" y2="566.0" stroke="#2a1a12" stroke-width="0.8" opacity="0.55"/>
<ellipse cx="1040.1" cy="568.0" rx="2.0" ry="0.9" fill="#1e120c" opacity="0.7"/>
<ellipse cx="1035.4" cy="573.7" rx="1.6" ry="0.8" fill="#4a2a1c" opacity="0.35"/>
<ellipse cx="1034.8" cy="577.4" rx="3.5" ry="1.1" fill="#7a2a24" opacity="0.55"/>
<rect x="1025.9" y="566.5" width="6.9" height="3.1" rx="0.9" fill="none" stroke="#2a1010" stroke-width="1.1"/>
<rect x="1036.6" y="566.5" width="6.9" height="3.1" rx="0.9" fill="none" stroke="#2a1010" stroke-width="1.1"/>

</g>
<defs><radialGradient id="fg29" cx="48%" cy="42%" r="58%"><stop offset="0" stop-color="#b57a58"/><stop offset="0.7" stop-color="#8a5236"/><stop offset="1" stop-color="#8a5236" stop-opacity="0"/></radialGradient><linearGradient id="fh29" x1="0" y1="0" x2="0" y2="1"><stop offset="0" stop-color="#1a1210"/><stop offset="1" stop-color="#1a1210" stop-opacity="0"/></linearGradient><clipPath id="fc29"><rect x="1019.0" y="584.3" width="31.5" height="31.3"/></clipPath></defs>
<g clip-path="url(#fc29)">
<rect x="1019.0" y="584.3" width="31.5" height="31.3" fill="#1a1210"/>
<ellipse cx="1034.8" cy="602.5" rx="15.8" ry="18.0" fill="url(#fg29)"/>
<rect x="1019.0" y="584.3" width="31.5" height="10.0" fill="url(#fh29)" opacity="0.95"/>
<line x1="1026.9" y1="597.3" x2="1031.9" y2="597.3" stroke="#2a1a12" stroke-width="0.8" opacity="0.55"/>
<ellipse cx="1029.4" cy="599.3" rx="2.0" ry="0.9" fill="#1e120c" opacity="0.7"/>
<line x1="1037.6" y1="597.3" x2="1042.6" y2="597.3" stroke="#2a1a12" stroke-width="0.8" opacity="0.55"/>
<ellipse cx="1040.1" cy="599.3" rx="2.0" ry="0.9" fill="#1e120c" opacity="0.7"/>
<ellipse cx="1035.4" cy="605.0" rx="1.6" ry="0.8" fill="#4a2a1c" opacity="0.35"/>
<ellipse cx="1034.8" cy="608.7" rx="3.5" ry="1.1" fill="#7a2a24" opacity="0.55"/>
<rect x="1025.9" y="597.8" width="6.9" height="3.1" rx="0.9" fill="none" stroke="#2a1010" stroke-width="1.1"/>
<rect x="1036.6" y="597.8" width="6.9" height="3.1" rx="0.9" fill="none" stroke="#2a1010" stroke-width="1.1"/>

</g>
<defs><radialGradient id="fg30" cx="48%" cy="42%" r="58%"><stop offset="0" stop-color="#b57a58"/><stop offset="0.7" stop-color="#8a5236"/><stop offset="1" stop-color="#8a5236" stop-opacity="0"/></radialGradient><linearGradient id="fh30" x1="0" y1="0" x2="0" y2="1"><stop offset="0" stop-color="#1a1210"/><stop offset="1" stop-color="#1a1210" stop-opacity="0"/></linearGradient><clipPath id="fc30"><rect x="1050.5" y="553.0" width="31.5" height="31.3"/></clipPath></defs>
<g clip-path="url(#fc30)">
<rect x="1050.5" y="553.0" width="31.5" height="31.3" fill="#1a1210"/>
<ellipse cx="1066.2" cy="571.2" rx="15.8" ry="18.0" fill="url(#fg30)"/>
<rect x="1050.5" y="553.0" width="31.5" height="10.0" fill="url(#fh30)" opacity="0.95"/>
<line x1="1058.4" y1="566.0" x2="1063.4" y2="566.0" stroke="#2a1a12" stroke-width="0.8" opacity="0.55"/>
<ellipse cx="1060.9" cy="568.0" rx="2.0" ry="0.9" fill="#1e120c" opacity="0.7"/>
<line x1="1069.1" y1="566.0" x2="1074.1" y2="566.0" stroke="#2a1a12" stroke-width="0.8" opacity="0.55"/>
<ellipse cx="1071.6" cy="568.0" rx="2.0" ry="0.9" fill="#1e120c" opacity="0.7"/>
<ellipse cx="1066.9" cy="573.7" rx="1.6" ry="0.8" fill="#4a2a1c" opacity="0.35"/>
<ellipse cx="1066.2" cy="577.4" rx="3.5" ry="1.1" fill="#7a2a24" opacity="0.55"/>
<rect x="1057.4" y="566.5" width="6.9" height="3.1" rx="0.9" fill="none" stroke="#2a1010" stroke-width="1.1"/>
<rect x="1068.1" y="566.5" width="6.9" height="3.1" rx="0.9" fill="none" stroke="#2a1010" stroke-width="1.1"/>

</g>
<defs><radialGradient id="fg31" cx="48%" cy="42%" r="58%"><stop offset="0" stop-color="#b57a58"/><stop offset="0.7" stop-color="#8a5236"/><stop offset="1" stop-color="#8a5236" stop-opacity="0"/></radialGradient><linearGradient id="fh31" x1="0" y1="0" x2="0" y2="1"><stop offset="0" stop-color="#1a1210"/><stop offset="1" stop-color="#1a1210" stop-opacity="0"/></linearGradient><clipPath id="fc31"><rect x="1050.5" y="584.3" width="31.5" height="31.3"/></clipPath></defs>
<g clip-path="url(#fc31)">
<rect x="1050.5" y="584.3" width="31.5" height="31.3" fill="#1a1210"/>
<ellipse cx="1066.2" cy="602.5" rx="15.8" ry="18.0" fill="url(#fg31)"/>
<rect x="1050.5" y="584.3" width="31.5" height="10.0" fill="url(#fh31)" opacity="0.95"/>
<line x1="1058.4" y1="597.3" x2="1063.4" y2="597.3" stroke="#2a1a12" stroke-width="0.8" opacity="0.55"/>
<ellipse cx="1060.9" cy="599.3" rx="2.0" ry="0.9" fill="#1e120c" opacity="0.7"/>
<line x1="1069.1" y1="597.3" x2="1074.1" y2="597.3" stroke="#2a1a12" stroke-width="0.8" opacity="0.55"/>
<ellipse cx="1071.6" cy="599.3" rx="2.0" ry="0.9" fill="#1e120c" opacity="0.7"/>
<ellipse cx="1066.9" cy="605.0" rx="1.6" ry="0.8" fill="#4a2a1c" opacity="0.35"/>
<ellipse cx="1066.2" cy="608.7" rx="3.5" ry="1.1" fill="#7a2a24" opacity="0.55"/>
<rect x="1057.4" y="597.8" width="6.9" height="3.1" rx="0.9" fill="none" stroke="#2a1010" stroke-width="1.1"/>
<rect x="1068.1" y="597.8" width="6.9" height="3.1" rx="0.9" fill="none" stroke="#2a1010" stroke-width="1.1"/>

</g>
<text x="1082.6" y="563" font-size="21" fill="#000" stroke="#000" stroke-width="0.25"><tspan font-style="italic" font-family="'Liberation Serif', 'Times New Roman', 'DejaVu Serif', 'DejaVu Sans', serif">e</tspan><tspan font-family="'Liberation Serif', 'Times New Roman', 'DejaVu Serif', 'DejaVu Sans', serif" font-size="65%" baseline-shift="-0.3em">2</tspan></text>
<text x="1111" y="639.7" font-size="19.5" fill="#000" text-anchor="end" stroke="#000" stroke-width="0.23">Target ID</text>
<text x="960.7" y="664" font-size="19.5" fill="#000" textLength="150" lengthAdjust="spacing" stroke="#000" stroke-width="0.23">having <tspan font-style="italic" font-family="'Liberation Serif', 'Times New Roman', 'DejaVu Serif', 'DejaVu Sans', serif">m</tspan> samples</text>
<line x1="1109.7" y1="444" x2="1132" y2="444" stroke="#000" stroke-width="1.3" />
<path d="M1132.0,444.0 L1125.0,447.5 L1125.0,440.5 Z" fill="#000"/>
<line x1="1112.4" y1="583" x2="1135" y2="583" stroke="#000" stroke-width="1.3" />
<path d="M1135.0,583.0 L1128.0,586.5 L1128.0,579.5 Z" fill="#000"/>
<rect x="1129.6" y="531" width="101" height="103" fill="none" stroke="#f01010" stroke-width="2" rx="16" stroke-dasharray="6,4"/>
<path d="M1142.4,418.3 L1169.8,391.3 L1169.8,458.8 L1142.4,486.3 Z" fill="#7a8fc0" stroke="#1f3864" stroke-width="0.9" />
<path d="M1138.2,418.3 L1165.6,391.3 L1169.8,391.3 L1142.4,418.3 Z" fill="#a8c0e8" stroke="#1f3864" stroke-width="0.9" />
<path d="M1138.2,418.3 L1142.4,418.3 L1142.4,486.3 L1138.2,486.3 Z" fill="#8eaadc" stroke="#1f3864" stroke-width="0.9" />
<path d="M1158.7,422.8 L1179.3,410.2 L1179.3,452.7 L1158.7,474.5 Z" fill="#94a6c8" stroke="#1f3864" stroke-width="0.9" />
<path d="M1150.6,422.8 L1170.9,410.6 L1179.3,410.2 L1158.7,422.8 Z" fill="#c5d5ef" stroke="#1f3864" stroke-width="0.9" />
<path d="M1150.6,422.8 L1158.7,422.8 L1158.7,474.5 L1150.6,474.5 Z" fill="#b4c7e7" stroke="#1f3864" stroke-width="0.9" />
<path d="M1174.0,436.2 L1182.0,433.2 L1182.0,452.3 L1174.0,459.6 Z" fill="#aab4c8" stroke="#1f3864" stroke-width="0.9" />
<path d="M1170.9,436.2 L1174.0,436.2 L1174.0,459.6 L1170.9,459.6 Z" fill="#c8d4ec" stroke="#1f3864" stroke-width="0.9" />
<rect x="1145.3" y="423.5" width="28.3" height="30.9" fill="#fff" stroke="#000" stroke-width="1.3" />
<text x="1148.7" y="447.3" font-size="24" fill="#000" stroke="#000" stroke-width="0.29"><tspan font-style="italic" font-family="'Liberation Serif', 'Times New Roman', 'DejaVu Serif', 'DejaVu Sans', serif">f</tspan><tspan font-style="italic" font-family="'Liberation Serif', 'Times New Roman', 'DejaVu Serif', 'DejaVu Sans', serif" font-size="75%" baseline-shift="-4">ϕ</tspan></text>
<path d="M1143.0,560.8 L1170.4,533.8 L1170.4,601.3 L1143.0,628.8 Z" fill="#7a8fc0" stroke="#1f3864" stroke-width="0.9" />
<path d="M1138.8,560.8 L1166.2,533.8 L1170.4,533.8 L1143.0,560.8 Z" fill="#a8c0e8" stroke="#1f3864" stroke-width="0.9" />
<path d="M1138.8,560.8 L1143.0,560.8 L1143.0,628.8 L1138.8,628.8 Z" fill="#8eaadc" stroke="#1f3864" stroke-width="0.9" />
<path d="M1159.3,565.3 L1179.9,552.7 L1179.9,595.2 L1159.3,617.0 Z" fill="#94a6c8" stroke="#1f3864" stroke-width="0.9" />
<path d="M1151.2,565.3 L1171.5,553.1 L1179.9,552.7 L1159.3,565.3 Z" fill="#c5d5ef" stroke="#1f3864" stroke-width="0.9" />
<path d="M1151.2,565.3 L1159.3,565.3 L1159.3,617.0 L1151.2,617.0 Z" fill="#b4c7e7" stroke="#1f3864" stroke-width="0.9" />
<path d="M1174.6,578.7 L1182.6,575.7 L1182.6,594.8 L1174.6,602.1 Z" fill="#aab4c8" stroke="#1f3864" stroke-width="0.9" />
<path d="M1171.5,578.7 L1174.6,578.7 L1174.6,602.1 L1171.5,602.1 Z" fill="#c8d4ec" stroke="#1f3864" stroke-width="0.9" />
<rect x="1145.8999999999999" y="566.0" width="28.3" height="30.9" fill="#fff" stroke="#000" stroke-width="1.3" />
<text x="1149.3" y="589.8" font-size="24" fill="#000" stroke="#000" stroke-width="0.29"><tspan font-style="italic" font-family="'Liberation Serif', 'Times New Roman', 'DejaVu Serif', 'DejaVu Sans', serif">f</tspan><tspan font-style="italic" font-family="'Liberation Serif', 'Times New Roman', 'DejaVu Serif', 'DejaVu Sans', serif" font-size="75%" baseline-shift="-4">ϕ</tspan></text>
<text x="1186.2" y="448.9" font-size="22" fill="#000" stroke="#000" stroke-width="0.26"><tspan font-style="italic" font-family="'Liberation Serif', 'Times New Roman', 'DejaVu Serif', 'DejaVu Sans', serif">Z</tspan><tspan font-size="65%" baseline-shift="0.55em"><tspan font-style="italic" font-family="'Liberation Serif', 'Times New Roman', 'DejaVu Serif', 'DejaVu Sans', serif">e</tspan><tspan font-size="70%" baseline-shift="-0.3em">1</tspan></tspan></text>
<text x="1188" y="590" font-size="22" fill="#000" stroke="#000" stroke-width="0.26"><tspan font-style="italic" font-family="'Liberation Serif', 'Times New Roman', 'DejaVu Serif', 'DejaVu Sans', serif">Z</tspan><tspan font-size="65%" baseline-shift="0.55em"><tspan font-style="italic" font-family="'Liberation Serif', 'Times New Roman', 'DejaVu Serif', 'DejaVu Sans', serif">e</tspan><tspan font-size="70%" baseline-shift="-0.3em">2</tspan></tspan></text>
<path d="M1158.5,482 L1169.6,494 L1163,494 L1163,508 L1169.6,508 L1158.5,520 L1147.5,508 L1154,508 L1154,494 L1147.5,494 Z" fill="#fff" stroke="#000" stroke-width="1.5" />
<text x="1176.8" y="496" font-size="19.5" fill="#000" stroke="#000" stroke-width="0.23">Weights</text>
<text x="1179" y="520.7" font-size="19.5" fill="#000" stroke="#000" stroke-width="0.23">sharing</text>
<line x1="1234" y1="444" x2="1256" y2="444" stroke="#000" stroke-width="1.3" />
<path d="M1256.0,444.0 L1249.0,447.5 L1249.0,440.5 Z" fill="#000"/>
<line x1="1234" y1="588.4" x2="1258" y2="588.4" stroke="#000" stroke-width="1.3" />
<path d="M1258.0,588.4 L1251.0,591.9 L1251.0,584.9 Z" fill="#000"/>
<path d="M1241.5,588.4 L1241.5,646 L1502.7,646 L1502.7,611.4 L1548,611.4" fill="none" stroke="#000" stroke-width="1.3" />
<line x1="1540" y1="611.4" x2="1555" y2="611.4" stroke="#000" stroke-width="1.3" />
<path d="M1555.0,611.4 L1548.0,614.9 L1548.0,607.9 Z" fill="#000"/>
<text x="1506" y="630" font-size="20" fill="#000" stroke="#000" stroke-width="0.24"><tspan font-style="italic" font-family="'Liberation Serif', 'Times New Roman', 'DejaVu Serif', 'DejaVu Sans', serif">Z</tspan><tspan font-size="65%" baseline-shift="0.55em"><tspan font-style="italic" font-family="'Liberation Serif', 'Times New Roman', 'DejaVu Serif', 'DejaVu Sans', serif">e</tspan><tspan font-size="70%" baseline-shift="-0.3em">2</tspan></tspan></text>
<rect x="1261.7" y="385" width="188" height="251" fill="#fff2cc" stroke="#d6b04a" stroke-width="1.5" rx="14" />
<text x="1283.8" y="373" font-size="19.5" fill="#000" textLength="147" lengthAdjust="spacing" stroke="#000" stroke-width="0.23">Identity matching</text>
<text x="1285" y="397.7" font-size="22" fill="#000" text-anchor="middle" stroke="#000" stroke-width="0.26"><tspan font-style="italic" font-family="'Liberation Serif', 'Times New Roman', 'DejaVu Serif', 'DejaVu Sans', serif">a</tspan><tspan font-family="'Liberation Serif', 'Times New Roman', 'DejaVu Serif', 'DejaVu Sans', serif" font-size="65%" baseline-shift="-0.3em">1</tspan></text>
<text x="1339" y="397.7" font-size="22" fill="#000" text-anchor="middle" stroke="#000" stroke-width="0.26"><tspan font-style="italic" font-family="'Liberation Serif', 'Times New Roman', 'DejaVu Serif', 'DejaVu Sans', serif">a</tspan><tspan font-family="'Liberation Serif', 'Times New Roman', 'DejaVu Serif', 'DejaVu Sans', serif" font-size="65%" baseline-shift="-0.3em">2</tspan></text>
<text x="1416" y="397.7" font-size="22" fill="#000" text-anchor="middle" stroke="#000" stroke-width="0.26"><tspan font-style="italic" font-family="'Liberation Serif', 'Times New Roman', 'DejaVu Serif', 'DejaVu Sans', serif">a</tspan><tspan font-style="italic" font-family="'Liberation Serif', 'Times New Roman', 'DejaVu Serif', 'DejaVu Sans', serif" font-size="65%" baseline-shift="-0.3em">n</tspan></text>
<line x1="1275" y1="408.8" x2="1441" y2="408.8" stroke="#4472c4" stroke-width="2" />
<rect x="1283" y="409" width="11" height="24.600000000000023" fill="#4472c4" stroke="#2f5597" stroke-width="0.8" />
<rect x="1333.5" y="409" width="11.099999999999909" height="37" fill="#4472c4" stroke="#2f5597" stroke-width="0.8" />
<rect x="1410" y="409" width="10.599999999999909" height="13" fill="#4472c4" stroke="#2f5597" stroke-width="0.8" />
<text x="1378" y="448" font-size="20" fill="#000" text-anchor="middle" stroke="#000" stroke-width="0.24">...</text>
<text x="1378" y="571" font-size="20" fill="#000" text-anchor="middle" stroke="#000" stroke-width="0.24">...</text>
<path d="M1274,470 L1294,451.6 L1302.5,451.6 L1282.5,470 Z" fill="#5a86d0" stroke="#2f528f" stroke-width="0.8" />
<path d="M1282.5,470 L1302.5,451.6 L1302.5,459.6 L1282.5,478 Z" fill="#3a62b0" stroke="#2f528f" stroke-width="0.8" />
<rect x="1274" y="470" width="8.5" height="8" fill="#4472c4" stroke="#2f528f" stroke-width="0.8" />
<path d="M1324,470 L1344,451.6 L1352.5,451.6 L1332.5,470 Z" fill="#5a86d0" stroke="#2f528f" stroke-width="0.8" />
<path d="M1332.5,470 L1352.5,451.6 L1352.5,459.6 L1332.5,478 Z" fill="#3a62b0" stroke="#2f528f" stroke-width="0.8" />
<rect x="1324" y="470" width="8.5" height="8" fill="#4472c4" stroke="#2f528f" stroke-width="0.8" />
<path d="M1398,470 L1418,451.6 L1426.5,451.6 L1406.5,470 Z" fill="#5a86d0" stroke="#2f528f" stroke-width="0.8" />
<path d="M1406.5,470 L1426.5,451.6 L1426.5,459.6 L1406.5,478 Z" fill="#3a62b0" stroke="#2f528f" stroke-width="0.8" />
<rect x="1398" y="470" width="8.5" height="8" fill="#4472c4" stroke="#2f528f" stroke-width="0.8" />
<path d="M1276,562.5 L1296,544.0 L1304.5,544.0 L1284.5,562.5 Z" fill="#f4b183" stroke="#c55a11" stroke-width="0.8" />
<path d="M1284.5,562.5 L1304.5,544.0 L1304.5,552.5 L1284.5,571.0 Z" fill="#f0a070" stroke="#c55a11" stroke-width="0.8" />
<rect x="1276" y="562.5" width="8.5" height="8.5" fill="#f8cbad" stroke="#c55a11" stroke-width="0.8" />
<path d="M1319,562.5 L1339,544.0 L1347.5,544.0 L1327.5,562.5 Z" fill="#f4b183" stroke="#c55a11" stroke-width="0.8" />
<path d="M1327.5,562.5 L1347.5,544.0 L1347.5,552.5 L1327.5,571.0 Z" fill="#f0a070" stroke="#c55a11" stroke-width="0.8" />
<rect x="1319" y="562.5" width="8.5" height="8.5" fill="#f8cbad" stroke="#c55a11" stroke-width="0.8" />
<path d="M1406,562.5 L1426,544.0 L1434.5,544.0 L1414.5,562.5 Z" fill="#f4b183" stroke="#c55a11" stroke-width="0.8" />
<path d="M1414.5,562.5 L1434.5,544.0 L1434.5,552.5 L1414.5,571.0 Z" fill="#f0a070" stroke="#c55a11" stroke-width="0.8" />
<rect x="1406" y="562.5" width="8.5" height="8.5" fill="#f8cbad" stroke="#c55a11" stroke-width="0.8" />
<line x1="1278" y1="478" x2="1296" y2="544.5" stroke="#a01040" stroke-width="0.9" />
<line x1="1278" y1="478" x2="1339" y2="544.5" stroke="#a01040" stroke-width="0.9" />
<line x1="1278" y1="478" x2="1426" y2="544.5" stroke="#a01040" stroke-width="2.0" />
<line x1="1328" y1="478" x2="1296" y2="544.5" stroke="#a01040" stroke-width="0.9" />
<line x1="1328" y1="478" x2="1339" y2="544.5" stroke="#a01040" stroke-width="2.0" />
<line x1="1328" y1="478" x2="1426" y2="544.5" stroke="#a01040" stroke-width="0.9" />
<line x1="1402" y1="478" x2="1296" y2="544.5" stroke="#a01040" stroke-width="2.0" />
<line x1="1402" y1="478" x2="1339" y2="544.5" stroke="#a01040" stroke-width="0.9" />
<line x1="1402" y1="478" x2="1426" y2="544.5" stroke="#a01040" stroke-width="0.9" />
<rect x="1281.6" y="580" width="9.400000000000091" height="25.600000000000023" fill="#f8cbad" stroke="#c55a11" stroke-width="1" />
<rect x="1327" y="578.8" width="10" height="26.800000000000068" fill="#f8cbad" stroke="#c55a11" stroke-width="1" />
<rect x="1417" y="592.6" width="10.5" height="13.0" fill="#f8cbad" stroke="#c55a11" stroke-width="1" />
<line x1="1267" y1="605.6" x2="1434" y2="605.6" stroke="#c55a11" stroke-width="2" />
<text x="1285" y="627" font-size="22" fill="#000" text-anchor="middle" stroke="#000" stroke-width="0.26"><tspan font-style="italic" font-family="'Liberation Serif', 'Times New Roman', 'DejaVu Serif', 'DejaVu Sans', serif">b</tspan><tspan font-family="'Liberation Serif', 'Times New Roman', 'DejaVu Serif', 'DejaVu Sans', serif" font-size="65%" baseline-shift="-0.3em">1</tspan></text>
<text x="1329" y="627" font-size="22" fill="#000" text-anchor="middle" stroke="#000" stroke-width="0.26"><tspan font-style="italic" font-family="'Liberation Serif', 'Times New Roman', 'DejaVu Serif', 'DejaVu Sans', serif">b</tspan><tspan font-family="'Liberation Serif', 'Times New Roman', 'DejaVu Serif', 'DejaVu Sans', serif" font-size="65%" baseline-shift="-0.3em">2</tspan></text>
<text x="1420.6" y="627" font-size="22" fill="#000" text-anchor="middle" stroke="#000" stroke-width="0.26"><tspan font-style="italic" font-family="'Liberation Serif', 'Times New Roman', 'DejaVu Serif', 'DejaVu Sans', serif">b</tspan><tspan font-style="italic" font-family="'Liberation Serif', 'Times New Roman', 'DejaVu Serif', 'DejaVu Sans', serif" font-size="65%" baseline-shift="-0.3em">m</tspan></text>
<path d="M1449.6,511 L1502.7,511 L1502.7,583.7 L1548,583.7" fill="none" stroke="#c9960c" stroke-width="1.3" />
<line x1="1540" y1="583.7" x2="1555" y2="583.7" stroke="#c9960c" stroke-width="1.3" />
<path d="M1555.0,583.7 L1548.0,587.2 L1548.0,580.2 Z" fill="#c9960c"/>
<text x="1511.8" y="567.7" font-size="21" fill="#c9960c" stroke="#c9960c" stroke-width="0.25"><tspan font-weight="bold" font-style="italic" font-family="'Liberation Serif', 'Times New Roman', 'DejaVu Serif', 'DejaVu Sans', serif">μ</tspan><tspan font-weight="bold" font-size="65%" baseline-shift="0.55em"><tspan font-style="italic" font-family="'Liberation Serif', 'Times New Roman', 'DejaVu Serif', 'DejaVu Sans', serif">e</tspan><tspan font-size="70%" baseline-shift="-0.3em">2</tspan></tspan></text>
<rect x="1467.6" y="344" width="256.4" height="130.6" fill="#fff" stroke="#000" stroke-width="1.8" />
<path d="M1477,367 L1493,354 L1500.5,354 L1484.5,367 Z" fill="#5a86d0" stroke="#2f528f" stroke-width="0.8" />
<path d="M1484.5,367 L1500.5,354 L1500.5,361.8 L1484.5,374.8 Z" fill="#3a62b0" stroke="#2f528f" stroke-width="0.8" />
<rect x="1477" y="367" width="7.5" height="7.8" fill="#4472c4" stroke="#2f528f" stroke-width="0.8" />
<path d="M1478,400 L1494,387 L1501.5,387 L1485.5,400 Z" fill="#f4b183" stroke="#c55a11" stroke-width="0.8" />
<path d="M1485.5,400 L1501.5,387 L1501.5,394.8 L1485.5,407.8 Z" fill="#f0a070" stroke="#c55a11" stroke-width="0.8" />
<rect x="1478" y="400" width="7.5" height="7.8" fill="#f8cbad" stroke="#c55a11" stroke-width="0.8" />
<rect x="1477" y="417.5" width="29" height="15.5" fill="#fff2cc" stroke="#d6b04a" stroke-width="1.2" rx="3" />
<rect x="1477" y="449" width="29" height="15.5" fill="#fff" stroke="#f01010" stroke-width="1.6" rx="3" stroke-dasharray="4,3"/>
<text x="1516" y="367" font-size="19.5" fill="#000" textLength="152" lengthAdjust="spacing" stroke="#000" stroke-width="0.23">: Feature of ref. ID</text>
<text x="1516" y="400.5" font-size="19.5" fill="#000" textLength="174" lengthAdjust="spacing" stroke="#000" stroke-width="0.23">: Feature of target ID</text>
<text x="1516" y="431" font-size="19.5" fill="#000" textLength="201.7" lengthAdjust="spacing" stroke="#000" stroke-width="0.23">: Sinkhorn-Knopp <tspan font-weight="bold">(≃OT)</tspan></text>
<text x="1516" y="464" font-size="19.5" fill="#000" textLength="89" lengthAdjust="spacing" stroke="#000" stroke-width="0.23">: Inference</text>
<rect x="1554.7" y="552.5" width="169.3" height="86.5" fill="none" stroke="#f01010" stroke-width="2" rx="18" stroke-dasharray="6,4"/>
<rect x="1558.8" y="563" width="13.8" height="67" fill="#b4c7e7" stroke="#2f528f" stroke-width="1.3" rx="3" />
<rect x="1579.5" y="570.5" width="14.5" height="51" fill="#b4c7e7" stroke="#2f528f" stroke-width="1.3" rx="3" />
<rect x="1563" y="581" width="27.6" height="28" fill="#fff" stroke="#000" stroke-width="1.2" />
<text x="1566" y="603" font-size="22" fill="#000" stroke="#000" stroke-width="0.26"><tspan font-style="italic" font-family="'Liberation Serif', 'Times New Roman', 'DejaVu Serif', 'DejaVu Sans', serif">f</tspan><tspan font-style="italic" font-family="'Liberation Serif', 'Times New Roman', 'DejaVu Serif', 'DejaVu Sans', serif" font-size="70%" baseline-shift="-3">θ</tspan></text>
<line x1="1597.5" y1="595" x2="1619.6" y2="595" stroke="#000" stroke-width="1.3" />
<path d="M1619.6,595.0 L1612.6,598.5 L1612.6,591.5 Z" fill="#000"/>
<text x="1629" y="588.4" font-size="19.5" fill="#000" textLength="79" lengthAdjust="spacing" stroke="#000" stroke-width="0.23">Valence /</text>
<text x="1637.6" y="612" font-size="19.5" fill="#000" textLength="63.4" lengthAdjust="spacing" stroke="#000" stroke-width="0.23">Arousal</text>
<text x="1643" y="525" font-size="19.5" fill="#000" textLength="36" lengthAdjust="spacing" stroke="#000" stroke-width="0.23">Loss</text>
<path d="M1663.5,536.7 L1676,547 L1669,547 L1669,567 L1658,567 L1658,547 L1651,547 Z" fill="#4472c4" stroke="#2f528f" stroke-width="0.8" />
<circle cx="753" cy="710.4" r="2.6" fill="#304354" />
<text x="776" y="717.4" font-size="20.7" fill="#304354" word-spacing="0.68" textLength="762.5" lengthAdjust="spacing" stroke="#304354" stroke-width="0.25">Among mini-batch samples, <tspan fill="#1414d8" stroke="#1414d8">reference ID (<tspan font-style="italic" font-family="'Liberation Serif', 'Times New Roman', 'DejaVu Serif', 'DejaVu Sans', serif">e</tspan><tspan font-family="'Liberation Serif', 'Times New Roman', 'DejaVu Serif', 'DejaVu Sans', serif" font-size="65%" baseline-shift="-0.3em">1</tspan>)</tspan> and <tspan fill="#f01414" stroke="#f01414">target IDs (<tspan font-style="italic" font-family="'Liberation Serif', 'Times New Roman', 'DejaVu Serif', 'DejaVu Sans', serif">e</tspan><tspan font-family="'Liberation Serif', 'Times New Roman', 'DejaVu Serif', 'DejaVu Sans', serif" font-size="65%" baseline-shift="-0.3em">2</tspan> ⋯ <tspan font-style="italic" font-family="'Liberation Serif', 'Times New Roman', 'DejaVu Serif', 'DejaVu Sans', serif">e</tspan><tspan font-family="'Liberation Serif', 'Times New Roman', 'DejaVu Serif', 'DejaVu Sans', serif" font-size="65%" baseline-shift="-0.3em">9</tspan>)</tspan> are selected.</text>
<circle cx="753" cy="742" r="2.6" fill="#304354" />
<text x="776" y="749" font-size="20.7" fill="#304354" word-spacing="1.70" textLength="738" lengthAdjust="spacing" stroke="#304354" stroke-width="0.25">After encoding feature sets via <tspan font-style="italic" font-family="'Liberation Serif', 'Times New Roman', 'DejaVu Serif', 'DejaVu Sans', serif">f</tspan><tspan font-size="65%" baseline-shift="-0.3em"><tspan font-style="italic" font-family="'Liberation Serif', 'Times New Roman', 'DejaVu Serif', 'DejaVu Sans', serif">ϕ</tspan></tspan>, we perform <tspan fill="#c9960c" stroke="#c9960c">ID matching</tspan> between <tspan font-style="italic" font-family="'Liberation Serif', 'Times New Roman', 'DejaVu Serif', 'DejaVu Sans', serif">Z</tspan><tspan font-size="65%" baseline-shift="0.55em"><tspan font-style="italic" font-family="'Liberation Serif', 'Times New Roman', 'DejaVu Serif', 'DejaVu Sans', serif">e</tspan><tspan font-size="70%" baseline-shift="-0.3em">1</tspan></tspan> and <tspan font-style="italic" font-family="'Liberation Serif', 'Times New Roman', 'DejaVu Serif', 'DejaVu Sans', serif">Z</tspan><tspan font-size="65%" baseline-shift="0.55em"><tspan font-style="italic" font-family="'Liberation Serif', 'Times New Roman', 'DejaVu Serif', 'DejaVu Sans', serif">e</tspan><tspan font-size="70%" baseline-shift="-0.3em">2</tspan></tspan>.</text>
<circle cx="753" cy="773" r="2.6" fill="#c9960c" />
<text x="776" y="780" font-size="20.7" fill="#304354" word-spacing="1.29" textLength="845" lengthAdjust="spacing" stroke="#304354" stroke-width="0.25"><tspan fill="#c9960c" stroke="#c9960c">ID shift vectors <tspan font-weight="bold" font-style="italic" font-family="'Liberation Serif', 'Times New Roman', 'DejaVu Serif', 'DejaVu Sans', serif">μ</tspan><tspan font-size="65%" baseline-shift="0.55em"><tspan font-style="italic" font-family="'Liberation Serif', 'Times New Roman', 'DejaVu Serif', 'DejaVu Sans', serif">e</tspan><tspan font-size="70%" baseline-shift="-0.3em">2</tspan></tspan></tspan> from Sinkhorn-Knopp normalize <tspan font-style="italic" font-family="'Liberation Serif', 'Times New Roman', 'DejaVu Serif', 'DejaVu Sans', serif">Z</tspan><tspan font-size="65%" baseline-shift="0.55em"><tspan font-style="italic" font-family="'Liberation Serif', 'Times New Roman', 'DejaVu Serif', 'DejaVu Sans', serif">e</tspan><tspan font-size="70%" baseline-shift="-0.3em">2</tspan></tspan> to learn ID-invariant representations.</text>
<path d="M745.5,848 L768.5,860.75 L745.5,873.5 Z" fill="none" stroke="#000" stroke-width="2.4" stroke-linejoin="miter"/>
<text x="783" y="873.5" font-size="33.4" fill="#000" textLength="553.5" lengthAdjust="spacing" stroke="#000" stroke-width="0.40">Identity matching via Sinkhorn-Knopp</text>
<text x="746" y="916.8" font-size="20.7" fill="#304354" word-spacing="2.88" textLength="928.5" lengthAdjust="spacing" stroke="#304354" stroke-width="0.25">The optimal flow <tspan font-style="italic" font-family="'Liberation Serif', 'Times New Roman', 'DejaVu Serif', 'DejaVu Sans', serif">X</tspan><tspan font-family="'Liberation Serif', 'Times New Roman', 'DejaVu Serif', 'DejaVu Sans', serif" font-size="65%" baseline-shift="0.55em">*</tspan> between <tspan font-style="italic" font-family="'Liberation Serif', 'Times New Roman', 'DejaVu Serif', 'DejaVu Sans', serif">Z</tspan><tspan font-size="65%" baseline-shift="0.55em"><tspan font-style="italic" font-family="'Liberation Serif', 'Times New Roman', 'DejaVu Serif', 'DejaVu Sans', serif">e</tspan><tspan font-size="70%" baseline-shift="-0.3em">1</tspan></tspan> and <tspan font-style="italic" font-family="'Liberation Serif', 'Times New Roman', 'DejaVu Serif', 'DejaVu Sans', serif">Z</tspan><tspan font-size="65%" baseline-shift="0.55em"><tspan font-style="italic" font-family="'Liberation Serif', 'Times New Roman', 'DejaVu Serif', 'DejaVu Sans', serif">e</tspan><tspan font-size="70%" baseline-shift="-0.3em">2</tspan></tspan> is computed using the cosine distance matrix <tspan font-style="italic" font-family="'Liberation Serif', 'Times New Roman', 'DejaVu Serif', 'DejaVu Sans', serif">C</tspan><tspan font-size="65%" baseline-shift="-0.3em"><tspan font-style="italic" font-family="'Liberation Serif', 'Times New Roman', 'DejaVu Serif', 'DejaVu Sans', serif">i,j</tspan></tspan> and the</text>
<text x="746" y="949" font-size="20.7" fill="#304354" word-spacing="0.37" textLength="784" lengthAdjust="spacing" stroke="#304354" stroke-width="0.25">relevance weights <tspan font-style="italic" font-family="'Liberation Serif', 'Times New Roman', 'DejaVu Serif', 'DejaVu Sans', serif">a</tspan><tspan font-size="65%" baseline-shift="-0.3em"><tspan font-style="italic" font-family="'Liberation Serif', 'Times New Roman', 'DejaVu Serif', 'DejaVu Sans', serif">i</tspan></tspan> and <tspan font-style="italic" font-family="'Liberation Serif', 'Times New Roman', 'DejaVu Serif', 'DejaVu Sans', serif">b</tspan><tspan font-size="65%" baseline-shift="-0.3em"><tspan font-style="italic" font-family="'Liberation Serif', 'Times New Roman', 'DejaVu Serif', 'DejaVu Sans', serif">j</tspan></tspan> that capture the global representation inherent in each ID.</text>
<text x="815" y="1064" font-size="32" fill="#c9960c" stroke="#c9960c" stroke-width="0.38"><tspan font-style="italic" font-family="'Liberation Serif', 'Times New Roman', 'DejaVu Serif', 'DejaVu Sans', serif">μ</tspan></text>
<text x="835" y="1047" font-size="22" fill="#c9960c" stroke="#c9960c" stroke-width="0.26"><tspan font-style="italic" font-family="'Liberation Serif', 'Times New Roman', 'DejaVu Serif', 'DejaVu Sans', serif">e</tspan><tspan font-size="70%" baseline-shift="-0.3em">2</tspan></text>
<text x="836" y="1071" font-size="22" fill="#c9960c" stroke="#c9960c" stroke-width="0.26"><tspan font-style="italic" font-family="'Liberation Serif', 'Times New Roman', 'DejaVu Serif', 'DejaVu Sans', serif">j</tspan></text>
<text x="864" y="1066" font-size="30" fill="#304354" font-family="'Liberation Serif', 'Times New Roman', 'DejaVu Serif', 'DejaVu Sans', serif" stroke="#304354" stroke-width="0.36">=</text>
<text x="0" y="0" font-size="52" font-family="'Liberation Serif', 'Times New Roman', 'DejaVu Serif', 'DejaVu Sans', serif" fill="#304354" transform="translate(889,1066) scale(1.0,1.08)">∑</text>
<text x="907" y="1025" font-size="20.7" fill="#304354" text-anchor="middle" stroke="#304354" stroke-width="0.25"><tspan font-style="italic" font-family="'Liberation Serif', 'Times New Roman', 'DejaVu Serif', 'DejaVu Sans', serif">n</tspan></text>
<text x="907" y="1096" font-size="21" fill="#304354" text-anchor="middle" stroke="#304354" stroke-width="0.25"><tspan font-style="italic" font-family="'Liberation Serif', 'Times New Roman', 'DejaVu Serif', 'DejaVu Sans', serif">i</tspan><tspan font-family="'Liberation Serif', 'Times New Roman', 'DejaVu Serif', 'DejaVu Sans', serif">=1</tspan></text>
<text x="933" y="1064" font-size="31" fill="#304354" stroke="#304354" stroke-width="0.37"><tspan font-style="italic" font-family="'Liberation Serif', 'Times New Roman', 'DejaVu Serif', 'DejaVu Sans', serif">C</tspan><tspan font-size="70%" baseline-shift="-0.3em"><tspan font-style="italic" font-family="'Liberation Serif', 'Times New Roman', 'DejaVu Serif', 'DejaVu Sans', serif">i,j</tspan></tspan><tspan font-style="italic" font-family="'Liberation Serif', 'Times New Roman', 'DejaVu Serif', 'DejaVu Sans', serif">X</tspan></text>
<text x="990" y="1049" font-size="20" fill="#304354" font-family="'Liberation Serif', 'Times New Roman', 'DejaVu Serif', 'DejaVu Sans', serif" stroke="#304354" stroke-width="0.24">*</text>
<text x="990" y="1071" font-size="21" fill="#304354" stroke="#304354" stroke-width="0.25"><tspan font-style="italic" font-family="'Liberation Serif', 'Times New Roman', 'DejaVu Serif', 'DejaVu Sans', serif">i,j</tspan></text>
<line x1="821" y1="1080.7" x2="856" y2="1080.7" stroke="#000" stroke-width="2.6" />
<line x1="936.7" y1="1080.7" x2="971" y2="1080.7" stroke="#000" stroke-width="2.6" />
<line x1="976.6" y1="1080.7" x2="1011" y2="1080.7" stroke="#000" stroke-width="2.6" />
<line x1="838.7" y1="1108.7" x2="838.7" y2="1082.5" stroke="#000" stroke-width="1.1" />
<path d="M838.7,1082.5 L841.7,1088.5 L835.7,1088.5 Z" fill="#000"/>
<line x1="954" y1="1108.7" x2="954" y2="1082.5" stroke="#000" stroke-width="1.1" />
<path d="M954.0,1082.5 L957.0,1088.5 L951.0,1088.5 Z" fill="#000"/>
<line x1="1066.6" y1="1110" x2="993" y2="1083.5" stroke="#000" stroke-width="1.1" />
<path d="M993.0,1083.5 L999.7,1082.7 L997.6,1088.4 Z" fill="#000"/>
<text x="838" y="1128" font-size="16" fill="#000" font-weight="bold" text-anchor="middle" stroke="#000" stroke-width="0.19">ID shift</text>
<text x="838" y="1151" font-size="16" fill="#000" font-weight="bold" text-anchor="middle" stroke="#000" stroke-width="0.19">of <tspan font-weight="normal" font-style="italic" font-family="'Liberation Serif', 'Times New Roman', 'DejaVu Serif', 'DejaVu Sans', serif">e</tspan><tspan font-weight="normal" font-family="'Liberation Serif', 'Times New Roman', 'DejaVu Serif', 'DejaVu Sans', serif" font-size="65%" baseline-shift="-0.3em">2</tspan></text>
<text x="953" y="1128" font-size="16" fill="#000" font-weight="bold" text-anchor="middle" stroke="#000" stroke-width="0.19">Cosine</text>
<text x="953" y="1148.6" font-size="16" fill="#000" font-weight="bold" text-anchor="middle" stroke="#000" stroke-width="0.19">distance</text>
<text x="1066.5" y="1130" font-size="16" fill="#000" font-weight="bold" text-anchor="middle" stroke="#000" stroke-width="0.19">Relevance</text>
<text x="1066.5" y="1150" font-size="16" fill="#000" font-weight="bold" text-anchor="middle" stroke="#000" stroke-width="0.19">weights</text>
<text x="1051" y="1016" font-size="26" fill="#304354" textLength="217" lengthAdjust="spacing" stroke="#304354" stroke-width="0.31"><tspan font-style="italic" font-family="'Liberation Serif', 'Times New Roman', 'DejaVu Serif', 'DejaVu Sans', serif">X</tspan><tspan font-size="65%" baseline-shift="0.55em">*</tspan><tspan font-family="'Liberation Serif', 'Times New Roman', 'DejaVu Serif', 'DejaVu Sans', serif"> ≔ OT(</tspan><tspan font-weight="bold" font-style="italic" font-family="'Liberation Serif', 'Times New Roman', 'DejaVu Serif', 'DejaVu Sans', serif">a</tspan><tspan font-family="'Liberation Serif', 'Times New Roman', 'DejaVu Serif', 'DejaVu Sans', serif">, </tspan><tspan font-weight="bold" font-style="italic" font-family="'Liberation Serif', 'Times New Roman', 'DejaVu Serif', 'DejaVu Sans', serif">b</tspan><tspan font-family="'Liberation Serif', 'Times New Roman', 'DejaVu Serif', 'DejaVu Sans', serif">) = min</tspan></text>
<text x="1250" y="1031" font-size="17" fill="#304354" text-anchor="middle" stroke="#304354" stroke-width="0.20"><tspan font-style="italic" font-family="'Liberation Serif', 'Times New Roman', 'DejaVu Serif', 'DejaVu Sans', serif">X</tspan></text>
<text x="0" y="0" font-size="44" font-family="'Liberation Serif', 'Times New Roman', 'DejaVu Serif', 'DejaVu Sans', serif" fill="#304354" transform="translate(1273,1021) scale(1.0,1.08)">∑</text>
<text x="1289" y="1046" font-size="17" fill="#304354" text-anchor="middle" stroke="#304354" stroke-width="0.20"><tspan font-style="italic" font-family="'Liberation Serif', 'Times New Roman', 'DejaVu Serif', 'DejaVu Sans', serif">i,j</tspan></text>
<text x="1309.6" y="1016" font-size="26" fill="#304354" textLength="66" lengthAdjust="spacing" stroke="#304354" stroke-width="0.31"><tspan font-style="italic" font-family="'Liberation Serif', 'Times New Roman', 'DejaVu Serif', 'DejaVu Sans', serif">C</tspan><tspan font-size="70%" baseline-shift="-0.3em"><tspan font-style="italic" font-family="'Liberation Serif', 'Times New Roman', 'DejaVu Serif', 'DejaVu Sans', serif">i,j</tspan></tspan><tspan font-style="italic" font-family="'Liberation Serif', 'Times New Roman', 'DejaVu Serif', 'DejaVu Sans', serif">X</tspan><tspan font-size="70%" baseline-shift="-0.3em"><tspan font-style="italic" font-family="'Liberation Serif', 'Times New Roman', 'DejaVu Serif', 'DejaVu Sans', serif">i,j</tspan></tspan></text>
<path d="M1053.8,1061 L1072,1048.7 L1072,1055 L1372.7,1055 L1372.7,1067 L1072,1067 L1072,1075 Z" fill="#4472c4" stroke="#2f5597" stroke-width="0.8" />
<text x="1071" y="1090" font-size="15" fill="#304354" textLength="287" lengthAdjust="spacing" stroke="#304354" stroke-width="0.18">Iterative optimization during forward pass</text>
<rect x="1400.7" y="976" width="278.3" height="192" fill="#fff" stroke="#000" stroke-width="2.2" />
<line x1="1488" y1="1009.5" x2="1584" y2="1009.5" stroke="#e8cf90" stroke-width="1" />
<line x1="1488" y1="1009.5" x2="1584" y2="1073.35" stroke="#e8cf90" stroke-width="1" />
<line x1="1488" y1="1009.5" x2="1584" y2="1137.85" stroke="#e8cf90" stroke-width="1" />
<line x1="1488" y1="1073.35" x2="1584" y2="1009.5" stroke="#e8cf90" stroke-width="1" />
<line x1="1488" y1="1073.35" x2="1584" y2="1073.35" stroke="#e8cf90" stroke-width="1" />
<line x1="1488" y1="1073.35" x2="1584" y2="1137.85" stroke="#e8cf90" stroke-width="1" />
<line x1="1488" y1="1137.85" x2="1584" y2="1009.5" stroke="#e8cf90" stroke-width="1" />
<line x1="1488" y1="1137.85" x2="1584" y2="1073.35" stroke="#e8cf90" stroke-width="1" />
<line x1="1488" y1="1137.85" x2="1584" y2="1137.85" stroke="#e8cf90" stroke-width="1" />
<line x1="1488" y1="1009.5" x2="1584" y2="1137.85" stroke="#d4a020" stroke-width="2.8" />
<line x1="1488" y1="1137.85" x2="1584" y2="1009.5" stroke="#d4a020" stroke-width="2.8" />
<line x1="1488" y1="1073.35" x2="1584" y2="1073.35" stroke="#d4a020" stroke-width="2.8" />
<line x1="1488" y1="1009.5" x2="1584" y2="1009.5" stroke="#e0c070" stroke-width="1.5" />
<defs><radialGradient id="fg32" cx="48%" cy="42%" r="58%"><stop offset="0" stop-color="#5a3828"/><stop offset="0.7" stop-color="#2e1c12"/><stop offset="1" stop-color="#2e1c12" stop-opacity="0"/></radialGradient><linearGradient id="fh32" x1="0" y1="0" x2="0" y2="1"><stop offset="0" stop-color="#1a1410"/><stop offset="1" stop-color="#1a1410" stop-opacity="0"/></linearGradient><clipPath id="fc32"><rect x="1445.5" y="988" width="42.5" height="43"/></clipPath></defs>
<g clip-path="url(#fc32)">
<rect x="1445.5" y="988" width="42.5" height="43" fill="#7a7a80"/>
<ellipse cx="1466.8" cy="1012.9" rx="21.2" ry="24.7" fill="url(#fg32)"/>
<rect x="1445.5" y="988" width="42.5" height="13.8" fill="url(#fh32)" opacity="0.95"/>
<line x1="1456.1" y1="1005.8" x2="1462.9" y2="1005.8" stroke="#2a1a12" stroke-width="1.1" opacity="0.55"/>
<ellipse cx="1459.5" cy="1008.6" rx="2.8" ry="1.2" fill="#1e120c" opacity="0.7"/>
<line x1="1470.6" y1="1005.8" x2="1477.4" y2="1005.8" stroke="#2a1a12" stroke-width="1.1" opacity="0.55"/>
<ellipse cx="1474.0" cy="1008.6" rx="2.8" ry="1.2" fill="#1e120c" opacity="0.7"/>
<ellipse cx="1467.6" cy="1016.4" rx="2.1" ry="1.1" fill="#4a2a1c" opacity="0.35"/>
<ellipse cx="1466.8" cy="1021.5" rx="6.4" ry="2.4" fill="#5a1a18" opacity="0.8"/>
<ellipse cx="1466.8" cy="1021.0" rx="5.1" ry="1.1" fill="#f4eee8" opacity="0.9"/>

</g>
<defs><radialGradient id="fg33" cx="48%" cy="42%" r="58%"><stop offset="0" stop-color="#5a3828"/><stop offset="0.7" stop-color="#2e1c12"/><stop offset="1" stop-color="#2e1c12" stop-opacity="0"/></radialGradient><linearGradient id="fh33" x1="0" y1="0" x2="0" y2="1"><stop offset="0" stop-color="#1a1410"/><stop offset="1" stop-color="#1a1410" stop-opacity="0"/></linearGradient><clipPath id="fc33"><rect x="1445.5" y="1052.7" width="42.5" height="41.299999999999955"/></clipPath></defs>
<g clip-path="url(#fc33)">
<rect x="1445.5" y="1052.7" width="42.5" height="41.299999999999955" fill="#7a7a80"/>
<ellipse cx="1466.8" cy="1076.7" rx="21.2" ry="23.7" fill="url(#fg33)"/>
<rect x="1445.5" y="1052.7" width="42.5" height="13.2" fill="url(#fh33)" opacity="0.95"/>
<line x1="1456.1" y1="1069.8" x2="1462.9" y2="1069.8" stroke="#2a1a12" stroke-width="1.0" opacity="0.55"/>
<ellipse cx="1459.5" cy="1072.5" rx="2.8" ry="1.2" fill="#1e120c" opacity="0.7"/>
<line x1="1470.6" y1="1069.8" x2="1477.4" y2="1069.8" stroke="#2a1a12" stroke-width="1.0" opacity="0.55"/>
<ellipse cx="1474.0" cy="1072.5" rx="2.8" ry="1.2" fill="#1e120c" opacity="0.7"/>
<ellipse cx="1467.6" cy="1080.0" rx="2.1" ry="1.0" fill="#4a2a1c" opacity="0.35"/>
<ellipse cx="1466.8" cy="1084.9" rx="6.4" ry="2.3" fill="#5a1a18" opacity="0.8"/>
<ellipse cx="1466.8" cy="1084.4" rx="5.1" ry="1.0" fill="#f4eee8" opacity="0.9"/>

</g>
<defs><radialGradient id="fg34" cx="48%" cy="42%" r="58%"><stop offset="0" stop-color="#5a3828"/><stop offset="0.7" stop-color="#2e1c12"/><stop offset="1" stop-color="#2e1c12" stop-opacity="0"/></radialGradient><linearGradient id="fh34" x1="0" y1="0" x2="0" y2="1"><stop offset="0" stop-color="#1a1410"/><stop offset="1" stop-color="#1a1410" stop-opacity="0"/></linearGradient><clipPath id="fc34"><rect x="1445.5" y="1116.7" width="42.5" height="42.299999999999955"/></clipPath></defs>
<g clip-path="url(#fc34)">
<rect x="1445.5" y="1116.7" width="42.5" height="42.299999999999955" fill="#7a7a80"/>
<ellipse cx="1466.8" cy="1141.2" rx="21.2" ry="24.3" fill="url(#fg34)"/>
<rect x="1445.5" y="1116.7" width="42.5" height="13.5" fill="url(#fh34)" opacity="0.95"/>
<line x1="1456.1" y1="1134.3" x2="1462.9" y2="1134.3" stroke="#2a1a12" stroke-width="1.1" opacity="0.55"/>
<ellipse cx="1459.5" cy="1137.0" rx="2.8" ry="1.2" fill="#1e120c" opacity="0.7"/>
<line x1="1470.6" y1="1134.3" x2="1477.4" y2="1134.3" stroke="#2a1a12" stroke-width="1.1" opacity="0.55"/>
<ellipse cx="1474.0" cy="1137.0" rx="2.8" ry="1.2" fill="#1e120c" opacity="0.7"/>
<ellipse cx="1467.6" cy="1144.6" rx="2.1" ry="1.1" fill="#4a2a1c" opacity="0.35"/>
<ellipse cx="1466.8" cy="1149.7" rx="6.4" ry="2.3" fill="#5a1a18" opacity="0.8"/>
<ellipse cx="1466.8" cy="1149.2" rx="5.1" ry="1.1" fill="#f4eee8" opacity="0.9"/>

</g>
<defs><radialGradient id="fg35" cx="48%" cy="42%" r="58%"><stop offset="0" stop-color="#f0c8b8"/><stop offset="0.7" stop-color="#d09a88"/><stop offset="1" stop-color="#d09a88" stop-opacity="0"/></radialGradient><linearGradient id="fh35" x1="0" y1="0" x2="0" y2="1"><stop offset="0" stop-color="#2a1a14"/><stop offset="1" stop-color="#2a1a14" stop-opacity="0"/></linearGradient><clipPath id="fc35"><rect x="1584" y="988" width="43" height="43"/></clipPath></defs>
<g clip-path="url(#fc35)">
<rect x="1584" y="988" width="43" height="43" fill="#f4f0f0"/>
<ellipse cx="1605.5" cy="1012.9" rx="21.5" ry="24.7" fill="url(#fg35)"/>
<rect x="1584" y="988" width="43" height="13.8" fill="url(#fh35)" opacity="0.95"/>
<line x1="1594.8" y1="1005.8" x2="1601.6" y2="1005.8" stroke="#2a1a12" stroke-width="1.1" opacity="0.55"/>
<ellipse cx="1598.2" cy="1008.6" rx="2.8" ry="1.2" fill="#1e120c" opacity="0.7"/>
<line x1="1609.4" y1="1005.8" x2="1616.2" y2="1005.8" stroke="#2a1a12" stroke-width="1.1" opacity="0.55"/>
<ellipse cx="1612.8" cy="1008.6" rx="2.8" ry="1.2" fill="#1e120c" opacity="0.7"/>
<ellipse cx="1606.4" cy="1016.4" rx="2.1" ry="1.1" fill="#4a2a1c" opacity="0.35"/>
<ellipse cx="1605.5" cy="1021.5" rx="6.5" ry="2.4" fill="#5a1a18" opacity="0.8"/>
<ellipse cx="1605.5" cy="1021.0" rx="5.2" ry="1.1" fill="#f4eee8" opacity="0.9"/>

</g>
<defs><radialGradient id="fg36" cx="48%" cy="42%" r="58%"><stop offset="0" stop-color="#f0c8b8"/><stop offset="0.7" stop-color="#d09a88"/><stop offset="1" stop-color="#d09a88" stop-opacity="0"/></radialGradient><linearGradient id="fh36" x1="0" y1="0" x2="0" y2="1"><stop offset="0" stop-color="#2a1a14"/><stop offset="1" stop-color="#2a1a14" stop-opacity="0"/></linearGradient><clipPath id="fc36"><rect x="1584" y="1052.7" width="43" height="41.299999999999955"/></clipPath></defs>
<g clip-path="url(#fc36)">
<rect x="1584" y="1052.7" width="43" height="41.299999999999955" fill="#f4f0f0"/>
<ellipse cx="1605.5" cy="1076.7" rx="21.5" ry="23.7" fill="url(#fg36)"/>
<rect x="1584" y="1052.7" width="43" height="13.2" fill="url(#fh36)" opacity="0.95"/>
<line x1="1594.8" y1="1069.8" x2="1601.6" y2="1069.8" stroke="#2a1a12" stroke-width="1.0" opacity="0.55"/>
<ellipse cx="1598.2" cy="1072.5" rx="2.8" ry="1.2" fill="#1e120c" opacity="0.7"/>
<line x1="1609.4" y1="1069.8" x2="1616.2" y2="1069.8" stroke="#2a1a12" stroke-width="1.0" opacity="0.55"/>
<ellipse cx="1612.8" cy="1072.5" rx="2.8" ry="1.2" fill="#1e120c" opacity="0.7"/>
<ellipse cx="1606.4" cy="1080.0" rx="2.1" ry="1.0" fill="#4a2a1c" opacity="0.35"/>
<ellipse cx="1605.5" cy="1084.9" rx="6.5" ry="2.3" fill="#5a1a18" opacity="0.8"/>
<ellipse cx="1605.5" cy="1084.4" rx="5.2" ry="1.0" fill="#f4eee8" opacity="0.9"/>

</g>
<defs><radialGradient id="fg37" cx="48%" cy="42%" r="58%"><stop offset="0" stop-color="#f0c8b8"/><stop offset="0.7" stop-color="#d09a88"/><stop offset="1" stop-color="#d09a88" stop-opacity="0"/></radialGradient><linearGradient id="fh37" x1="0" y1="0" x2="0" y2="1"><stop offset="0" stop-color="#2a1a14"/><stop offset="1" stop-color="#2a1a14" stop-opacity="0"/></linearGradient><clipPath id="fc37"><rect x="1584" y="1116.7" width="43" height="42.299999999999955"/></clipPath></defs>
<g clip-path="url(#fc37)">
<rect x="1584" y="1116.7" width="43" height="42.299999999999955" fill="#f4f0f0"/>
<ellipse cx="1605.5" cy="1141.2" rx="21.5" ry="24.3" fill="url(#fg37)"/>
<rect x="1584" y="1116.7" width="43" height="13.5" fill="url(#fh37)" opacity="0.95"/>
<line x1="1594.8" y1="1134.3" x2="1601.6" y2="1134.3" stroke="#2a1a12" stroke-width="1.1" opacity="0.55"/>
<ellipse cx="1598.2" cy="1137.0" rx="2.8" ry="1.2" fill="#1e120c" opacity="0.7"/>
<line x1="1609.4" y1="1134.3" x2="1616.2" y2="1134.3" stroke="#2a1a12" stroke-width="1.1" opacity="0.55"/>
<ellipse cx="1612.8" cy="1137.0" rx="2.8" ry="1.2" fill="#1e120c" opacity="0.7"/>
<ellipse cx="1606.4" cy="1144.6" rx="2.1" ry="1.1" fill="#4a2a1c" opacity="0.35"/>
<ellipse cx="1605.5" cy="1149.7" rx="6.5" ry="2.3" fill="#5a1a18" opacity="0.8"/>
<ellipse cx="1605.5" cy="1149.2" rx="5.2" ry="1.1" fill="#f4eee8" opacity="0.9"/>

</g>
<text x="1467" y="1047" font-size="17" fill="#000" font-family="'DejaVu Sans', sans-serif" text-anchor="middle" stroke="#000" stroke-width="0.20">⋮</text>
<text x="1467" y="1111" font-size="17" fill="#000" font-family="'DejaVu Sans', sans-serif" text-anchor="middle" stroke="#000" stroke-width="0.20">⋮</text>
<text x="1605.6" y="1047" font-size="17" fill="#000" font-family="'DejaVu Sans', sans-serif" text-anchor="middle" stroke="#000" stroke-width="0.20">⋮</text>
<text x="1605.6" y="1111" font-size="17" fill="#000" font-family="'DejaVu Sans', sans-serif" text-anchor="middle" stroke="#000" stroke-width="0.20">⋮</text>
<text x="1410" y="1021" font-size="27" fill="#000" stroke="#000" stroke-width="0.32"><tspan font-weight="bold" font-style="italic" font-family="'Liberation Serif', 'Times New Roman', 'DejaVu Serif', 'DejaVu Sans', serif">z</tspan></text>
<text x="1425" y="1006" font-size="18" fill="#000" stroke="#000" stroke-width="0.22"><tspan font-style="italic" font-family="'Liberation Serif', 'Times New Roman', 'DejaVu Serif', 'DejaVu Sans', serif">e</tspan><tspan font-size="70%" baseline-shift="-0.3em">1</tspan></text>
<text x="1425" y="1026" font-size="18" fill="#000" stroke="#000" stroke-width="0.22"><tspan font-family="'Liberation Serif', 'Times New Roman', 'DejaVu Serif', 'DejaVu Sans', serif">1</tspan></text>
<text x="1410" y="1081" font-size="27" fill="#000" stroke="#000" stroke-width="0.32"><tspan font-weight="bold" font-style="italic" font-family="'Liberation Serif', 'Times New Roman', 'DejaVu Serif', 'DejaVu Sans', serif">z</tspan></text>
<text x="1425" y="1066" font-size="18" fill="#000" stroke="#000" stroke-width="0.22"><tspan font-style="italic" font-family="'Liberation Serif', 'Times New Roman', 'DejaVu Serif', 'DejaVu Sans', serif">e</tspan><tspan font-size="70%" baseline-shift="-0.3em">1</tspan></text>
<text x="1425" y="1086" font-size="18" fill="#000" stroke="#000" stroke-width="0.22"><tspan font-style="italic" font-family="'Liberation Serif', 'Times New Roman', 'DejaVu Serif', 'DejaVu Sans', serif">i</tspan></text>
<text x="1410" y="1145" font-size="27" fill="#000" stroke="#000" stroke-width="0.32"><tspan font-weight="bold" font-style="italic" font-family="'Liberation Serif', 'Times New Roman', 'DejaVu Serif', 'DejaVu Sans', serif">z</tspan></text>
<text x="1425" y="1130" font-size="18" fill="#000" stroke="#000" stroke-width="0.22"><tspan font-style="italic" font-family="'Liberation Serif', 'Times New Roman', 'DejaVu Serif', 'DejaVu Sans', serif">e</tspan><tspan font-size="70%" baseline-shift="-0.3em">1</tspan></text>
<text x="1425" y="1150" font-size="18" fill="#000" stroke="#000" stroke-width="0.22"><tspan font-style="italic" font-family="'Liberation Serif', 'Times New Roman', 'DejaVu Serif', 'DejaVu Sans', serif">n</tspan></text>
<text x="1635" y="1021" font-size="27" fill="#000" stroke="#000" stroke-width="0.32"><tspan font-weight="bold" font-style="italic" font-family="'Liberation Serif', 'Times New Roman', 'DejaVu Serif', 'DejaVu Sans', serif">z</tspan></text>
<text x="1650" y="1006" font-size="18" fill="#000" stroke="#000" stroke-width="0.22"><tspan font-style="italic" font-family="'Liberation Serif', 'Times New Roman', 'DejaVu Serif', 'DejaVu Sans', serif">e</tspan><tspan font-size="70%" baseline-shift="-0.3em">2</tspan></text>
<text x="1650" y="1026" font-size="18" fill="#000" stroke="#000" stroke-width="0.22"><tspan font-family="'Liberation Serif', 'Times New Roman', 'DejaVu Serif', 'DejaVu Sans', serif">1</tspan></text>
<text x="1635" y="1081" font-size="27" fill="#000" stroke="#000" stroke-width="0.32"><tspan font-weight="bold" font-style="italic" font-family="'Liberation Serif', 'Times New Roman', 'DejaVu Serif', 'DejaVu Sans', serif">z</tspan></text>
<text x="1650" y="1066" font-size="18" fill="#000" stroke="#000" stroke-width="0.22"><tspan font-style="italic" font-family="'Liberation Serif', 'Times New Roman', 'DejaVu Serif', 'DejaVu Sans', serif">e</tspan><tspan font-size="70%" baseline-shift="-0.3em">2</tspan></text>
<text x="1650" y="1086" font-size="18" fill="#000" stroke="#000" stroke-width="0.22"><tspan font-style="italic" font-family="'Liberation Serif', 'Times New Roman', 'DejaVu Serif', 'DejaVu Sans', serif">j</tspan></text>
<text x="1635" y="1145" font-size="27" fill="#000" stroke="#000" stroke-width="0.32"><tspan font-weight="bold" font-style="italic" font-family="'Liberation Serif', 'Times New Roman', 'DejaVu Serif', 'DejaVu Sans', serif">z</tspan></text>
<text x="1650" y="1130" font-size="18" fill="#000" stroke="#000" stroke-width="0.22"><tspan font-style="italic" font-family="'Liberation Serif', 'Times New Roman', 'DejaVu Serif', 'DejaVu Sans', serif">e</tspan><tspan font-size="70%" baseline-shift="-0.3em">2</tspan></text>
<text x="1650" y="1150" font-size="18" fill="#000" stroke="#000" stroke-width="0.22"><tspan font-style="italic" font-family="'Liberation Serif', 'Times New Roman', 'DejaVu Serif', 'DejaVu Sans', serif">m</tspan></text>
<path d="M1521,1028 A14,12 0 0,1 1547,1024" fill="none" stroke="#000" stroke-width="5" />
<path d="M1541,1016 L1552,1026 L1540,1031 Z" fill="#000" />
<path d="M1549,1038 A14,12 0 0,1 1523,1042" fill="none" stroke="#000" stroke-width="5" />
<path d="M1529,1054 L1518,1044 L1530,1039 Z" fill="#000" />
<text x="1537" y="1143" font-size="34" fill="#000" text-anchor="middle" stroke="#000" stroke-width="0.41"><tspan font-style="italic" font-family="'Liberation Serif', 'Times New Roman', 'DejaVu Serif', 'DejaVu Sans', serif">X</tspan><tspan font-family="'Liberation Serif', 'Times New Roman', 'DejaVu Serif', 'DejaVu Sans', serif" font-size="65%" baseline-shift="0.55em">*</tspan></text>
<circle cx="759.6" cy="1223.0" r="7.6" fill="#304354" />
<path d="M751.5,1220.6 L761.1,1220.6 L761.1,1218.4 L766.0,1223.0 L761.1,1227.6 L761.1,1225.4 L751.5,1225.4 Z" fill="#fff" />
<text x="774" y="1230" font-size="20.7" fill="#304354" word-spacing="0.69" textLength="827" lengthAdjust="spacing" stroke="#304354" stroke-width="0.25"><tspan fill="#c9960c" stroke="#c9960c" font-style="italic" font-family="'Liberation Serif', 'Times New Roman', 'DejaVu Serif', 'DejaVu Sans', serif">μ</tspan><tspan fill="#c9960c" stroke="#c9960c" font-size="62%" baseline-shift="-5"><tspan font-style="italic" font-family="'Liberation Serif', 'Times New Roman', 'DejaVu Serif', 'DejaVu Sans', serif">j</tspan></tspan><tspan dx="-4" fill="#c9960c" stroke="#c9960c" font-size="62%" baseline-shift="8"><tspan font-style="italic" font-family="'Liberation Serif', 'Times New Roman', 'DejaVu Serif', 'DejaVu Sans', serif">e</tspan><tspan font-size="75%" baseline-shift="-2">2</tspan></tspan> is a weighted cosine distance. Here, a weight is the OT plan <tspan font-style="italic" font-family="'Liberation Serif', 'Times New Roman', 'DejaVu Serif', 'DejaVu Sans', serif">X</tspan><tspan font-size="65%" baseline-shift="0.55em">*</tspan> between the <tspan font-style="italic" font-family="'Liberation Serif', 'Times New Roman', 'DejaVu Serif', 'DejaVu Sans', serif">j</tspan>-th target</text>
<text x="774" y="1259" font-size="20.7" fill="#304354" textLength="322" lengthAdjust="spacing" stroke="#304354" stroke-width="0.25">sample and the reference samples.</text>
<circle cx="759.6" cy="1277.4" r="7.6" fill="#304354" />
<path d="M751.5,1275.0 L761.1,1275.0 L761.1,1272.8 L766.0,1277.4 L761.1,1282.0 L761.1,1279.8 L751.5,1279.8 Z" fill="#fff" />
<text x="774" y="1284.4" font-size="20.7" fill="#304354" word-spacing="1.36" textLength="826" lengthAdjust="spacing" stroke="#304354" stroke-width="0.25"><tspan fill="#c9960c" stroke="#c9960c">ID shift vectors <tspan font-weight="bold" font-style="italic" font-family="'Liberation Serif', 'Times New Roman', 'DejaVu Serif', 'DejaVu Sans', serif">μ</tspan><tspan font-size="65%" baseline-shift="0.55em"><tspan font-style="italic" font-family="'Liberation Serif', 'Times New Roman', 'DejaVu Serif', 'DejaVu Sans', serif">e</tspan><tspan font-size="70%" baseline-shift="-0.3em">2</tspan></tspan>,⋯,<tspan font-weight="bold" font-style="italic" font-family="'Liberation Serif', 'Times New Roman', 'DejaVu Serif', 'DejaVu Sans', serif">μ</tspan><tspan font-size="65%" baseline-shift="0.55em"><tspan font-style="italic" font-family="'Liberation Serif', 'Times New Roman', 'DejaVu Serif', 'DejaVu Sans', serif">e</tspan><tspan font-size="70%" baseline-shift="-0.3em"><tspan font-style="italic" font-family="'Liberation Serif', 'Times New Roman', 'DejaVu Serif', 'DejaVu Sans', serif">N</tspan></tspan></tspan></tspan> of all target IDs computed in the same way are used for feature</text>
<text x="774" y="1310" font-size="20.7" fill="#304354" textLength="127.5" lengthAdjust="spacing" stroke="#304354" stroke-width="0.25">normalization.</text>
<path d="M745.5,1350 L768.5,1363.25 L745.5,1376.5 Z" fill="none" stroke="#000" stroke-width="2.4" stroke-linejoin="miter"/>
<text x="783" y="1375" font-size="33.4" fill="#000" textLength="544" lengthAdjust="spacing" stroke="#000" stroke-width="0.40">Identity-invariant expression learning</text>
<text x="749.8" y="1421.7" font-size="20.7" fill="#304354" word-spacing="0.79" textLength="963" lengthAdjust="spacing" stroke="#304354" stroke-width="0.25">We define the ID-invariant representation with <tspan fill="#c9960c" stroke="#c9960c"><tspan font-weight="bold" font-style="italic" font-family="'Liberation Serif', 'Times New Roman', 'DejaVu Serif', 'DejaVu Sans', serif">μ</tspan><tspan font-size="65%" baseline-shift="0.55em"><tspan font-style="italic" font-family="'Liberation Serif', 'Times New Roman', 'DejaVu Serif', 'DejaVu Sans', serif">e</tspan></tspan></tspan> and <tspan font-weight="bold" font-style="italic" font-family="'Liberation Serif', 'Times New Roman', 'DejaVu Serif', 'DejaVu Sans', serif">σ</tspan><tspan font-size="65%" baseline-shift="0.55em"><tspan font-style="italic" font-family="'Liberation Serif', 'Times New Roman', 'DejaVu Serif', 'DejaVu Sans', serif">e</tspan></tspan> as shifting and scaling parameters, respectively:</text>
<text x="841" y="1499.5" font-size="28" fill="#c9960c" stroke="#c9960c" stroke-width="0.34"><tspan font-style="italic" font-family="'Liberation Serif', 'Times New Roman', 'DejaVu Serif', 'DejaVu Sans', serif">Ẑ</tspan><tspan font-size="65%" baseline-shift="0.55em"><tspan font-style="italic" font-family="'Liberation Serif', 'Times New Roman', 'DejaVu Serif', 'DejaVu Sans', serif">e</tspan></tspan></text>
<text x="877" y="1499.5" font-size="28" fill="#304354" font-family="'Liberation Serif', 'Times New Roman', 'DejaVu Serif', 'DejaVu Sans', serif" stroke="#304354" stroke-width="0.34">=</text>
<text x="898.6" y="1482.5" font-size="27" fill="#304354" textLength="78" lengthAdjust="spacing" stroke="#304354" stroke-width="0.32"><tspan font-style="italic" font-family="'Liberation Serif', 'Times New Roman', 'DejaVu Serif', 'DejaVu Sans', serif">Z</tspan><tspan font-size="65%" baseline-shift="0.55em"><tspan font-style="italic" font-family="'Liberation Serif', 'Times New Roman', 'DejaVu Serif', 'DejaVu Sans', serif">e</tspan></tspan><tspan font-family="'Liberation Serif', 'Times New Roman', 'DejaVu Serif', 'DejaVu Sans', serif"> − </tspan><tspan fill="#c9960c" stroke="#c9960c"><tspan font-weight="bold" font-style="italic" font-family="'Liberation Serif', 'Times New Roman', 'DejaVu Serif', 'DejaVu Sans', serif">μ</tspan><tspan font-size="65%" baseline-shift="0.55em"><tspan font-weight="bold" font-style="italic">e</tspan></tspan></tspan></text>
<line x1="897" y1="1492" x2="978" y2="1492" stroke="#304354" stroke-width="2" />
<text x="937.5" y="1514.4" font-size="27" fill="#304354" text-anchor="middle" stroke="#304354" stroke-width="0.32"><tspan font-weight="bold" font-style="italic" font-family="'Liberation Serif', 'Times New Roman', 'DejaVu Serif', 'DejaVu Sans', serif">σ</tspan><tspan font-size="65%" baseline-shift="0.55em"><tspan font-style="italic" font-family="'Liberation Serif', 'Times New Roman', 'DejaVu Serif', 'DejaVu Sans', serif">e</tspan></tspan><tspan font-family="'Liberation Serif', 'Times New Roman', 'DejaVu Serif', 'DejaVu Sans', serif"> + </tspan><tspan font-style="italic" font-family="'Liberation Serif', 'Times New Roman', 'DejaVu Serif', 'DejaVu Sans', serif">ϵ</tspan></text>
<text x="982" y="1499.5" font-size="27" fill="#304354" font-family="'Liberation Serif', 'Times New Roman', 'DejaVu Serif', 'DejaVu Sans', serif" stroke="#304354" stroke-width="0.32">,</text>
<text x="1045" y="1499.5" font-size="25" fill="#304354" textLength="167" lengthAdjust="spacing" stroke="#304354" stroke-width="0.30"><tspan font-family="'Liberation Serif', 'Times New Roman', 'DejaVu Serif', 'DejaVu Sans', serif">∀</tspan><tspan font-style="italic" font-family="'Liberation Serif', 'Times New Roman', 'DejaVu Serif', 'DejaVu Sans', serif">e</tspan><tspan font-family="'Liberation Serif', 'Times New Roman', 'DejaVu Serif', 'DejaVu Sans', serif"> ∈ {</tspan><tspan font-style="italic" font-family="'Liberation Serif', 'Times New Roman', 'DejaVu Serif', 'DejaVu Sans', serif">e</tspan><tspan font-size="65%" baseline-shift="-0.3em">2</tspan><tspan font-family="'Liberation Serif', 'Times New Roman', 'DejaVu Serif', 'DejaVu Sans', serif">, ⋯ , </tspan><tspan font-style="italic" font-family="'Liberation Serif', 'Times New Roman', 'DejaVu Serif', 'DejaVu Sans', serif">e</tspan><tspan font-size="65%" baseline-shift="-0.3em"><tspan font-style="italic" font-family="'Liberation Serif', 'Times New Roman', 'DejaVu Serif', 'DejaVu Sans', serif">N</tspan></tspan><tspan font-family="'Liberation Serif', 'Times New Roman', 'DejaVu Serif', 'DejaVu Sans', serif">},</tspan></text>
<text x="1317" y="1499.5" font-size="24" fill="#304354" textLength="109" lengthAdjust="spacing" stroke="#304354" stroke-width="0.29">where <tspan font-style="italic" font-family="'Liberation Serif', 'Times New Roman', 'DejaVu Serif', 'DejaVu Sans', serif">σ</tspan><tspan font-size="60%" baseline-shift="-5"><tspan font-style="italic" font-family="'Liberation Serif', 'Times New Roman', 'DejaVu Serif', 'DejaVu Sans', serif">j</tspan></tspan><tspan dx="-4" font-size="60%" baseline-shift="8"><tspan font-style="italic" font-family="'Liberation Serif', 'Times New Roman', 'DejaVu Serif', 'DejaVu Sans', serif">e</tspan></tspan><tspan font-family="'Liberation Serif', 'Times New Roman', 'DejaVu Serif', 'DejaVu Sans', serif"> =</tspan></text>
<path d="M1433,1506 L1440,1501 L1447,1525 L1455,1446.4 L1557.6,1446.4" fill="none" stroke="#304354" stroke-width="1.6" />
<text x="1451" y="1484" font-size="15" fill="#304354" textLength="104" lengthAdjust="spacing" stroke="#304354" stroke-width="0.18"><tspan font-family="'Liberation Serif', 'Times New Roman', 'DejaVu Serif', 'DejaVu Sans', serif">∑</tspan><tspan font-size="60%" baseline-shift="-3"><tspan font-style="italic" font-family="'Liberation Serif', 'Times New Roman', 'DejaVu Serif', 'DejaVu Sans', serif">i</tspan><tspan font-family="'Liberation Serif', 'Times New Roman', 'DejaVu Serif', 'DejaVu Sans', serif">=1</tspan></tspan><tspan font-size="60%" baseline-shift="6"><tspan font-style="italic" font-family="'Liberation Serif', 'Times New Roman', 'DejaVu Serif', 'DejaVu Sans', serif">d</tspan></tspan><tspan font-family="'Liberation Serif', 'Times New Roman', 'DejaVu Serif', 'DejaVu Sans', serif">(</tspan><tspan font-style="italic" font-family="'Liberation Serif', 'Times New Roman', 'DejaVu Serif', 'DejaVu Sans', serif">z</tspan><tspan font-size="60%" baseline-shift="-3"><tspan font-style="italic" font-family="'Liberation Serif', 'Times New Roman', 'DejaVu Serif', 'DejaVu Sans', serif">i,j</tspan></tspan><tspan font-size="60%" baseline-shift="6"><tspan font-style="italic" font-family="'Liberation Serif', 'Times New Roman', 'DejaVu Serif', 'DejaVu Sans', serif">e</tspan></tspan><tspan font-family="'Liberation Serif', 'Times New Roman', 'DejaVu Serif', 'DejaVu Sans', serif">−</tspan><tspan font-style="italic" font-family="'Liberation Serif', 'Times New Roman', 'DejaVu Serif', 'DejaVu Sans', serif">μ</tspan><tspan font-size="60%" baseline-shift="-3"><tspan font-style="italic" font-family="'Liberation Serif', 'Times New Roman', 'DejaVu Serif', 'DejaVu Sans', serif">j</tspan></tspan><tspan font-size="60%" baseline-shift="6"><tspan font-style="italic" font-family="'Liberation Serif', 'Times New Roman', 'DejaVu Serif', 'DejaVu Sans', serif">e</tspan></tspan><tspan font-family="'Liberation Serif', 'Times New Roman', 'DejaVu Serif', 'DejaVu Sans', serif">)</tspan><tspan font-family="'Liberation Serif', 'Times New Roman', 'DejaVu Serif', 'DejaVu Sans', serif" font-size="60%" baseline-shift="8">2</tspan></text>
<line x1="1450" y1="1492" x2="1557" y2="1492" stroke="#304354" stroke-width="1.4" />
<text x="1503" y="1510" font-size="17" fill="#304354" text-anchor="middle" stroke="#304354" stroke-width="0.20"><tspan font-style="italic" font-family="'Liberation Serif', 'Times New Roman', 'DejaVu Serif', 'DejaVu Sans', serif">d</tspan></text>
<text x="1560" y="1499.5" font-size="24" fill="#304354" textLength="110" lengthAdjust="spacing" stroke="#304354" stroke-width="0.29"><tspan font-family="'Liberation Serif', 'Times New Roman', 'DejaVu Serif', 'DejaVu Sans', serif">,</tspan><tspan font-style="italic" font-family="'Liberation Serif', 'Times New Roman', 'DejaVu Serif', 'DejaVu Sans', serif">j</tspan><tspan font-family="'Liberation Serif', 'Times New Roman', 'DejaVu Serif', 'DejaVu Sans', serif"> = 1, ⋯ , </tspan><tspan font-style="italic" font-family="'Liberation Serif', 'Times New Roman', 'DejaVu Serif', 'DejaVu Sans', serif">m</tspan><tspan font-family="'Liberation Serif', 'Times New Roman', 'DejaVu Serif', 'DejaVu Sans', serif">.</tspan></text>
<circle cx="761.6" cy="1562.7" r="7.6" fill="#304354" />
<path d="M753.5,1560.3 L763.1,1560.3 L763.1,1558.1 L768.0,1562.7 L763.1,1567.3 L763.1,1565.1 L753.5,1565.1 Z" fill="#fff" />
<text x="777.4" y="1569.7" font-size="20.7" fill="#304354" word-spacing="0.62" textLength="884" lengthAdjust="spacing" stroke="#304354" stroke-width="0.25">Since <tspan font-weight="bold" font-style="italic" font-family="'Liberation Serif', 'Times New Roman', 'DejaVu Serif', 'DejaVu Sans', serif">μ</tspan><tspan font-size="65%" baseline-shift="0.55em"><tspan font-style="italic" font-family="'Liberation Serif', 'Times New Roman', 'DejaVu Serif', 'DejaVu Sans', serif">e</tspan></tspan> and <tspan font-weight="bold" font-style="italic" font-family="'Liberation Serif', 'Times New Roman', 'DejaVu Serif', 'DejaVu Sans', serif">σ</tspan><tspan font-size="65%" baseline-shift="0.55em"><tspan font-style="italic" font-family="'Liberation Serif', 'Times New Roman', 'DejaVu Serif', 'DejaVu Sans', serif">e</tspan></tspan> captured from a specific ID are used, this normalization scheme can remove ID-</text>
<text x="777.4" y="1595" font-size="20.7" fill="#304354" word-spacing="0.08" textLength="710" lengthAdjust="spacing" stroke="#304354" stroke-width="0.25">specific information from the model. Finally, the empirical risk loss is given by:</text>
<text x="1002.7" y="1654.7" font-size="27" fill="#304354" stroke="#304354" stroke-width="0.32"><tspan font-style="italic" font-family="'Liberation Serif', 'Times New Roman', 'DejaVu Serif', 'DejaVu Sans', serif">ℒ</tspan></text>
<text x="1031" y="1654.7" font-size="26" fill="#304354" stroke="#304354" stroke-width="0.31"><tspan font-family="'Liberation Serif', 'Times New Roman', 'DejaVu Serif', 'DejaVu Sans', serif">≔ min</tspan></text>
<text x="1061" y="1669" font-size="17" fill="#304354" text-anchor="middle" stroke="#304354" stroke-width="0.20"><tspan font-style="italic" font-family="'Liberation Serif', 'Times New Roman', 'DejaVu Serif', 'DejaVu Sans', serif">ϕ</tspan><tspan font-family="'Liberation Serif', 'Times New Roman', 'DejaVu Serif', 'DejaVu Sans', serif">,</tspan><tspan font-style="italic" font-family="'Liberation Serif', 'Times New Roman', 'DejaVu Serif', 'DejaVu Sans', serif">θ</tspan></text>
<text x="0" y="0" font-size="52" font-family="'Liberation Serif', 'Times New Roman', 'DejaVu Serif', 'DejaVu Sans', serif" fill="#304354" transform="translate(1128,1662) scale(1.0,1.05)">∑</text>
<text x="1146" y="1686.6" font-size="17" fill="#304354" text-anchor="middle" stroke="#304354" stroke-width="0.20"><tspan font-style="italic" font-family="'Liberation Serif', 'Times New Roman', 'DejaVu Serif', 'DejaVu Sans', serif">e</tspan><tspan font-family="'Liberation Serif', 'Times New Roman', 'DejaVu Serif', 'DejaVu Sans', serif">∈supp(</tspan><tspan font-style="italic" font-family="'Liberation Serif', 'Times New Roman', 'DejaVu Serif', 'DejaVu Sans', serif">ℰ</tspan><tspan font-size="65%" baseline-shift="-0.3em"><tspan font-style="italic" font-family="'Liberation Serif', 'Times New Roman', 'DejaVu Serif', 'DejaVu Sans', serif">tr</tspan></tspan><tspan font-family="'Liberation Serif', 'Times New Roman', 'DejaVu Serif', 'DejaVu Sans', serif">)</tspan></text>
<text x="1202.6" y="1654.7" font-size="27" fill="#304354" textLength="253" lengthAdjust="spacing" stroke="#304354" stroke-width="0.32"><tspan font-family="'Liberation Serif', 'Times New Roman', 'DejaVu Serif', 'DejaVu Sans', serif">𝔼</tspan><tspan font-size="65%" baseline-shift="-0.3em"><tspan font-family="'Liberation Serif', 'Times New Roman', 'DejaVu Serif', 'DejaVu Sans', serif">(</tspan><tspan font-style="italic" font-family="'Liberation Serif', 'Times New Roman', 'DejaVu Serif', 'DejaVu Sans', serif">Z</tspan><tspan font-family="'Liberation Serif', 'Times New Roman', 'DejaVu Serif', 'DejaVu Sans', serif">,</tspan><tspan font-style="italic" font-family="'Liberation Serif', 'Times New Roman', 'DejaVu Serif', 'DejaVu Sans', serif">Y</tspan><tspan font-family="'Liberation Serif', 'Times New Roman', 'DejaVu Serif', 'DejaVu Sans', serif">)∼</tspan><tspan font-style="italic" font-family="'Liberation Serif', 'Times New Roman', 'DejaVu Serif', 'DejaVu Sans', serif">p</tspan><tspan font-size="65%" baseline-shift="0.55em"><tspan font-style="italic" font-family="'Liberation Serif', 'Times New Roman', 'DejaVu Serif', 'DejaVu Sans', serif">e</tspan></tspan></tspan><tspan font-family="'Liberation Serif', 'Times New Roman', 'DejaVu Serif', 'DejaVu Sans', serif">(</tspan><tspan font-style="italic" font-family="'Liberation Serif', 'Times New Roman', 'DejaVu Serif', 'DejaVu Sans', serif">f</tspan><tspan font-size="65%" baseline-shift="-0.3em"><tspan font-style="italic" font-family="'Liberation Serif', 'Times New Roman', 'DejaVu Serif', 'DejaVu Sans', serif">θ</tspan></tspan><tspan font-family="'Liberation Serif', 'Times New Roman', 'DejaVu Serif', 'DejaVu Sans', serif">(</tspan><tspan fill="#c9960c" stroke="#c9960c"><tspan font-style="italic" font-family="'Liberation Serif', 'Times New Roman', 'DejaVu Serif', 'DejaVu Sans', serif">Ẑ</tspan><tspan font-size="65%" baseline-shift="0.55em"><tspan font-style="italic" font-family="'Liberation Serif', 'Times New Roman', 'DejaVu Serif', 'DejaVu Sans', serif">e</tspan></tspan></tspan><tspan font-family="'Liberation Serif', 'Times New Roman', 'DejaVu Serif', 'DejaVu Sans', serif">) − </tspan><tspan font-style="italic" font-family="'Liberation Serif', 'Times New Roman', 'DejaVu Serif', 'DejaVu Sans', serif">Y</tspan><tspan font-size="65%" baseline-shift="0.55em"><tspan font-style="italic" font-family="'Liberation Serif', 'Times New Roman', 'DejaVu Serif', 'DejaVu Sans', serif">e</tspan></tspan><tspan font-family="'Liberation Serif', 'Times New Roman', 'DejaVu Serif', 'DejaVu Sans', serif">)</tspan><tspan font-size="65%" baseline-shift="0.55em"><tspan font-family="'Liberation Serif', 'Times New Roman', 'DejaVu Serif', 'DejaVu Sans', serif">2</tspan></tspan><tspan font-family="'Liberation Serif', 'Times New Roman', 'DejaVu Serif', 'DejaVu Sans', serif"> .</tspan></text>
<rect x="1769.5" y="298.7" width="9.200000000000045" height="29.30000000000001" fill="#000" />
<text x="1787" y="326" font-size="33.2" fill="#000" font-weight="bold" textLength="199" lengthAdjust="spacing" stroke="#000" stroke-width="0.40">Experiments</text>
<circle cx="1790" cy="363" r="2.6" fill="#304354" />
<text x="1814.4" y="370" font-size="20.7" fill="#304354" word-spacing="0.73" textLength="585" lengthAdjust="spacing" stroke="#304354" stroke-width="0.25">Comparison with state-of-the-art (SOTA) methods on AFEW-VA</text>
<rect x="1772" y="388.6" width="758.4000000000001" height="34.89999999999998" fill="#4472c4" />
<rect x="1772" y="426" width="89" height="293.79999999999995" fill="#cfd5ea" />
<rect x="1861" y="423.5" width="669.4000000000001" height="37.80000000000001" fill="#cfd5ea" />
<rect x="1861" y="461.3" width="669.4000000000001" height="37.099999999999966" fill="#e9ebf5" />
<rect x="1861" y="498.4" width="669.4000000000001" height="36.700000000000045" fill="#cfd5ea" />
<rect x="1861" y="535.1" width="669.4000000000001" height="37.39999999999998" fill="#e9ebf5" />
<rect x="1861" y="572.5" width="669.4000000000001" height="36.799999999999955" fill="#cfd5ea" />
<rect x="1861" y="609.3" width="669.4000000000001" height="37.0" fill="#e9ebf5" />
<rect x="1861" y="646.3" width="669.4000000000001" height="36.80000000000007" fill="#cfd5ea" />
<rect x="1861" y="683.1" width="669.4000000000001" height="36.69999999999993" fill="#e9ebf5" />
<line x1="1861" y1="388.6" x2="1861" y2="719.8" stroke="#fff" stroke-width="1.6" />
<line x1="2073" y1="388.6" x2="2073" y2="719.8" stroke="#fff" stroke-width="1.6" />
<line x1="2149.5" y1="388.6" x2="2149.5" y2="719.8" stroke="#fff" stroke-width="1.6" />
<line x1="2226" y1="388.6" x2="2226" y2="719.8" stroke="#fff" stroke-width="1.6" />
<line x1="2302.5" y1="388.6" x2="2302.5" y2="719.8" stroke="#fff" stroke-width="1.6" />
<line x1="2379" y1="388.6" x2="2379" y2="719.8" stroke="#fff" stroke-width="1.6" />
<line x1="2455.6" y1="388.6" x2="2455.6" y2="719.8" stroke="#fff" stroke-width="1.6" />
<line x1="1861" y1="461.3" x2="2530.4" y2="461.3" stroke="#fff" stroke-width="1.2" />
<line x1="1861" y1="498.4" x2="2530.4" y2="498.4" stroke="#fff" stroke-width="1.2" />
<line x1="1861" y1="535.1" x2="2530.4" y2="535.1" stroke="#fff" stroke-width="1.2" />
<line x1="1861" y1="572.5" x2="2530.4" y2="572.5" stroke="#fff" stroke-width="1.2" />
<line x1="1861" y1="609.3" x2="2530.4" y2="609.3" stroke="#fff" stroke-width="1.2" />
<line x1="1861" y1="646.3" x2="2530.4" y2="646.3" stroke="#fff" stroke-width="1.2" />
<line x1="1861" y1="683.1" x2="2530.4" y2="683.1" stroke="#fff" stroke-width="1.2" />
<line x1="1772" y1="424.8" x2="2530.4" y2="424.8" stroke="#fff" stroke-width="3" />
<line x1="1861" y1="461.3" x2="2530.4" y2="461.3" stroke="#4a4a4a" stroke-width="1.6" />
<line x1="1861" y1="535.1" x2="2530.4" y2="535.1" stroke="#4a4a4a" stroke-width="1.6" />
<line x1="1772" y1="646.3" x2="2530.4" y2="646.3" stroke="#222" stroke-width="1.6" />
<text x="1816.5" y="412" font-size="18" fill="#fff" font-weight="bold" text-anchor="middle" textLength="39" lengthAdjust="spacing" stroke="#fff" stroke-width="0.22">Case</text>
<text x="1865.4" y="412" font-size="18" fill="#fff" font-weight="bold" textLength="77" lengthAdjust="spacing" stroke="#fff" stroke-width="0.22">Methods</text>
<text x="2111.25" y="412" font-size="18" fill="#fff" font-weight="bold" text-anchor="middle" textLength="67" lengthAdjust="spacing" stroke="#fff" stroke-width="0.22">RMSE-V</text>
<text x="2187.75" y="412" font-size="18" fill="#fff" font-weight="bold" text-anchor="middle" textLength="68" lengthAdjust="spacing" stroke="#fff" stroke-width="0.22">RMSE-A</text>
<text x="2264.25" y="412" font-size="18" fill="#fff" font-weight="bold" text-anchor="middle" textLength="66" lengthAdjust="spacing" stroke="#fff" stroke-width="0.22">SAGR-V</text>
<text x="2340.75" y="412" font-size="18" fill="#fff" font-weight="bold" text-anchor="middle" textLength="66" lengthAdjust="spacing" stroke="#fff" stroke-width="0.22">SAGR-A</text>
<text x="2417.3" y="412" font-size="18" fill="#fff" font-weight="bold" text-anchor="middle" textLength="51" lengthAdjust="spacing" stroke="#fff" stroke-width="0.22">CCC-V</text>
<text x="2493.0" y="412" font-size="18" fill="#fff" font-weight="bold" text-anchor="middle" textLength="52" lengthAdjust="spacing" stroke="#fff" stroke-width="0.22">CCC-A</text>
<text x="1865.4" y="449.9" font-size="18.6" fill="#000" textLength="143" lengthAdjust="spacing" stroke="#000" stroke-width="0.22"><tspan fill="#5f7385" stroke="#5f7385">(J. Kossaifi, 2020)</tspan></text>
<text x="2111.25" y="449.9" font-size="19" fill="#000" text-anchor="middle" textLength="47" lengthAdjust="spacing" stroke="#000" stroke-width="0.23">0.240</text>
<text x="2187.75" y="449.9" font-size="19" fill="#000" text-anchor="middle" textLength="47" lengthAdjust="spacing" stroke="#000" stroke-width="0.23">0.240</text>
<text x="2264.25" y="449.9" font-size="19" fill="#000" text-anchor="middle" textLength="47" lengthAdjust="spacing" stroke="#000" stroke-width="0.23">0.640</text>
<text x="2340.75" y="449.9" font-size="19" fill="#000" text-anchor="middle" textLength="47" lengthAdjust="spacing" stroke="#000" stroke-width="0.23">0.770</text>
<text x="2417.3" y="449.9" font-size="19" fill="#000" text-anchor="middle" textLength="47" lengthAdjust="spacing" stroke="#000" stroke-width="0.23">0.550</text>
<text x="2493.0" y="449.9" font-size="19" fill="#000" text-anchor="middle" textLength="47" lengthAdjust="spacing" stroke="#000" stroke-width="0.23">0.520</text>
<text x="1865.4" y="487.35" font-size="18.6" fill="#000" textLength="70" lengthAdjust="spacing" stroke="#000" stroke-width="0.22">CAF (AL)</text>
<text x="1949.5" y="487.35" font-size="18.6" fill="#5f7385" textLength="110" lengthAdjust="spacing" stroke="#5f7385" stroke-width="0.22">(D. Kim, 2021)</text>
<text x="2111.25" y="487.35" font-size="19" fill="#000" text-anchor="middle" textLength="47" lengthAdjust="spacing" stroke="#000" stroke-width="0.23">0.200</text>
<text x="2187.75" y="487.35" font-size="19" fill="#000" text-anchor="middle" textLength="47" lengthAdjust="spacing" stroke="#000" stroke-width="0.23">0.200</text>
<text x="2264.25" y="487.35" font-size="19" fill="#000" text-anchor="middle" textLength="47" lengthAdjust="spacing" stroke="#000" stroke-width="0.23">0.660</text>
<text x="2340.75" y="487.35" font-size="19" fill="#000" text-anchor="middle" textLength="47" lengthAdjust="spacing" stroke="#000" stroke-width="0.23">0.830</text>
<text x="2417.3" y="487.35" font-size="19" fill="#000" text-anchor="middle" textLength="47" lengthAdjust="spacing" stroke="#000" stroke-width="0.23">0.580</text>
<text x="2493.0" y="487.35" font-size="19" fill="#000" text-anchor="middle" textLength="47" lengthAdjust="spacing" stroke="#000" stroke-width="0.23">0.570</text>
<text x="1865.4" y="524.25" font-size="18.6" fill="#000" textLength="80" lengthAdjust="spacing" stroke="#000" stroke-width="0.22">CAF (R18)</text>
<text x="1951.5" y="524.25" font-size="18.6" fill="#5f7385" textLength="110" lengthAdjust="spacing" stroke="#5f7385" stroke-width="0.22">(D. Kim, 2021)</text>
<text x="2111.25" y="524.25" font-size="19" fill="#000" text-anchor="middle" textLength="47" lengthAdjust="spacing" stroke="#000" stroke-width="0.23">0.170</text>
<text x="2187.75" y="524.25" font-size="19" fill="#000" text-anchor="middle" textLength="47" lengthAdjust="spacing" stroke="#000" stroke-width="0.23">0.180</text>
<text x="2264.25" y="524.25" font-size="19" fill="#000" text-anchor="middle" textLength="47" lengthAdjust="spacing" stroke="#000" stroke-width="0.23">0.680</text>
<text x="2340.75" y="524.25" font-size="19" fill="#000" text-anchor="middle" textLength="47" lengthAdjust="spacing" stroke="#000" stroke-width="0.23">0.870</text>
<text x="2417.3" y="524.25" font-size="19" fill="#000" text-anchor="middle" textLength="47" lengthAdjust="spacing" stroke="#000" stroke-width="0.23">0.590</text>
<text x="2493.0" y="524.25" font-size="19" fill="#000" text-anchor="middle" textLength="47" lengthAdjust="spacing" stroke="#000" stroke-width="0.23">0.540</text>
<text x="1865.4" y="561.3" font-size="18.6" fill="#000" textLength="79" lengthAdjust="spacing" stroke="#000" stroke-width="0.22">ELIM (AL)</text>
<text x="2111.25" y="561.3" font-size="19" fill="#000" text-anchor="middle" textLength="47" lengthAdjust="spacing" stroke="#000" stroke-width="0.23">0.186</text>
<text x="2187.75" y="561.3" font-size="19" fill="#000" text-anchor="middle" textLength="47" lengthAdjust="spacing" stroke="#000" stroke-width="0.23">0.198</text>
<text x="2264.25" y="561.3" font-size="19" fill="#000" text-anchor="middle" textLength="47" lengthAdjust="spacing" stroke="#000" stroke-width="0.23">0.692</text>
<text x="2340.75" y="561.3" font-size="19" fill="#000" text-anchor="middle" textLength="47" lengthAdjust="spacing" stroke="#000" stroke-width="0.23">0.815</text>
<text x="2417.3" y="561.3" font-size="19" fill="#000" text-anchor="middle" textLength="47" lengthAdjust="spacing" stroke="#000" stroke-width="0.23">0.602</text>
<text x="2493.0" y="561.3" font-size="19" fill="#000" text-anchor="middle" textLength="47" lengthAdjust="spacing" stroke="#000" stroke-width="0.23">0.581</text>
<text x="1865.4" y="598.4" font-size="18.6" fill="#000" textLength="90" lengthAdjust="spacing" stroke="#000" stroke-width="0.22">ELIM (R18)</text>
<text x="2111.25" y="598.4" font-size="19" fill="#000" text-anchor="middle" textLength="47" lengthAdjust="spacing" stroke="#000" stroke-width="0.23">0.168</text>
<text x="2187.75" y="598.4" font-size="19" fill="#000" text-anchor="middle" textLength="47" lengthAdjust="spacing" stroke="#000" stroke-width="0.23">0.170</text>
<text x="2264.25" y="598.4" font-size="19" fill="#000" text-anchor="middle" textLength="47" lengthAdjust="spacing" stroke="#000" stroke-width="0.23">0.723</text>
<text x="2340.75" y="598.4" font-size="19" fill="#000" text-anchor="middle" textLength="47" lengthAdjust="spacing" stroke="#000" stroke-width="0.23">0.876</text>
<text x="2417.3" y="598.4" font-size="19" fill="#000" text-anchor="middle" textLength="47" lengthAdjust="spacing" stroke="#000" stroke-width="0.23">0.615</text>
<text x="2493.0" y="598.4" font-size="19" fill="#000" font-weight="bold" text-anchor="middle" textLength="47" lengthAdjust="spacing" stroke="#000" stroke-width="0.23">0.614</text>
<text x="1865.4" y="635.3" font-size="18.6" fill="#000" textLength="103" lengthAdjust="spacing" stroke="#000" stroke-width="0.22">ELIM (MMx)</text>
<text x="2111.25" y="635.3" font-size="19" fill="#000" font-weight="bold" text-anchor="middle" textLength="47" lengthAdjust="spacing" stroke="#000" stroke-width="0.23">0.167</text>
<text x="2187.75" y="635.3" font-size="19" fill="#000" font-weight="bold" text-anchor="middle" textLength="47" lengthAdjust="spacing" stroke="#000" stroke-width="0.23">0.164</text>
<text x="2264.25" y="635.3" font-size="19" fill="#000" font-weight="bold" text-anchor="middle" textLength="47" lengthAdjust="spacing" stroke="#000" stroke-width="0.23">0.747</text>
<text x="2340.75" y="635.3" font-size="19" fill="#000" font-weight="bold" text-anchor="middle" textLength="47" lengthAdjust="spacing" stroke="#000" stroke-width="0.23">0.877</text>
<text x="2417.3" y="635.3" font-size="19" fill="#000" font-weight="bold" text-anchor="middle" textLength="47" lengthAdjust="spacing" stroke="#000" stroke-width="0.23">0.643</text>
<text x="2493.0" y="635.3" font-size="19" fill="#000" text-anchor="middle" textLength="47" lengthAdjust="spacing" stroke="#000" stroke-width="0.23">0.598</text>
<text x="1865.4" y="672.2" font-size="18.6" fill="#000" textLength="141" lengthAdjust="spacing" stroke="#000" stroke-width="0.22"><tspan fill="#5f7385" stroke="#5f7385">(D. Kollias, 2019)</tspan></text>
<text x="2111.25" y="672.2" font-size="20" fill="#000" text-anchor="middle" stroke="#000" stroke-width="0.24">-</text>
<text x="2187.75" y="672.2" font-size="20" fill="#000" text-anchor="middle" stroke="#000" stroke-width="0.24">-</text>
<text x="2264.25" y="672.2" font-size="20" fill="#000" text-anchor="middle" stroke="#000" stroke-width="0.24">-</text>
<text x="2340.75" y="672.2" font-size="20" fill="#000" text-anchor="middle" stroke="#000" stroke-width="0.24">-</text>
<text x="2417.3" y="672.2" font-size="19" fill="#000" text-anchor="middle" textLength="47" lengthAdjust="spacing" stroke="#000" stroke-width="0.23">0.520</text>
<text x="2493.0" y="672.2" font-size="19" fill="#000" text-anchor="middle" textLength="47" lengthAdjust="spacing" stroke="#000" stroke-width="0.23">0.560</text>
<text x="1865.4" y="708.95" font-size="18.6" fill="#000" textLength="143" lengthAdjust="spacing" stroke="#000" stroke-width="0.22"><tspan fill="#5f7385" stroke="#5f7385">(J. Kossaifi, 2020)</tspan></text>
<text x="2111.25" y="708.95" font-size="19" fill="#000" text-anchor="middle" textLength="47" lengthAdjust="spacing" stroke="#000" stroke-width="0.23">0.200</text>
<text x="2187.75" y="708.95" font-size="19" fill="#000" text-anchor="middle" textLength="47" lengthAdjust="spacing" stroke="#000" stroke-width="0.23">0.210</text>
<text x="2264.25" y="708.95" font-size="19" fill="#000" text-anchor="middle" textLength="47" lengthAdjust="spacing" stroke="#000" stroke-width="0.23">0.670</text>
<text x="2340.75" y="708.95" font-size="19" fill="#000" text-anchor="middle" textLength="47" lengthAdjust="spacing" stroke="#000" stroke-width="0.23">0.790</text>
<text x="2417.3" y="708.95" font-size="19" fill="#000" text-anchor="middle" textLength="47" lengthAdjust="spacing" stroke="#000" stroke-width="0.23">0.570</text>
<text x="2493.0" y="708.95" font-size="19" fill="#000" text-anchor="middle" textLength="47" lengthAdjust="spacing" stroke="#000" stroke-width="0.23">0.560</text>
<text x="1816.5" y="543" font-size="19.5" fill="#000" text-anchor="middle" textLength="47" lengthAdjust="spacing" stroke="#000" stroke-width="0.23">Static</text>
<text x="1816.5" y="690" font-size="19" fill="#000" text-anchor="middle" textLength="80" lengthAdjust="spacing" stroke="#000" stroke-width="0.23">Temporal</text>
<circle cx="1790" cy="765.5" r="2.6" fill="#304354" />
<text x="1814.4" y="772.3" font-size="20.7" fill="#304354" textLength="446" lengthAdjust="spacing" stroke="#304354" stroke-width="0.25">Visualization of ID-invariant representation ability</text>
<circle cx="1948.1" cy="797.8" r="3.1" fill="#5a3cf0" stroke="#ffffff" stroke-width="0.4" />
<circle cx="1914.1" cy="810.7" r="3.1" fill="#2a80f0" stroke="#ffffff" stroke-width="0.4" />
<circle cx="1976.0" cy="821.6" r="3.1" fill="#5a3cf0" stroke="#ffffff" stroke-width="0.4" />
<circle cx="1943.0" cy="828.4" r="3.1" fill="#2a80f0" stroke="#ffffff" stroke-width="0.4" />
<circle cx="1793.3" cy="826.7" r="3.1" fill="#e84828" stroke="#ffffff" stroke-width="0.4" />
<circle cx="1829.4" cy="824.4" r="3.1" fill="#f4b060" stroke="#ffffff" stroke-width="0.4" />
<circle cx="1869.5" cy="827.4" r="3.1" fill="#e84828" stroke="#ffffff" stroke-width="0.4" />
<circle cx="1905.6" cy="843.1" r="3.1" fill="#8020e0" stroke="#ffffff" stroke-width="0.4" />
<circle cx="1932.4" cy="853.3" r="3.1" fill="#20b0e0" stroke="#ffffff" stroke-width="0.4" />
<circle cx="1964.1" cy="856.3" r="3.1" fill="#c8e078" stroke="#ffffff" stroke-width="0.4" />
<circle cx="2009.3" cy="848.5" r="3.1" fill="#f47a40" stroke="#ffffff" stroke-width="0.4" />
<circle cx="1784.8" cy="855.6" r="3.1" fill="#f4b060" stroke="#ffffff" stroke-width="0.4" />
<circle cx="1820.2" cy="853.9" r="3.1" fill="#f47a40" stroke="#ffffff" stroke-width="0.4" />
<circle cx="1868.8" cy="864.1" r="3.1" fill="#f47a40" stroke="#ffffff" stroke-width="0.4" />
<circle cx="1770.2" cy="883.9" r="3.1" fill="#f4b060" stroke="#ffffff" stroke-width="0.4" />
<circle cx="1806.9" cy="880.5" r="3.1" fill="#f47a40" stroke="#ffffff" stroke-width="0.4" />
<circle cx="1911.4" cy="878.1" r="3.1" fill="#88e8a8" stroke="#ffffff" stroke-width="0.4" />
<circle cx="1944.0" cy="881.2" r="3.1" fill="#88e8a8" stroke="#ffffff" stroke-width="0.4" />
<circle cx="1987.9" cy="875.0" r="3.1" fill="#a0eca0" stroke="#ffffff" stroke-width="0.4" />
<circle cx="1878.0" cy="894.1" r="3.1" fill="#f4b060" stroke="#ffffff" stroke-width="0.4" />
<circle cx="1969.2" cy="897.8" r="3.1" fill="#a0eca0" stroke="#ffffff" stroke-width="0.4" />
<circle cx="1921.9" cy="905.6" r="3.1" fill="#c8e078" stroke="#ffffff" stroke-width="0.4" />
<circle cx="2008.0" cy="904.3" r="3.1" fill="#f4b060" stroke="#ffffff" stroke-width="0.4" />
<circle cx="1835.9" cy="907.7" r="3.1" fill="#ee1c1c" stroke="#ffffff" stroke-width="0.4" />
<circle cx="1796.7" cy="925.4" r="3.1" fill="#ee1c1c" stroke="#ffffff" stroke-width="0.4" />
<circle cx="1948.8" cy="916.5" r="3.1" fill="#a0eca0" stroke="#ffffff" stroke-width="0.4" />
<circle cx="1858.6" cy="931.8" r="3.1" fill="#ee1c1c" stroke="#ffffff" stroke-width="0.4" />
<circle cx="1898.8" cy="928.1" r="3.1" fill="#f47a40" stroke="#ffffff" stroke-width="0.4" />
<circle cx="1983.8" cy="924.4" r="3.1" fill="#f4b060" stroke="#ffffff" stroke-width="0.4" />
<circle cx="1825.3" cy="936.6" r="3.1" fill="#ee1c1c" stroke="#ffffff" stroke-width="0.4" />
<circle cx="1928.4" cy="936.6" r="3.1" fill="#a0eca0" stroke="#ffffff" stroke-width="0.4" />
<circle cx="1960.7" cy="943.1" r="3.1" fill="#f4b060" stroke="#ffffff" stroke-width="0.4" />
<circle cx="2007.3" cy="949.9" r="3.1" fill="#f47a40" stroke="#ffffff" stroke-width="0.4" />
<circle cx="1902.9" cy="962.1" r="3.1" fill="#f47a40" stroke="#ffffff" stroke-width="0.4" />
<circle cx="1936.2" cy="966.2" r="3.1" fill="#f47a40" stroke="#ffffff" stroke-width="0.4" />
<circle cx="1980.1" cy="966.5" r="3.1" fill="#f4b060" stroke="#ffffff" stroke-width="0.4" />
<circle cx="1826.7" cy="988.6" r="3.1" fill="#f47a40" stroke="#ffffff" stroke-width="0.4" />
<circle cx="1854.6" cy="986.9" r="3.1" fill="#f47a40" stroke="#ffffff" stroke-width="0.4" />
<circle cx="1916.8" cy="993.7" r="3.1" fill="#f47a40" stroke="#ffffff" stroke-width="0.4" />
<circle cx="1957.6" cy="989.3" r="3.1" fill="#f47a40" stroke="#ffffff" stroke-width="0.4" />
<circle cx="2175.0" cy="797.8" r="3.1" fill="#f4b060" stroke="#ffffff" stroke-width="0.4" />
<circle cx="2143.7" cy="810.4" r="3.1" fill="#f47a40" stroke="#ffffff" stroke-width="0.4" />
<circle cx="2209.7" cy="815.2" r="3.1" fill="#f4b060" stroke="#ffffff" stroke-width="0.4" />
<circle cx="2180.1" cy="822.7" r="3.1" fill="#f4b060" stroke="#ffffff" stroke-width="0.4" />
<circle cx="2105.9" cy="851.2" r="3.1" fill="#f47a40" stroke="#ffffff" stroke-width="0.4" />
<circle cx="2149.8" cy="845.8" r="3.1" fill="#2a80f0" stroke="#ffffff" stroke-width="0.4" />
<circle cx="2179.4" cy="852.2" r="3.1" fill="#5a3cf0" stroke="#ffffff" stroke-width="0.4" />
<circle cx="2209.0" cy="851.9" r="3.1" fill="#5a3cf0" stroke="#ffffff" stroke-width="0.4" />
<circle cx="2270.2" cy="850.5" r="3.1" fill="#c8e078" stroke="#ffffff" stroke-width="0.4" />
<circle cx="2077.0" cy="864.1" r="3.1" fill="#f4b060" stroke="#ffffff" stroke-width="0.4" />
<circle cx="2153.5" cy="867.6" r="3.1" fill="#2a80f0" stroke="#ffffff" stroke-width="0.4" />
<circle cx="2181.1" cy="874.7" r="3.1" fill="#8020e0" stroke="#ffffff" stroke-width="0.4" />
<circle cx="2209.7" cy="875.7" r="3.1" fill="#20b0e0" stroke="#ffffff" stroke-width="0.4" />
<circle cx="2251.5" cy="866.9" r="3.1" fill="#a0eca0" stroke="#ffffff" stroke-width="0.4" />
<circle cx="2116.5" cy="879.5" r="3.1" fill="#f47a40" stroke="#ffffff" stroke-width="0.4" />
<circle cx="2145.0" cy="893.7" r="3.1" fill="#f4b060" stroke="#ffffff" stroke-width="0.4" />
<circle cx="2288.6" cy="892.7" r="3.1" fill="#ee1c1c" stroke="#ffffff" stroke-width="0.4" />
<circle cx="2089.3" cy="896.1" r="3.1" fill="#f47a40" stroke="#ffffff" stroke-width="0.4" />
<circle cx="2118.8" cy="902.2" r="3.1" fill="#f4b060" stroke="#ffffff" stroke-width="0.4" />
<circle cx="2177.7" cy="899.5" r="3.1" fill="#a0eca0" stroke="#ffffff" stroke-width="0.4" />
<circle cx="2214.1" cy="903.9" r="3.1" fill="#e84828" stroke="#ffffff" stroke-width="0.4" />
<circle cx="2258.3" cy="901.2" r="3.1" fill="#ee1c1c" stroke="#ffffff" stroke-width="0.4" />
<circle cx="2060.3" cy="922.7" r="3.1" fill="#c8e078" stroke="#ffffff" stroke-width="0.4" />
<circle cx="2107.6" cy="921.6" r="3.1" fill="#e84828" stroke="#ffffff" stroke-width="0.4" />
<circle cx="2141.0" cy="917.6" r="3.1" fill="#f4b060" stroke="#ffffff" stroke-width="0.4" />
<circle cx="2175.3" cy="918.2" r="3.1" fill="#a0eca0" stroke="#ffffff" stroke-width="0.4" />
<circle cx="2213.4" cy="926.1" r="3.1" fill="#f47a40" stroke="#ffffff" stroke-width="0.4" />
<circle cx="2263.1" cy="923.7" r="3.1" fill="#ee1c1c" stroke="#ffffff" stroke-width="0.4" />
<circle cx="2294.7" cy="917.2" r="3.1" fill="#ee1c1c" stroke="#ffffff" stroke-width="0.4" />
<circle cx="2054.2" cy="950.2" r="3.1" fill="#a0eca0" stroke="#ffffff" stroke-width="0.4" />
<circle cx="2084.8" cy="949.5" r="3.1" fill="#a0eca0" stroke="#ffffff" stroke-width="0.4" />
<circle cx="2168.2" cy="946.5" r="3.1" fill="#f47a40" stroke="#ffffff" stroke-width="0.4" />
<circle cx="2138.2" cy="952.6" r="3.1" fill="#f47a40" stroke="#ffffff" stroke-width="0.4" />
<circle cx="2198.8" cy="956.3" r="3.1" fill="#f47a40" stroke="#ffffff" stroke-width="0.4" />
<circle cx="2246.1" cy="959.7" r="3.1" fill="#a0eca0" stroke="#ffffff" stroke-width="0.4" />
<circle cx="2122.2" cy="973.0" r="3.1" fill="#f47a40" stroke="#ffffff" stroke-width="0.4" />
<circle cx="2166.5" cy="969.6" r="3.1" fill="#f47a40" stroke="#ffffff" stroke-width="0.4" />
<circle cx="2208.3" cy="979.5" r="3.1" fill="#f47a40" stroke="#ffffff" stroke-width="0.4" />
<circle cx="2147.8" cy="988.6" r="3.1" fill="#f4b060" stroke="#ffffff" stroke-width="0.4" />
<circle cx="2183.8" cy="993.7" r="3.1" fill="#f47a40" stroke="#ffffff" stroke-width="0.4" />
<line x1="1827.0068027210884" y1="942.3809523809524" x2="1827.0068027210884" y2="982.1768707482993" stroke="#555" stroke-width="1.0" />
<path d="M1827.0,982.2 L1824.7,977.2 L1829.3,977.2 Z" fill="#555"/>
<line x1="1827.0068027210884" y1="982.1768707482993" x2="1827.0068027210884" y2="942.3809523809524" stroke="#555" stroke-width="1.0" />
<path d="M1827.0,942.4 L1829.3,947.4 L1824.7,947.4 Z" fill="#555"/>
<line x1="1830.748299319728" y1="939.6598639455782" x2="1977.0068027210884" y2="964.4897959183673" stroke="#555" stroke-width="1.0" />
<path d="M1977.0,964.5 L1971.7,965.9 L1972.5,961.4 Z" fill="#555"/>
<line x1="1977.0068027210884" y1="964.4897959183673" x2="1830.748299319728" y2="939.6598639455782" stroke="#555" stroke-width="1.0" />
<path d="M1830.7,939.7 L1836.1,938.2 L1835.3,942.8 Z" fill="#555"/>
<line x1="1864.7619047619048" y1="930.4761904761905" x2="1895.3741496598639" y2="926.3945578231293" stroke="#555" stroke-width="1.0" />
<path d="M1895.4,926.4 L1890.7,929.3 L1890.1,924.8 Z" fill="#555"/>
<line x1="1895.3741496598639" y1="926.3945578231293" x2="1864.7619047619048" y2="930.4761904761905" stroke="#555" stroke-width="1.0" />
<path d="M1864.8,930.5 L1869.4,927.5 L1870.0,932.1 Z" fill="#555"/>
<line x1="1865.4421768707482" y1="933.8775510204082" x2="1979.3877551020407" y2="925.7142857142858" stroke="#555" stroke-width="1.0" />
<path d="M1979.4,925.7 L1974.6,928.4 L1974.2,923.8 Z" fill="#555"/>
<line x1="1979.3877551020407" y1="925.7142857142858" x2="1865.4421768707482" y2="933.8775510204082" stroke="#555" stroke-width="1.0" />
<path d="M1865.4,933.9 L1870.3,931.2 L1870.6,935.8 Z" fill="#555"/>
<line x1="2258.299319727891" y1="924.6938775510205" x2="2142.6530612244896" y2="952.5850340136054" stroke="#555" stroke-width="1.0" />
<path d="M2142.7,952.6 L2147.0,949.2 L2148.1,953.6 Z" fill="#555"/>
<line x1="2258.299319727891" y1="928.0952380952381" x2="2152.857142857143" y2="988.6394557823129" stroke="#555" stroke-width="1.0" />
<path d="M2152.9,988.6 L2156.0,984.2 L2158.3,988.1 Z" fill="#555"/>
<line x1="2290.612244897959" y1="915.1700680272108" x2="2147.074829931973" y2="815.5102040816327" stroke="#555" stroke-width="1.0" />
<path d="M2147.1,815.5 L2152.5,816.5 L2149.9,820.3 Z" fill="#555"/>
<line x1="2147.074829931973" y1="815.5102040816327" x2="2290.612244897959" y2="915.1700680272108" stroke="#555" stroke-width="1.0" />
<path d="M2290.6,915.2 L2285.2,914.2 L2287.8,910.4 Z" fill="#555"/>
<line x1="2292.312925170068" y1="916.1904761904761" x2="2183.469387755102" y2="827.4149659863946" stroke="#555" stroke-width="1.0" />
<path d="M2183.5,827.4 L2188.8,828.8 L2185.9,832.4 Z" fill="#555"/>
<line x1="2183.469387755102" y1="827.4149659863946" x2="2292.312925170068" y2="916.1904761904761" stroke="#555" stroke-width="1.0" />
<path d="M2292.3,916.2 L2287.0,914.8 L2289.9,911.2 Z" fill="#555"/>
<circle cx="1814.4" cy="948.8" r="7" fill="#fff" stroke="#222" stroke-width="1.1" />
<text x="1814.4" y="953.3" font-size="13" fill="#111" font-family="'Liberation Serif', 'Times New Roman', 'DejaVu Serif', 'DejaVu Sans', serif" text-anchor="middle" stroke="#111" stroke-width="0.16">1</text>
<circle cx="1817.1" cy="999.2" r="7" fill="#fff" stroke="#222" stroke-width="1.1" />
<text x="1817.1" y="1003.7" font-size="13" fill="#111" font-family="'Liberation Serif', 'Times New Roman', 'DejaVu Serif', 'DejaVu Sans', serif" text-anchor="middle" stroke="#111" stroke-width="0.16">2</text>
<circle cx="1992.7" cy="973.3" r="7" fill="#fff" stroke="#222" stroke-width="1.1" />
<text x="1992.7" y="977.8" font-size="13" fill="#111" font-family="'Liberation Serif', 'Times New Roman', 'DejaVu Serif', 'DejaVu Sans', serif" text-anchor="middle" stroke="#111" stroke-width="0.16">3</text>
<circle cx="1853.9" cy="921.3" r="7" fill="#fff" stroke="#222" stroke-width="1.1" />
<text x="1853.9" y="925.8" font-size="13" fill="#111" font-family="'Liberation Serif', 'Times New Roman', 'DejaVu Serif', 'DejaVu Sans', serif" text-anchor="middle" stroke="#111" stroke-width="0.16">4</text>
<circle cx="1906.6" cy="914.1" r="7" fill="#fff" stroke="#222" stroke-width="1.1" />
<text x="1906.6" y="918.6" font-size="13" fill="#111" font-family="'Liberation Serif', 'Times New Roman', 'DejaVu Serif', 'DejaVu Sans', serif" text-anchor="middle" stroke="#111" stroke-width="0.16">5</text>
<circle cx="1997.1" cy="929.8" r="7" fill="#fff" stroke="#222" stroke-width="1.1" />
<text x="1997.1" y="934.3" font-size="13" fill="#111" font-family="'Liberation Serif', 'Times New Roman', 'DejaVu Serif', 'DejaVu Sans', serif" text-anchor="middle" stroke="#111" stroke-width="0.16">6</text>
<circle cx="2269.5" cy="935.2" r="7" fill="#fff" stroke="#222" stroke-width="1.1" />
<text x="2269.5" y="939.7" font-size="13" fill="#111" font-family="'Liberation Serif', 'Times New Roman', 'DejaVu Serif', 'DejaVu Sans', serif" text-anchor="middle" stroke="#111" stroke-width="0.16">1</text>
<circle cx="2129.7" cy="944.8" r="7" fill="#fff" stroke="#222" stroke-width="1.1" />
<text x="2129.7" y="949.3" font-size="13" fill="#111" font-family="'Liberation Serif', 'Times New Roman', 'DejaVu Serif', 'DejaVu Sans', serif" text-anchor="middle" stroke="#111" stroke-width="0.16">2</text>
<circle cx="2136.2" cy="993.1" r="7" fill="#fff" stroke="#222" stroke-width="1.1" />
<text x="2136.2" y="997.6" font-size="13" fill="#111" font-family="'Liberation Serif', 'Times New Roman', 'DejaVu Serif', 'DejaVu Sans', serif" text-anchor="middle" stroke="#111" stroke-width="0.16">3</text>
<circle cx="2299.5" cy="929.1" r="7" fill="#fff" stroke="#222" stroke-width="1.1" />
<text x="2299.5" y="933.6" font-size="13" fill="#111" font-family="'Liberation Serif', 'Times New Roman', 'DejaVu Serif', 'DejaVu Sans', serif" text-anchor="middle" stroke="#111" stroke-width="0.16">4</text>
<circle cx="2133.8" cy="804.3" r="7" fill="#fff" stroke="#222" stroke-width="1.1" />
<text x="2133.8" y="808.8" font-size="13" fill="#111" font-family="'Liberation Serif', 'Times New Roman', 'DejaVu Serif', 'DejaVu Sans', serif" text-anchor="middle" stroke="#111" stroke-width="0.16">5</text>
<circle cx="2170.2" cy="817.6" r="7" fill="#fff" stroke="#222" stroke-width="1.1" />
<text x="2170.2" y="822.1" font-size="13" fill="#111" font-family="'Liberation Serif', 'Times New Roman', 'DejaVu Serif', 'DejaVu Sans', serif" text-anchor="middle" stroke="#111" stroke-width="0.16">6</text>
<line x1="2037" y1="793.7" x2="2037" y2="1013" stroke="#666" stroke-width="1.6" />
<defs><linearGradient id="jet" x1="0" y1="1" x2="0" y2="0"><stop offset="0.00" stop-color="#7f00ff"/><stop offset="0.10" stop-color="#5a3cf8"/><stop offset="0.20" stop-color="#2a7cf0"/><stop offset="0.30" stop-color="#10b0e0"/><stop offset="0.40" stop-color="#40e0c0"/><stop offset="0.50" stop-color="#90f0a0"/><stop offset="0.60" stop-color="#c8e070"/><stop offset="0.70" stop-color="#f8c060"/><stop offset="0.80" stop-color="#f89040"/><stop offset="0.90" stop-color="#f05020"/><stop offset="1.00" stop-color="#e81818"/></linearGradient></defs>
<rect x="2323" y="788.6" width="11" height="215" fill="url(#jet)" stroke="#333" stroke-width="0.6" />
<line x1="2334" y1="808" x2="2337" y2="808" stroke="#333" stroke-width="0.8" />
<text x="2339" y="812" font-size="11.5" fill="#222" stroke="#222" stroke-width="0.14">0.6</text>
<line x1="2334" y1="847" x2="2337" y2="847" stroke="#333" stroke-width="0.8" />
<text x="2339" y="851" font-size="11.5" fill="#222" stroke="#222" stroke-width="0.14">0.4</text>
<line x1="2334" y1="887" x2="2337" y2="887" stroke="#333" stroke-width="0.8" />
<text x="2339" y="891" font-size="11.5" fill="#222" stroke="#222" stroke-width="0.14">0.2</text>
<line x1="2334" y1="926" x2="2337" y2="926" stroke="#333" stroke-width="0.8" />
<text x="2339" y="930" font-size="11.5" fill="#222" stroke="#222" stroke-width="0.14">0.0</text>
<line x1="2334" y1="965" x2="2337" y2="965" stroke="#333" stroke-width="0.8" />
<text x="2339" y="969" font-size="11.5" fill="#222" stroke="#222" stroke-width="0.14">−0.2</text>
<line x1="2334" y1="1004" x2="2337" y2="1004" stroke="#333" stroke-width="0.8" />
<text x="2339" y="1008" font-size="11.5" fill="#222" stroke="#222" stroke-width="0.14">−0.4</text>
<defs><radialGradient id="fg38" cx="48%" cy="42%" r="58%"><stop offset="0" stop-color="#7a6038"/><stop offset="0.7" stop-color="#4e3a20"/><stop offset="1" stop-color="#4e3a20" stop-opacity="0"/></radialGradient><linearGradient id="fh38" x1="0" y1="0" x2="0" y2="1"><stop offset="0" stop-color="#2a2216"/><stop offset="1" stop-color="#2a2216" stop-opacity="0"/></linearGradient><clipPath id="fc38"><rect x="2379" y="791" width="73" height="73"/></clipPath></defs>
<g clip-path="url(#fc38)">
<rect x="2379" y="791" width="73" height="73" fill="#8a7a50"/>
<ellipse cx="2415.5" cy="833.3" rx="36.5" ry="42.0" fill="url(#fg38)"/>
<rect x="2379" y="791" width="73" height="23.4" fill="url(#fh38)" opacity="0.95"/>
<line x1="2397.2" y1="821.3" x2="2408.9" y2="821.3" stroke="#2a1a12" stroke-width="1.8" opacity="0.55"/>
<ellipse cx="2403.1" cy="826.0" rx="4.7" ry="2.0" fill="#1e120c" opacity="0.7"/>
<line x1="2422.1" y1="821.3" x2="2433.8" y2="821.3" stroke="#2a1a12" stroke-width="1.8" opacity="0.55"/>
<ellipse cx="2427.9" cy="826.0" rx="4.7" ry="2.0" fill="#1e120c" opacity="0.7"/>
<ellipse cx="2417.0" cy="839.2" rx="3.7" ry="1.8" fill="#4a2a1c" opacity="0.35"/>
<ellipse cx="2415.5" cy="847.9" rx="8.0" ry="2.6" fill="#7a2a24" opacity="0.55"/>

</g>
<defs><radialGradient id="fg39" cx="48%" cy="42%" r="58%"><stop offset="0" stop-color="#7a6038"/><stop offset="0.7" stop-color="#4e3a20"/><stop offset="1" stop-color="#4e3a20" stop-opacity="0"/></radialGradient><linearGradient id="fh39" x1="0" y1="0" x2="0" y2="1"><stop offset="0" stop-color="#2a2216"/><stop offset="1" stop-color="#2a2216" stop-opacity="0"/></linearGradient><clipPath id="fc39"><rect x="2458" y="791" width="72" height="73"/></clipPath></defs>
<g clip-path="url(#fc39)">
<rect x="2458" y="791" width="72" height="73" fill="#8a7a50"/>
<ellipse cx="2494.0" cy="833.3" rx="36.0" ry="42.0" fill="url(#fg39)"/>
<rect x="2458" y="791" width="72" height="23.4" fill="url(#fh39)" opacity="0.95"/>
<line x1="2476.0" y1="821.3" x2="2487.5" y2="821.3" stroke="#2a1a12" stroke-width="1.8" opacity="0.55"/>
<ellipse cx="2481.8" cy="826.0" rx="4.7" ry="2.0" fill="#1e120c" opacity="0.7"/>
<line x1="2500.5" y1="821.3" x2="2512.0" y2="821.3" stroke="#2a1a12" stroke-width="1.8" opacity="0.55"/>
<ellipse cx="2506.2" cy="826.0" rx="4.7" ry="2.0" fill="#1e120c" opacity="0.7"/>
<ellipse cx="2495.4" cy="839.2" rx="3.6" ry="1.8" fill="#4a2a1c" opacity="0.35"/>
<ellipse cx="2494.0" cy="847.9" rx="7.9" ry="2.6" fill="#7a2a24" opacity="0.55"/>

</g>
<defs><radialGradient id="fg40" cx="48%" cy="42%" r="58%"><stop offset="0" stop-color="#a86a48"/><stop offset="0.7" stop-color="#6e4028"/><stop offset="1" stop-color="#6e4028" stop-opacity="0"/></radialGradient><linearGradient id="fh40" x1="0" y1="0" x2="0" y2="1"><stop offset="0" stop-color="#5a3020"/><stop offset="1" stop-color="#5a3020" stop-opacity="0"/></linearGradient><clipPath id="fc40"><rect x="2379" y="864" width="73" height="73"/></clipPath></defs>
<g clip-path="url(#fc40)">
<rect x="2379" y="864" width="73" height="73" fill="#3a2216"/>
<ellipse cx="2415.5" cy="906.3" rx="36.5" ry="42.0" fill="url(#fg40)"/>
<rect x="2379" y="864" width="73" height="23.4" fill="url(#fh40)" opacity="0.95"/>
<line x1="2397.2" y1="894.3" x2="2408.9" y2="894.3" stroke="#2a1a12" stroke-width="1.8" opacity="0.55"/>
<ellipse cx="2403.1" cy="899.0" rx="4.7" ry="2.0" fill="#1e120c" opacity="0.7"/>
<line x1="2422.1" y1="894.3" x2="2433.8" y2="894.3" stroke="#2a1a12" stroke-width="1.8" opacity="0.55"/>
<ellipse cx="2427.9" cy="899.0" rx="4.7" ry="2.0" fill="#1e120c" opacity="0.7"/>
<ellipse cx="2417.0" cy="912.2" rx="3.7" ry="1.8" fill="#4a2a1c" opacity="0.35"/>
<ellipse cx="2415.5" cy="920.9" rx="8.0" ry="2.6" fill="#7a2a24" opacity="0.55"/>

</g>
<defs><radialGradient id="fg41" cx="48%" cy="42%" r="58%"><stop offset="0" stop-color="#d6a494"/><stop offset="0.7" stop-color="#a87464"/><stop offset="1" stop-color="#a87464" stop-opacity="0"/></radialGradient><linearGradient id="fh41" x1="0" y1="0" x2="0" y2="1"><stop offset="0" stop-color="#b0a8a0"/><stop offset="1" stop-color="#b0a8a0" stop-opacity="0"/></linearGradient><clipPath id="fc41"><rect x="2458" y="864" width="72" height="73"/></clipPath></defs>
<g clip-path="url(#fc41)">
<rect x="2458" y="864" width="72" height="73" fill="#8a9494"/>
<ellipse cx="2494.0" cy="906.3" rx="36.0" ry="42.0" fill="url(#fg41)"/>
<rect x="2458" y="864" width="72" height="23.4" fill="url(#fh41)" opacity="0.95"/>
<line x1="2476.0" y1="894.3" x2="2487.5" y2="894.3" stroke="#2a1a12" stroke-width="1.8" opacity="0.55"/>
<ellipse cx="2481.8" cy="899.0" rx="4.7" ry="2.0" fill="#1e120c" opacity="0.7"/>
<line x1="2500.5" y1="894.3" x2="2512.0" y2="894.3" stroke="#2a1a12" stroke-width="1.8" opacity="0.55"/>
<ellipse cx="2506.2" cy="899.0" rx="4.7" ry="2.0" fill="#1e120c" opacity="0.7"/>
<ellipse cx="2495.4" cy="912.2" rx="3.6" ry="1.8" fill="#4a2a1c" opacity="0.35"/>
<ellipse cx="2494.0" cy="920.9" rx="7.9" ry="2.6" fill="#7a2a24" opacity="0.55"/>

</g>
<defs><radialGradient id="fg42" cx="48%" cy="42%" r="58%"><stop offset="0" stop-color="#a86a48"/><stop offset="0.7" stop-color="#6e4028"/><stop offset="1" stop-color="#6e4028" stop-opacity="0"/></radialGradient><linearGradient id="fh42" x1="0" y1="0" x2="0" y2="1"><stop offset="0" stop-color="#5a3020"/><stop offset="1" stop-color="#5a3020" stop-opacity="0"/></linearGradient><clipPath id="fc42"><rect x="2379" y="937" width="73" height="71"/></clipPath></defs>
<g clip-path="url(#fc42)">
<rect x="2379" y="937" width="73" height="71" fill="#3a2216"/>
<ellipse cx="2415.5" cy="978.2" rx="36.5" ry="40.8" fill="url(#fg42)"/>
<rect x="2379" y="937" width="73" height="22.7" fill="url(#fh42)" opacity="0.95"/>
<line x1="2397.2" y1="966.5" x2="2408.9" y2="966.5" stroke="#2a1a12" stroke-width="1.8" opacity="0.55"/>
<ellipse cx="2403.1" cy="971.1" rx="4.7" ry="2.0" fill="#1e120c" opacity="0.7"/>
<line x1="2422.1" y1="966.5" x2="2433.8" y2="966.5" stroke="#2a1a12" stroke-width="1.8" opacity="0.55"/>
<ellipse cx="2427.9" cy="971.1" rx="4.7" ry="2.0" fill="#1e120c" opacity="0.7"/>
<ellipse cx="2417.0" cy="983.9" rx="3.7" ry="1.8" fill="#4a2a1c" opacity="0.35"/>
<ellipse cx="2415.5" cy="992.4" rx="8.0" ry="2.5" fill="#7a2a24" opacity="0.55"/>

</g>
<defs><radialGradient id="fg43" cx="48%" cy="42%" r="58%"><stop offset="0" stop-color="#c48c74"/><stop offset="0.7" stop-color="#8a5444"/><stop offset="1" stop-color="#8a5444" stop-opacity="0"/></radialGradient><linearGradient id="fh43" x1="0" y1="0" x2="0" y2="1"><stop offset="0" stop-color="#7a6a60"/><stop offset="1" stop-color="#7a6a60" stop-opacity="0"/></linearGradient><clipPath id="fc43"><rect x="2458" y="937" width="72" height="71"/></clipPath></defs>
<g clip-path="url(#fc43)">
<rect x="2458" y="937" width="72" height="71" fill="#3a3636"/>
<ellipse cx="2494.0" cy="978.2" rx="36.0" ry="40.8" fill="url(#fg43)"/>
<rect x="2458" y="937" width="72" height="22.7" fill="url(#fh43)" opacity="0.95"/>
<line x1="2476.0" y1="966.5" x2="2487.5" y2="966.5" stroke="#2a1a12" stroke-width="1.8" opacity="0.55"/>
<ellipse cx="2481.8" cy="971.1" rx="4.7" ry="2.0" fill="#1e120c" opacity="0.7"/>
<line x1="2500.5" y1="966.5" x2="2512.0" y2="966.5" stroke="#2a1a12" stroke-width="1.8" opacity="0.55"/>
<ellipse cx="2506.2" cy="971.1" rx="4.7" ry="2.0" fill="#1e120c" opacity="0.7"/>
<ellipse cx="2495.4" cy="983.9" rx="3.6" ry="1.8" fill="#4a2a1c" opacity="0.35"/>
<ellipse cx="2494.0" cy="992.4" rx="7.9" ry="2.5" fill="#7a2a24" opacity="0.55"/>

</g>
<rect x="2379" y="791" width="19" height="18" fill="#fff" />
<circle cx="2388.5" cy="800" r="7.5" fill="#fff" stroke="#111" stroke-width="1.2" />
<text x="2388.5" y="804.8" font-size="13.5" fill="#111" font-family="'Liberation Serif', 'Times New Roman', 'DejaVu Serif', 'DejaVu Sans', serif" text-anchor="middle" stroke="#111" stroke-width="0.16">1</text>
<rect x="2458" y="791" width="19" height="18" fill="#fff" />
<circle cx="2467.5" cy="800" r="7.5" fill="#fff" stroke="#111" stroke-width="1.2" />
<text x="2467.5" y="804.8" font-size="13.5" fill="#111" font-family="'Liberation Serif', 'Times New Roman', 'DejaVu Serif', 'DejaVu Sans', serif" text-anchor="middle" stroke="#111" stroke-width="0.16">4</text>
<rect x="2379" y="864" width="19" height="18" fill="#fff" />
<circle cx="2388.5" cy="873" r="7.5" fill="#fff" stroke="#111" stroke-width="1.2" />
<text x="2388.5" y="877.8" font-size="13.5" fill="#111" font-family="'Liberation Serif', 'Times New Roman', 'DejaVu Serif', 'DejaVu Sans', serif" text-anchor="middle" stroke="#111" stroke-width="0.16">2</text>
<rect x="2458" y="864" width="19" height="18" fill="#fff" />
<circle cx="2467.5" cy="873" r="7.5" fill="#fff" stroke="#111" stroke-width="1.2" />
<text x="2467.5" y="877.8" font-size="13.5" fill="#111" font-family="'Liberation Serif', 'Times New Roman', 'DejaVu Serif', 'DejaVu Sans', serif" text-anchor="middle" stroke="#111" stroke-width="0.16">5</text>
<rect x="2379" y="937" width="19" height="18" fill="#fff" />
<circle cx="2388.5" cy="946" r="7.5" fill="#fff" stroke="#111" stroke-width="1.2" />
<text x="2388.5" y="950.8" font-size="13.5" fill="#111" font-family="'Liberation Serif', 'Times New Roman', 'DejaVu Serif', 'DejaVu Sans', serif" text-anchor="middle" stroke="#111" stroke-width="0.16">3</text>
<rect x="2458" y="937" width="19" height="18" fill="#fff" />
<circle cx="2467.5" cy="946" r="7.5" fill="#fff" stroke="#111" stroke-width="1.2" />
<text x="2467.5" y="950.8" font-size="13.5" fill="#111" font-family="'Liberation Serif', 'Times New Roman', 'DejaVu Serif', 'DejaVu Sans', serif" text-anchor="middle" stroke="#111" stroke-width="0.16">6</text>
<text x="1826" y="1041" font-size="20" fill="#000" textLength="130.6" lengthAdjust="spacing" stroke="#000" stroke-width="0.24"><tspan font-family="'Liberation Serif', 'Times New Roman', 'DejaVu Serif', 'DejaVu Sans', serif">(</tspan><tspan font-style="italic" font-family="'Liberation Serif', 'Times New Roman', 'DejaVu Serif', 'DejaVu Sans', serif">a</tspan><tspan font-family="'Liberation Serif', 'Times New Roman', 'DejaVu Serif', 'DejaVu Sans', serif">)</tspan> ELIM (<tspan font-weight="bold">ours</tspan>)</text>
<text x="2164" y="1041" font-size="20" fill="#000" textLength="65" lengthAdjust="spacing" stroke="#000" stroke-width="0.24"><tspan font-family="'Liberation Serif', 'Times New Roman', 'DejaVu Serif', 'DejaVu Sans', serif">(</tspan><tspan font-style="italic" font-family="'Liberation Serif', 'Times New Roman', 'DejaVu Serif', 'DejaVu Sans', serif">b</tspan><tspan font-family="'Liberation Serif', 'Times New Roman', 'DejaVu Serif', 'DejaVu Sans', serif">)</tspan> CAF</text>
<circle cx="1790" cy="1094" r="2.6" fill="#304354" />
<text x="1814.4" y="1100.8" font-size="20.7" fill="#304354" textLength="240" lengthAdjust="spacing" stroke="#304354" stroke-width="0.25">Verification of ID matching</text>
<rect x="1812.7" y="1123" width="101" height="255" fill="none" stroke="#f01010" stroke-width="2" rx="12" stroke-dasharray="7,5"/>
<rect x="1968" y="1123" width="568" height="255.7" fill="none" stroke="#1010d0" stroke-width="2" rx="14" stroke-dasharray="7,5"/>
<text x="0" y="0" font-size="19" font-weight="bold" fill="#f01010" textLength="85" lengthAdjust="spacing" transform="translate(1834.5,1222.6) rotate(-90)">Reference</text>
<text x="0" y="0" font-size="19" font-weight="bold" fill="#1010d0" textLength="62.7" lengthAdjust="spacing" transform="translate(2521,1196.7) rotate(-90)">Targets</text>
<defs><radialGradient id="fg44" cx="48%" cy="42%" r="58%"><stop offset="0" stop-color="#d09a78"/><stop offset="0.7" stop-color="#a86a4a"/><stop offset="1" stop-color="#a86a4a" stop-opacity="0"/></radialGradient><linearGradient id="fh44" x1="0" y1="0" x2="0" y2="1"><stop offset="0" stop-color="#8a5028"/><stop offset="1" stop-color="#8a5028" stop-opacity="0"/></linearGradient><clipPath id="fc44"><rect x="1844" y="1151" width="60.6" height="59.7"/></clipPath></defs>
<g clip-path="url(#fc44)">
<rect x="1844" y="1151" width="60.6" height="59.7" fill="#6a4020"/>
<ellipse cx="1874.3" cy="1185.6" rx="30.3" ry="34.3" fill="url(#fg44)"/>
<rect x="1844" y="1151" width="60.6" height="19.1" fill="url(#fh44)" opacity="0.95"/>
<line x1="1859.2" y1="1175.8" x2="1868.8" y2="1175.8" stroke="#2a1a12" stroke-width="1.5" opacity="0.55"/>
<ellipse cx="1864.0" cy="1179.7" rx="3.9" ry="1.7" fill="#1e120c" opacity="0.7"/>
<line x1="1879.8" y1="1175.8" x2="1889.4" y2="1175.8" stroke="#2a1a12" stroke-width="1.5" opacity="0.55"/>
<ellipse cx="1884.6" cy="1179.7" rx="3.9" ry="1.7" fill="#1e120c" opacity="0.7"/>
<ellipse cx="1875.5" cy="1190.4" rx="3.0" ry="1.5" fill="#4a2a1c" opacity="0.35"/>
<ellipse cx="1874.3" cy="1197.6" rx="6.7" ry="2.1" fill="#7a2a24" opacity="0.55"/>

</g>
<defs><radialGradient id="fg45" cx="48%" cy="42%" r="58%"><stop offset="0" stop-color="#c87a60"/><stop offset="0.7" stop-color="#9a4a38"/><stop offset="1" stop-color="#9a4a38" stop-opacity="0"/></radialGradient><linearGradient id="fh45" x1="0" y1="0" x2="0" y2="1"><stop offset="0" stop-color="#4a2014"/><stop offset="1" stop-color="#4a2014" stop-opacity="0"/></linearGradient><clipPath id="fc45"><rect x="1844" y="1279.4" width="60.6" height="60.6"/></clipPath></defs>
<g clip-path="url(#fc45)">
<rect x="1844" y="1279.4" width="60.6" height="60.6" fill="#3a1810"/>
<ellipse cx="1874.3" cy="1314.5" rx="30.3" ry="34.8" fill="url(#fg45)"/>
<rect x="1844" y="1279.4" width="60.6" height="19.4" fill="url(#fh45)" opacity="0.95"/>
<line x1="1859.2" y1="1304.5" x2="1868.8" y2="1304.5" stroke="#2a1a12" stroke-width="1.5" opacity="0.55"/>
<ellipse cx="1864.0" cy="1308.5" rx="3.9" ry="1.7" fill="#1e120c" opacity="0.7"/>
<line x1="1879.8" y1="1304.5" x2="1889.4" y2="1304.5" stroke="#2a1a12" stroke-width="1.5" opacity="0.55"/>
<ellipse cx="1884.6" cy="1308.5" rx="3.9" ry="1.7" fill="#1e120c" opacity="0.7"/>
<ellipse cx="1875.5" cy="1319.4" rx="3.0" ry="1.5" fill="#4a2a1c" opacity="0.35"/>
<ellipse cx="1874.3" cy="1326.7" rx="6.7" ry="2.1" fill="#7a2a24" opacity="0.55"/>

</g>
<text x="1877" y="1147.8" font-size="17" fill="#000" font-weight="bold" text-anchor="middle" textLength="47" lengthAdjust="spacing" stroke="#000" stroke-width="0.20">ID-514</text>
<text x="1877" y="1276.7" font-size="17" fill="#000" font-weight="bold" text-anchor="middle" textLength="47" lengthAdjust="spacing" stroke="#000" stroke-width="0.20">ID-518</text>
<path d="M1920,1179.7 L1929,1171.7 L1929,1176.2 L1952.4,1176.2 L1952.4,1171.7 L1961.4,1179.7 L1952.4,1187.7 L1952.4,1183.2 L1929,1183.2 L1929,1187.7 Z" fill="#4472c4" stroke="#2f5597" stroke-width="0.8" />
<path d="M1920,1309 L1929,1301 L1929,1305.5 L1952.4,1305.5 L1952.4,1301 L1961.4,1309 L1952.4,1317 L1952.4,1312.5 L1929,1312.5 L1929,1317 Z" fill="#4472c4" stroke="#2f5597" stroke-width="0.8" />
<defs><radialGradient id="fg46" cx="48%" cy="42%" r="58%"><stop offset="0" stop-color="#b57a58"/><stop offset="0.7" stop-color="#8a5236"/><stop offset="1" stop-color="#8a5236" stop-opacity="0"/></radialGradient><linearGradient id="fh46" x1="0" y1="0" x2="0" y2="1"><stop offset="0" stop-color="#1a1208"/><stop offset="1" stop-color="#1a1208" stop-opacity="0"/></linearGradient><clipPath id="fc46"><rect x="1973.6" y="1151" width="61.200000000000045" height="59.700000000000045"/></clipPath></defs>
<g clip-path="url(#fc46)">
<rect x="1973.6" y="1151" width="61.200000000000045" height="59.700000000000045" fill="#3a2410"/>
<ellipse cx="2004.2" cy="1185.6" rx="30.6" ry="34.3" fill="url(#fg46)"/>
<rect x="1973.6" y="1151" width="61.200000000000045" height="19.1" fill="url(#fh46)" opacity="0.95"/>
<line x1="1988.9" y1="1175.8" x2="1998.7" y2="1175.8" stroke="#2a1a12" stroke-width="1.5" opacity="0.55"/>
<ellipse cx="1993.8" cy="1179.7" rx="4.0" ry="1.7" fill="#1e120c" opacity="0.7"/>
<line x1="2009.7" y1="1175.8" x2="2019.5" y2="1175.8" stroke="#2a1a12" stroke-width="1.5" opacity="0.55"/>
<ellipse cx="2014.6" cy="1179.7" rx="4.0" ry="1.7" fill="#1e120c" opacity="0.7"/>
<ellipse cx="2005.4" cy="1190.4" rx="3.1" ry="1.5" fill="#4a2a1c" opacity="0.35"/>
<ellipse cx="2004.2" cy="1197.6" rx="6.7" ry="2.1" fill="#7a2a24" opacity="0.55"/>

</g>
<text x="2007.6" y="1147.8" font-size="17" fill="#000" font-weight="bold" text-anchor="middle" textLength="47" lengthAdjust="spacing" stroke="#000" stroke-width="0.20">ID-515</text>
<text x="1975" y="1238.6" font-size="19" fill="#000" textLength="107" lengthAdjust="spacing" stroke="#000" stroke-width="0.23"><tspan font-style="italic" font-family="'Liberation Serif', 'Times New Roman', 'DejaVu Serif', 'DejaVu Sans', serif">μ</tspan><tspan font-size="65%" baseline-shift="0.55em"><tspan font-family="'Liberation Serif', 'Times New Roman', 'DejaVu Serif', 'DejaVu Sans', serif">ID−515</tspan></tspan><tspan font-family="'Liberation Serif', 'Times New Roman', 'DejaVu Serif', 'DejaVu Sans', serif">: </tspan>0.111</text>
<defs><radialGradient id="fg47" cx="48%" cy="42%" r="58%"><stop offset="0" stop-color="#e8d8d0"/><stop offset="0.7" stop-color="#b8a8a0"/><stop offset="1" stop-color="#b8a8a0" stop-opacity="0"/></radialGradient><linearGradient id="fh47" x1="0" y1="0" x2="0" y2="1"><stop offset="0" stop-color="#2a2a28"/><stop offset="1" stop-color="#2a2a28" stop-opacity="0"/></linearGradient><clipPath id="fc47"><rect x="2113.7" y="1151" width="60.30000000000018" height="59.700000000000045"/></clipPath></defs>
<g clip-path="url(#fc47)">
<rect x="2113.7" y="1151" width="60.30000000000018" height="59.700000000000045" fill="#3a3a38"/>
<ellipse cx="2143.8" cy="1185.6" rx="30.2" ry="34.3" fill="url(#fg47)"/>
<rect x="2113.7" y="1151" width="60.30000000000018" height="19.1" fill="url(#fh47)" opacity="0.95"/>
<line x1="2128.8" y1="1175.8" x2="2138.4" y2="1175.8" stroke="#2a1a12" stroke-width="1.5" opacity="0.55"/>
<ellipse cx="2133.6" cy="1179.7" rx="3.9" ry="1.7" fill="#1e120c" opacity="0.7"/>
<line x1="2149.3" y1="1175.8" x2="2158.9" y2="1175.8" stroke="#2a1a12" stroke-width="1.5" opacity="0.55"/>
<ellipse cx="2154.1" cy="1179.7" rx="3.9" ry="1.7" fill="#1e120c" opacity="0.7"/>
<ellipse cx="2145.1" cy="1190.4" rx="3.0" ry="1.5" fill="#4a2a1c" opacity="0.35"/>
<ellipse cx="2143.8" cy="1197.6" rx="6.6" ry="2.1" fill="#7a2a24" opacity="0.55"/>

</g>
<text x="2147.8" y="1147.8" font-size="17" fill="#000" font-weight="bold" text-anchor="middle" textLength="47" lengthAdjust="spacing" stroke="#000" stroke-width="0.20">ID-510</text>
<text x="2115.4" y="1238.6" font-size="19" fill="#000" textLength="107" lengthAdjust="spacing" stroke="#000" stroke-width="0.23"><tspan font-style="italic" font-family="'Liberation Serif', 'Times New Roman', 'DejaVu Serif', 'DejaVu Sans', serif">μ</tspan><tspan font-size="65%" baseline-shift="0.55em"><tspan font-family="'Liberation Serif', 'Times New Roman', 'DejaVu Serif', 'DejaVu Sans', serif">ID−510</tspan></tspan><tspan font-family="'Liberation Serif', 'Times New Roman', 'DejaVu Serif', 'DejaVu Sans', serif">: </tspan>0.193</text>
<defs><radialGradient id="fg48" cx="48%" cy="42%" r="58%"><stop offset="0" stop-color="#d09a78"/><stop offset="0.7" stop-color="#a86a4a"/><stop offset="1" stop-color="#a86a4a" stop-opacity="0"/></radialGradient><linearGradient id="fh48" x1="0" y1="0" x2="0" y2="1"><stop offset="0" stop-color="#2a1810"/><stop offset="1" stop-color="#2a1810" stop-opacity="0"/></linearGradient><clipPath id="fc48"><rect x="2269" y="1151" width="60.69999999999982" height="59.700000000000045"/></clipPath></defs>
<g clip-path="url(#fc48)">
<rect x="2269" y="1151" width="60.69999999999982" height="59.700000000000045" fill="#2a1810"/>
<ellipse cx="2299.3" cy="1185.6" rx="30.3" ry="34.3" fill="url(#fg48)"/>
<rect x="2269" y="1151" width="60.69999999999982" height="19.1" fill="url(#fh48)" opacity="0.95"/>
<line x1="2284.2" y1="1175.8" x2="2293.9" y2="1175.8" stroke="#2a1a12" stroke-width="1.5" opacity="0.55"/>
<ellipse cx="2289.0" cy="1179.7" rx="3.9" ry="1.7" fill="#1e120c" opacity="0.7"/>
<line x1="2304.8" y1="1175.8" x2="2314.5" y2="1175.8" stroke="#2a1a12" stroke-width="1.5" opacity="0.55"/>
<ellipse cx="2309.7" cy="1179.7" rx="3.9" ry="1.7" fill="#1e120c" opacity="0.7"/>
<ellipse cx="2300.6" cy="1190.4" rx="3.0" ry="1.5" fill="#4a2a1c" opacity="0.35"/>
<ellipse cx="2299.3" cy="1197.6" rx="6.7" ry="2.1" fill="#7a2a24" opacity="0.55"/>

</g>
<text x="2302.5" y="1147.8" font-size="17" fill="#000" font-weight="bold" text-anchor="middle" textLength="47" lengthAdjust="spacing" stroke="#000" stroke-width="0.20">ID-512</text>
<text x="2275" y="1238.6" font-size="19" fill="#000" textLength="107" lengthAdjust="spacing" stroke="#000" stroke-width="0.23"><tspan font-style="italic" font-family="'Liberation Serif', 'Times New Roman', 'DejaVu Serif', 'DejaVu Sans', serif">μ</tspan><tspan font-size="65%" baseline-shift="0.55em"><tspan font-family="'Liberation Serif', 'Times New Roman', 'DejaVu Serif', 'DejaVu Sans', serif">ID−512</tspan></tspan><tspan font-family="'Liberation Serif', 'Times New Roman', 'DejaVu Serif', 'DejaVu Sans', serif">: </tspan>0.237</text>
<defs><radialGradient id="fg49" cx="48%" cy="42%" r="58%"><stop offset="0" stop-color="#d09a78"/><stop offset="0.7" stop-color="#a86a4a"/><stop offset="1" stop-color="#a86a4a" stop-opacity="0"/></radialGradient><linearGradient id="fh49" x1="0" y1="0" x2="0" y2="1"><stop offset="0" stop-color="#b05a30"/><stop offset="1" stop-color="#b05a30" stop-opacity="0"/></linearGradient><clipPath id="fc49"><rect x="2412" y="1151" width="60" height="59.700000000000045"/></clipPath></defs>
<g clip-path="url(#fc49)">
<rect x="2412" y="1151" width="60" height="59.700000000000045" fill="#a05030"/>
<ellipse cx="2442.0" cy="1185.6" rx="30.0" ry="34.3" fill="url(#fg49)"/>
<rect x="2412" y="1151" width="60" height="19.1" fill="url(#fh49)" opacity="0.95"/>
<line x1="2427.0" y1="1175.8" x2="2436.6" y2="1175.8" stroke="#2a1a12" stroke-width="1.5" opacity="0.55"/>
<ellipse cx="2431.8" cy="1179.7" rx="3.9" ry="1.7" fill="#1e120c" opacity="0.7"/>
<line x1="2447.4" y1="1175.8" x2="2457.0" y2="1175.8" stroke="#2a1a12" stroke-width="1.5" opacity="0.55"/>
<ellipse cx="2452.2" cy="1179.7" rx="3.9" ry="1.7" fill="#1e120c" opacity="0.7"/>
<ellipse cx="2443.2" cy="1190.4" rx="3.0" ry="1.5" fill="#4a2a1c" opacity="0.35"/>
<ellipse cx="2442.0" cy="1197.6" rx="6.6" ry="2.1" fill="#7a2a24" opacity="0.55"/>

</g>
<text x="2442" y="1147.8" font-size="17" fill="#000" font-weight="bold" text-anchor="middle" textLength="47" lengthAdjust="spacing" stroke="#000" stroke-width="0.20">ID-509</text>
<text x="2418" y="1238.6" font-size="19" fill="#000" textLength="107" lengthAdjust="spacing" stroke="#000" stroke-width="0.23"><tspan font-style="italic" font-family="'Liberation Serif', 'Times New Roman', 'DejaVu Serif', 'DejaVu Sans', serif">μ</tspan><tspan font-size="65%" baseline-shift="0.55em"><tspan font-family="'Liberation Serif', 'Times New Roman', 'DejaVu Serif', 'DejaVu Sans', serif">ID−509</tspan></tspan><tspan font-family="'Liberation Serif', 'Times New Roman', 'DejaVu Serif', 'DejaVu Sans', serif">: </tspan>0.499</text>
<defs><radialGradient id="fg50" cx="48%" cy="42%" r="58%"><stop offset="0" stop-color="#b57a58"/><stop offset="0.7" stop-color="#8a5236"/><stop offset="1" stop-color="#8a5236" stop-opacity="0"/></radialGradient><linearGradient id="fh50" x1="0" y1="0" x2="0" y2="1"><stop offset="0" stop-color="#2a1410"/><stop offset="1" stop-color="#2a1410" stop-opacity="0"/></linearGradient><clipPath id="fc50"><rect x="1973.6" y="1279.4" width="61.200000000000045" height="60.59999999999991"/></clipPath></defs>
<g clip-path="url(#fc50)">
<rect x="1973.6" y="1279.4" width="61.200000000000045" height="60.59999999999991" fill="#3a2018"/>
<ellipse cx="2004.2" cy="1314.5" rx="30.6" ry="34.8" fill="url(#fg50)"/>
<rect x="1973.6" y="1279.4" width="61.200000000000045" height="19.4" fill="url(#fh50)" opacity="0.95"/>
<line x1="1988.9" y1="1304.5" x2="1998.7" y2="1304.5" stroke="#2a1a12" stroke-width="1.5" opacity="0.55"/>
<ellipse cx="1993.8" cy="1308.5" rx="4.0" ry="1.7" fill="#1e120c" opacity="0.7"/>
<line x1="2009.7" y1="1304.5" x2="2019.5" y2="1304.5" stroke="#2a1a12" stroke-width="1.5" opacity="0.55"/>
<ellipse cx="2014.6" cy="1308.5" rx="4.0" ry="1.7" fill="#1e120c" opacity="0.7"/>
<ellipse cx="2005.4" cy="1319.4" rx="3.1" ry="1.5" fill="#4a2a1c" opacity="0.35"/>
<ellipse cx="2004.2" cy="1326.7" rx="6.7" ry="2.1" fill="#7a2a24" opacity="0.55"/>

</g>
<text x="2007.6" y="1276.7" font-size="17" fill="#000" font-weight="bold" text-anchor="middle" textLength="47" lengthAdjust="spacing" stroke="#000" stroke-width="0.20">ID-526</text>
<text x="1975" y="1362.7" font-size="19" fill="#000" textLength="107" lengthAdjust="spacing" stroke="#000" stroke-width="0.23"><tspan font-style="italic" font-family="'Liberation Serif', 'Times New Roman', 'DejaVu Serif', 'DejaVu Sans', serif">μ</tspan><tspan font-size="65%" baseline-shift="0.55em"><tspan font-family="'Liberation Serif', 'Times New Roman', 'DejaVu Serif', 'DejaVu Sans', serif">ID−526</tspan></tspan><tspan font-family="'Liberation Serif', 'Times New Roman', 'DejaVu Serif', 'DejaVu Sans', serif">: </tspan>0.002</text>
<defs><radialGradient id="fg51" cx="48%" cy="42%" r="58%"><stop offset="0" stop-color="#7a4a34"/><stop offset="0.7" stop-color="#4a2a1c"/><stop offset="1" stop-color="#4a2a1c" stop-opacity="0"/></radialGradient><linearGradient id="fh51" x1="0" y1="0" x2="0" y2="1"><stop offset="0" stop-color="#1a1210"/><stop offset="1" stop-color="#1a1210" stop-opacity="0"/></linearGradient><clipPath id="fc51"><rect x="2113.7" y="1279.4" width="60.30000000000018" height="60.59999999999991"/></clipPath></defs>
<g clip-path="url(#fc51)">
<rect x="2113.7" y="1279.4" width="60.30000000000018" height="60.59999999999991" fill="#2a1c18"/>
<ellipse cx="2143.8" cy="1314.5" rx="30.2" ry="34.8" fill="url(#fg51)"/>
<rect x="2113.7" y="1279.4" width="60.30000000000018" height="19.4" fill="url(#fh51)" opacity="0.95"/>
<line x1="2128.8" y1="1304.5" x2="2138.4" y2="1304.5" stroke="#2a1a12" stroke-width="1.5" opacity="0.55"/>
<ellipse cx="2133.6" cy="1308.5" rx="3.9" ry="1.7" fill="#1e120c" opacity="0.7"/>
<line x1="2149.3" y1="1304.5" x2="2158.9" y2="1304.5" stroke="#2a1a12" stroke-width="1.5" opacity="0.55"/>
<ellipse cx="2154.1" cy="1308.5" rx="3.9" ry="1.7" fill="#1e120c" opacity="0.7"/>
<ellipse cx="2145.1" cy="1319.4" rx="3.0" ry="1.5" fill="#4a2a1c" opacity="0.35"/>
<ellipse cx="2143.8" cy="1326.7" rx="6.6" ry="2.1" fill="#7a2a24" opacity="0.55"/>

</g>
<text x="2147.8" y="1276.7" font-size="17" fill="#000" font-weight="bold" text-anchor="middle" textLength="47" lengthAdjust="spacing" stroke="#000" stroke-width="0.20">ID-531</text>
<text x="2115.4" y="1362.7" font-size="19" fill="#000" textLength="107" lengthAdjust="spacing" stroke="#000" stroke-width="0.23"><tspan font-style="italic" font-family="'Liberation Serif', 'Times New Roman', 'DejaVu Serif', 'DejaVu Sans', serif">μ</tspan><tspan font-size="65%" baseline-shift="0.55em"><tspan font-family="'Liberation Serif', 'Times New Roman', 'DejaVu Serif', 'DejaVu Sans', serif">ID−531</tspan></tspan><tspan font-family="'Liberation Serif', 'Times New Roman', 'DejaVu Serif', 'DejaVu Sans', serif">: </tspan>0.176</text>
<defs><radialGradient id="fg52" cx="48%" cy="42%" r="58%"><stop offset="0" stop-color="#c8c0b8"/><stop offset="0.7" stop-color="#8a8480"/><stop offset="1" stop-color="#8a8480" stop-opacity="0"/></radialGradient><linearGradient id="fh52" x1="0" y1="0" x2="0" y2="1"><stop offset="0" stop-color="#a09070"/><stop offset="1" stop-color="#a09070" stop-opacity="0"/></linearGradient><clipPath id="fc52"><rect x="2269" y="1279.4" width="60.69999999999982" height="60.59999999999991"/></clipPath></defs>
<g clip-path="url(#fc52)">
<rect x="2269" y="1279.4" width="60.69999999999982" height="60.59999999999991" fill="#6a6050"/>
<ellipse cx="2299.3" cy="1314.5" rx="30.3" ry="34.8" fill="url(#fg52)"/>
<rect x="2269" y="1279.4" width="60.69999999999982" height="19.4" fill="url(#fh52)" opacity="0.95"/>
<line x1="2284.2" y1="1304.5" x2="2293.9" y2="1304.5" stroke="#2a1a12" stroke-width="1.5" opacity="0.55"/>
<ellipse cx="2289.0" cy="1308.5" rx="3.9" ry="1.7" fill="#1e120c" opacity="0.7"/>
<line x1="2304.8" y1="1304.5" x2="2314.5" y2="1304.5" stroke="#2a1a12" stroke-width="1.5" opacity="0.55"/>
<ellipse cx="2309.7" cy="1308.5" rx="3.9" ry="1.7" fill="#1e120c" opacity="0.7"/>
<ellipse cx="2300.6" cy="1319.4" rx="3.0" ry="1.5" fill="#4a2a1c" opacity="0.35"/>
<ellipse cx="2299.3" cy="1326.7" rx="6.7" ry="2.1" fill="#7a2a24" opacity="0.55"/>

</g>
<text x="2302.5" y="1276.7" font-size="17" fill="#000" font-weight="bold" text-anchor="middle" textLength="47" lengthAdjust="spacing" stroke="#000" stroke-width="0.20">ID-520</text>
<text x="2275" y="1362.7" font-size="19" fill="#000" textLength="107" lengthAdjust="spacing" stroke="#000" stroke-width="0.23"><tspan font-style="italic" font-family="'Liberation Serif', 'Times New Roman', 'DejaVu Serif', 'DejaVu Sans', serif">μ</tspan><tspan font-size="65%" baseline-shift="0.55em"><tspan font-family="'Liberation Serif', 'Times New Roman', 'DejaVu Serif', 'DejaVu Sans', serif">ID−520</tspan></tspan><tspan font-family="'Liberation Serif', 'Times New Roman', 'DejaVu Serif', 'DejaVu Sans', serif">: </tspan>0.335</text>
<defs><radialGradient id="fg53" cx="48%" cy="42%" r="58%"><stop offset="0" stop-color="#d09a78"/><stop offset="0.7" stop-color="#a86a4a"/><stop offset="1" stop-color="#a86a4a" stop-opacity="0"/></radialGradient><linearGradient id="fh53" x1="0" y1="0" x2="0" y2="1"><stop offset="0" stop-color="#4a3a30"/><stop offset="1" stop-color="#4a3a30" stop-opacity="0"/></linearGradient><clipPath id="fc53"><rect x="2412" y="1279.4" width="60" height="60.59999999999991"/></clipPath></defs>
<g clip-path="url(#fc53)">
<rect x="2412" y="1279.4" width="60" height="60.59999999999991" fill="#8a8a80"/>
<ellipse cx="2442.0" cy="1314.5" rx="30.0" ry="34.8" fill="url(#fg53)"/>
<rect x="2412" y="1279.4" width="60" height="19.4" fill="url(#fh53)" opacity="0.95"/>
<line x1="2427.0" y1="1304.5" x2="2436.6" y2="1304.5" stroke="#2a1a12" stroke-width="1.5" opacity="0.55"/>
<ellipse cx="2431.8" cy="1308.5" rx="3.9" ry="1.7" fill="#1e120c" opacity="0.7"/>
<line x1="2447.4" y1="1304.5" x2="2457.0" y2="1304.5" stroke="#2a1a12" stroke-width="1.5" opacity="0.55"/>
<ellipse cx="2452.2" cy="1308.5" rx="3.9" ry="1.7" fill="#1e120c" opacity="0.7"/>
<ellipse cx="2443.2" cy="1319.4" rx="3.0" ry="1.5" fill="#4a2a1c" opacity="0.35"/>
<ellipse cx="2442.0" cy="1326.7" rx="6.6" ry="2.1" fill="#7a2a24" opacity="0.55"/>

</g>
<text x="2442" y="1276.7" font-size="17" fill="#000" font-weight="bold" text-anchor="middle" textLength="47" lengthAdjust="spacing" stroke="#000" stroke-width="0.20">ID-533</text>
<text x="2418" y="1362.7" font-size="19" fill="#000" textLength="107" lengthAdjust="spacing" stroke="#000" stroke-width="0.23"><tspan font-style="italic" font-family="'Liberation Serif', 'Times New Roman', 'DejaVu Serif', 'DejaVu Sans', serif">μ</tspan><tspan font-size="65%" baseline-shift="0.55em"><tspan font-family="'Liberation Serif', 'Times New Roman', 'DejaVu Serif', 'DejaVu Sans', serif">ID−533</tspan></tspan><tspan font-family="'Liberation Serif', 'Times New Roman', 'DejaVu Serif', 'DejaVu Sans', serif">: </tspan>0.442</text>
<rect x="1770" y="1414.5" width="8.700000000000045" height="30.5" fill="#000" />
<text x="1786.5" y="1442.7" font-size="33.2" fill="#000" font-weight="bold" textLength="199.5" lengthAdjust="spacing" stroke="#000" stroke-width="0.40">Contribution</text>
<circle cx="1790" cy="1481" r="2.6" fill="#304354" />
<text x="1814.4" y="1488" font-size="20.7" fill="#304354" textLength="638" lengthAdjust="spacing" stroke="#304354" stroke-width="0.25">We propose a FER framework ELIM that adaptively considers inter-ID</text>
<text x="1814.4" y="1517.5" font-size="20.7" fill="#304354" textLength="578" lengthAdjust="spacing" stroke="#304354" stroke-width="0.25">variation of facial expressions to alleviate ID shift phenomenon.</text>
<text x="1831.4" y="1576.4" font-size="20.5" fill="#000" textLength="104.6" lengthAdjust="spacing" stroke="#000" stroke-width="0.25">References</text>
<text x="1834.8" y="1602.6" font-size="13.5" fill="#111" textLength="333" lengthAdjust="spacing" stroke="#111" stroke-width="0.16">Vapnik, V. (1999), <tspan fill="#5a7490" stroke="#5a7490">Springer science &amp; business media.</tspan></text>
<text x="1834.8" y="1628.8" font-size="13.5" fill="#111" textLength="362" lengthAdjust="spacing" stroke="#111" stroke-width="0.16">Kollias, D. (2019), <tspan fill="#5a7490" stroke="#5a7490">International Journal of Computer Vision.</tspan></text>
<text x="1834.8" y="1654.6" font-size="13.5" fill="#111" textLength="175" lengthAdjust="spacing" stroke="#111" stroke-width="0.16">Kossaifi, J. (2020), <tspan fill="#5a7490" stroke="#5a7490">In CVPR.</tspan></text>
<text x="1834.8" y="1679.8" font-size="13.5" fill="#111" textLength="232" lengthAdjust="spacing" stroke="#111" stroke-width="0.16">Kim, D and BC Song. (2021), <tspan fill="#5a7490" stroke="#5a7490">In AAAI.</tspan></text>
<rect x="2400.3" y="1556.5" width="25.848484848484848" height="25.848484848484848" fill="none" stroke="#1d3c78" stroke-width="3.2" rx="9" />
<rect x="2407.4424242424243" y="1563.6424242424243" width="3.3212121212121213" height="3.3212121212121213" fill="#1d3c78" rx="0.6" />
<rect x="2407.4424242424243" y="1567.7636363636364" width="3.3212121212121213" height="3.3212121212121213" fill="#1d3c78" rx="0.6" />
<rect x="2407.4424242424243" y="1571.8848484848486" width="3.3212121212121213" height="3.3212121212121213" fill="#1d3c78" rx="0.6" />
<rect x="2411.5636363636368" y="1563.6424242424243" width="3.3212121212121213" height="3.3212121212121213" fill="#1d3c78" rx="0.6" />
<rect x="2411.5636363636368" y="1567.7636363636364" width="3.3212121212121213" height="3.3212121212121213" fill="#1d3c78" rx="0.6" />
<rect x="2411.5636363636368" y="1571.8848484848486" width="3.3212121212121213" height="3.3212121212121213" fill="#1d3c78" rx="0.6" />
<rect x="2415.6848484848488" y="1563.6424242424243" width="3.3212121212121213" height="3.3212121212121213" fill="#1d3c78" rx="0.6" />
<rect x="2415.6848484848488" y="1567.7636363636364" width="3.3212121212121213" height="3.3212121212121213" fill="#1d3c78" rx="0.6" />
<rect x="2415.6848484848488" y="1571.8848484848486" width="3.3212121212121213" height="3.3212121212121213" fill="#1d3c78" rx="0.6" />
<rect x="2507.451515151515" y="1556.5" width="25.848484848484848" height="25.848484848484848" fill="none" stroke="#1d3c78" stroke-width="3.2" rx="9" />
<rect x="2514.5939393939398" y="1563.6424242424243" width="3.3212121212121213" height="3.3212121212121213" fill="#1d3c78" rx="0.6" />
<rect x="2514.5939393939398" y="1567.7636363636364" width="3.3212121212121213" height="3.3212121212121213" fill="#1d3c78" rx="0.6" />
<rect x="2514.5939393939398" y="1571.8848484848486" width="3.3212121212121213" height="3.3212121212121213" fill="#1d3c78" rx="0.6" />
<rect x="2518.715151515152" y="1563.6424242424243" width="3.3212121212121213" height="3.3212121212121213" fill="#1d3c78" rx="0.6" />
<rect x="2518.715151515152" y="1567.7636363636364" width="3.3212121212121213" height="3.3212121212121213" fill="#1d3c78" rx="0.6" />
<rect x="2518.715151515152" y="1571.8848484848486" width="3.3212121212121213" height="3.3212121212121213" fill="#1d3c78" rx="0.6" />
<rect x="2522.836363636364" y="1563.6424242424243" width="3.3212121212121213" height="3.3212121212121213" fill="#1d3c78" rx="0.6" />
<rect x="2522.836363636364" y="1567.7636363636364" width="3.3212121212121213" height="3.3212121212121213" fill="#1d3c78" rx="0.6" />
<rect x="2522.836363636364" y="1571.8848484848486" width="3.3212121212121213" height="3.3212121212121213" fill="#1d3c78" rx="0.6" />
<rect x="2400.3" y="1663.6515151515152" width="25.848484848484848" height="25.848484848484848" fill="none" stroke="#1d3c78" stroke-width="3.2" rx="9" />
<rect x="2407.4424242424243" y="1670.7939393939396" width="3.3212121212121213" height="3.3212121212121213" fill="#1d3c78" rx="0.6" />
<rect x="2407.4424242424243" y="1674.9151515151516" width="3.3212121212121213" height="3.3212121212121213" fill="#1d3c78" rx="0.6" />
<rect x="2407.4424242424243" y="1679.0363636363636" width="3.3212121212121213" height="3.3212121212121213" fill="#1d3c78" rx="0.6" />
<rect x="2411.5636363636368" y="1670.7939393939396" width="3.3212121212121213" height="3.3212121212121213" fill="#1d3c78" rx="0.6" />
<rect x="2411.5636363636368" y="1674.9151515151516" width="3.3212121212121213" height="3.3212121212121213" fill="#1d3c78" rx="0.6" />
<rect x="2411.5636363636368" y="1679.0363636363636" width="3.3212121212121213" height="3.3212121212121213" fill="#1d3c78" rx="0.6" />
<rect x="2415.6848484848488" y="1670.7939393939396" width="3.3212121212121213" height="3.3212121212121213" fill="#1d3c78" rx="0.6" />
<rect x="2415.6848484848488" y="1674.9151515151516" width="3.3212121212121213" height="3.3212121212121213" fill="#1d3c78" rx="0.6" />
<rect x="2415.6848484848488" y="1679.0363636363636" width="3.3212121212121213" height="3.3212121212121213" fill="#1d3c78" rx="0.6" />
<circle cx="2400.9" cy="1590.0" r="2.06" fill="#1d3c78" />
<circle cx="2400.9" cy="1594.2" r="2.06" fill="#1d3c78" />
<circle cx="2400.9" cy="1602.4" r="2.06" fill="#1d3c78" />
<circle cx="2400.9" cy="1610.6" r="2.06" fill="#1d3c78" />
<circle cx="2400.9" cy="1614.8" r="2.06" fill="#1d3c78" />
<circle cx="2400.9" cy="1623.0" r="2.06" fill="#1d3c78" />
<circle cx="2400.9" cy="1627.1" r="2.06" fill="#1d3c78" />
<circle cx="2400.9" cy="1631.2" r="2.06" fill="#1d3c78" />
<circle cx="2400.9" cy="1635.4" r="2.06" fill="#1d3c78" />
<circle cx="2400.9" cy="1639.5" r="2.06" fill="#1d3c78" />
<circle cx="2400.9" cy="1647.7" r="2.06" fill="#1d3c78" />
<circle cx="2400.9" cy="1651.8" r="2.06" fill="#1d3c78" />
<circle cx="2405.0" cy="1598.3" r="2.06" fill="#1d3c78" />
<circle cx="2405.0" cy="1606.5" r="2.06" fill="#1d3c78" />
<circle cx="2405.0" cy="1614.8" r="2.06" fill="#1d3c78" />
<circle cx="2405.0" cy="1618.9" r="2.06" fill="#1d3c78" />
<circle cx="2405.0" cy="1623.0" r="2.06" fill="#1d3c78" />
<circle cx="2405.0" cy="1627.1" r="2.06" fill="#1d3c78" />
<circle cx="2405.0" cy="1635.4" r="2.06" fill="#1d3c78" />
<circle cx="2405.0" cy="1647.7" r="2.06" fill="#1d3c78" />
<circle cx="2405.0" cy="1656.0" r="2.06" fill="#1d3c78" />
<circle cx="2409.1" cy="1590.0" r="2.06" fill="#1d3c78" />
<circle cx="2409.1" cy="1594.2" r="2.06" fill="#1d3c78" />
<circle cx="2409.1" cy="1602.4" r="2.06" fill="#1d3c78" />
<circle cx="2409.1" cy="1606.5" r="2.06" fill="#1d3c78" />
<circle cx="2409.1" cy="1614.8" r="2.06" fill="#1d3c78" />
<circle cx="2409.1" cy="1618.9" r="2.06" fill="#1d3c78" />
<circle cx="2409.1" cy="1631.2" r="2.06" fill="#1d3c78" />
<circle cx="2409.1" cy="1651.8" r="2.06" fill="#1d3c78" />
<circle cx="2413.2" cy="1590.0" r="2.06" fill="#1d3c78" />
<circle cx="2413.2" cy="1594.2" r="2.06" fill="#1d3c78" />
<circle cx="2413.2" cy="1602.4" r="2.06" fill="#1d3c78" />
<circle cx="2413.2" cy="1606.5" r="2.06" fill="#1d3c78" />
<circle cx="2413.2" cy="1610.6" r="2.06" fill="#1d3c78" />
<circle cx="2413.2" cy="1631.2" r="2.06" fill="#1d3c78" />
<circle cx="2413.2" cy="1647.7" r="2.06" fill="#1d3c78" />
<circle cx="2417.3" cy="1590.0" r="2.06" fill="#1d3c78" />
<circle cx="2417.3" cy="1598.3" r="2.06" fill="#1d3c78" />
<circle cx="2417.3" cy="1618.9" r="2.06" fill="#1d3c78" />
<circle cx="2417.3" cy="1623.0" r="2.06" fill="#1d3c78" />
<circle cx="2417.3" cy="1631.2" r="2.06" fill="#1d3c78" />
<circle cx="2417.3" cy="1635.4" r="2.06" fill="#1d3c78" />
<circle cx="2417.3" cy="1639.5" r="2.06" fill="#1d3c78" />
<circle cx="2417.3" cy="1643.6" r="2.06" fill="#1d3c78" />
<circle cx="2417.3" cy="1647.7" r="2.06" fill="#1d3c78" />
<circle cx="2417.3" cy="1656.0" r="2.06" fill="#1d3c78" />
<circle cx="2421.5" cy="1590.0" r="2.06" fill="#1d3c78" />
<circle cx="2421.5" cy="1594.2" r="2.06" fill="#1d3c78" />
<circle cx="2421.5" cy="1602.4" r="2.06" fill="#1d3c78" />
<circle cx="2421.5" cy="1606.5" r="2.06" fill="#1d3c78" />
<circle cx="2421.5" cy="1627.1" r="2.06" fill="#1d3c78" />
<circle cx="2421.5" cy="1631.2" r="2.06" fill="#1d3c78" />
<circle cx="2421.5" cy="1635.4" r="2.06" fill="#1d3c78" />
<circle cx="2421.5" cy="1647.7" r="2.06" fill="#1d3c78" />
<circle cx="2421.5" cy="1651.8" r="2.06" fill="#1d3c78" />
<circle cx="2421.5" cy="1656.0" r="2.06" fill="#1d3c78" />
<circle cx="2425.6" cy="1590.0" r="2.06" fill="#1d3c78" />
<circle cx="2425.6" cy="1594.2" r="2.06" fill="#1d3c78" />
<circle cx="2425.6" cy="1602.4" r="2.06" fill="#1d3c78" />
<circle cx="2425.6" cy="1606.5" r="2.06" fill="#1d3c78" />
<circle cx="2425.6" cy="1610.6" r="2.06" fill="#1d3c78" />
<circle cx="2425.6" cy="1614.8" r="2.06" fill="#1d3c78" />
<circle cx="2425.6" cy="1643.6" r="2.06" fill="#1d3c78" />
<circle cx="2429.7" cy="1594.2" r="2.06" fill="#1d3c78" />
<circle cx="2429.7" cy="1598.3" r="2.06" fill="#1d3c78" />
<circle cx="2429.7" cy="1602.4" r="2.06" fill="#1d3c78" />
<circle cx="2429.7" cy="1610.6" r="2.06" fill="#1d3c78" />
<circle cx="2429.7" cy="1614.8" r="2.06" fill="#1d3c78" />
<circle cx="2429.7" cy="1618.9" r="2.06" fill="#1d3c78" />
<circle cx="2429.7" cy="1623.0" r="2.06" fill="#1d3c78" />
<circle cx="2429.7" cy="1627.1" r="2.06" fill="#1d3c78" />
<circle cx="2429.7" cy="1631.2" r="2.06" fill="#1d3c78" />
<circle cx="2429.7" cy="1635.4" r="2.06" fill="#1d3c78" />
<circle cx="2429.7" cy="1639.5" r="2.06" fill="#1d3c78" />
<circle cx="2429.7" cy="1643.6" r="2.06" fill="#1d3c78" />
<circle cx="2429.7" cy="1647.7" r="2.06" fill="#1d3c78" />
<circle cx="2429.7" cy="1651.8" r="2.06" fill="#1d3c78" />
<circle cx="2433.8" cy="1561.2" r="2.06" fill="#1d3c78" />
<circle cx="2433.8" cy="1565.3" r="2.06" fill="#1d3c78" />
<circle cx="2433.8" cy="1569.4" r="2.06" fill="#1d3c78" />
<circle cx="2433.8" cy="1573.5" r="2.06" fill="#1d3c78" />
<circle cx="2433.8" cy="1577.7" r="2.06" fill="#1d3c78" />
<circle cx="2433.8" cy="1590.0" r="2.06" fill="#1d3c78" />
<circle cx="2433.8" cy="1594.2" r="2.06" fill="#1d3c78" />
<circle cx="2433.8" cy="1598.3" r="2.06" fill="#1d3c78" />
<circle cx="2433.8" cy="1602.4" r="2.06" fill="#1d3c78" />
<circle cx="2433.8" cy="1606.5" r="2.06" fill="#1d3c78" />
<circle cx="2433.8" cy="1610.6" r="2.06" fill="#1d3c78" />
<circle cx="2433.8" cy="1618.9" r="2.06" fill="#1d3c78" />
<circle cx="2433.8" cy="1623.0" r="2.06" fill="#1d3c78" />
<circle cx="2433.8" cy="1635.4" r="2.06" fill="#1d3c78" />
<circle cx="2433.8" cy="1643.6" r="2.06" fill="#1d3c78" />
<circle cx="2433.8" cy="1664.2" r="2.06" fill="#1d3c78" />
<circle cx="2433.8" cy="1668.3" r="2.06" fill="#1d3c78" />
<circle cx="2433.8" cy="1672.5" r="2.06" fill="#1d3c78" />
<circle cx="2433.8" cy="1688.9" r="2.06" fill="#1d3c78" />
<circle cx="2438.0" cy="1557.1" r="2.06" fill="#1d3c78" />
<circle cx="2438.0" cy="1585.9" r="2.06" fill="#1d3c78" />
<circle cx="2438.0" cy="1594.2" r="2.06" fill="#1d3c78" />
<circle cx="2438.0" cy="1598.3" r="2.06" fill="#1d3c78" />
<circle cx="2438.0" cy="1602.4" r="2.06" fill="#1d3c78" />
<circle cx="2438.0" cy="1606.5" r="2.06" fill="#1d3c78" />
<circle cx="2438.0" cy="1610.6" r="2.06" fill="#1d3c78" />
<circle cx="2438.0" cy="1623.0" r="2.06" fill="#1d3c78" />
<circle cx="2438.0" cy="1639.5" r="2.06" fill="#1d3c78" />
<circle cx="2438.0" cy="1643.6" r="2.06" fill="#1d3c78" />
<circle cx="2438.0" cy="1647.7" r="2.06" fill="#1d3c78" />
<circle cx="2438.0" cy="1651.8" r="2.06" fill="#1d3c78" />
<circle cx="2438.0" cy="1656.0" r="2.06" fill="#1d3c78" />
<circle cx="2438.0" cy="1672.5" r="2.06" fill="#1d3c78" />
<circle cx="2438.0" cy="1684.8" r="2.06" fill="#1d3c78" />
<circle cx="2442.1" cy="1569.4" r="2.06" fill="#1d3c78" />
<circle cx="2442.1" cy="1573.5" r="2.06" fill="#1d3c78" />
<circle cx="2442.1" cy="1581.8" r="2.06" fill="#1d3c78" />
<circle cx="2442.1" cy="1594.2" r="2.06" fill="#1d3c78" />
<circle cx="2442.1" cy="1598.3" r="2.06" fill="#1d3c78" />
<circle cx="2442.1" cy="1610.6" r="2.06" fill="#1d3c78" />
<circle cx="2442.1" cy="1614.8" r="2.06" fill="#1d3c78" />
<circle cx="2442.1" cy="1618.9" r="2.06" fill="#1d3c78" />
<circle cx="2442.1" cy="1631.2" r="2.06" fill="#1d3c78" />
<circle cx="2442.1" cy="1647.7" r="2.06" fill="#1d3c78" />
<circle cx="2442.1" cy="1656.0" r="2.06" fill="#1d3c78" />
<circle cx="2442.1" cy="1660.1" r="2.06" fill="#1d3c78" />
<circle cx="2442.1" cy="1680.7" r="2.06" fill="#1d3c78" />
<circle cx="2446.2" cy="1557.1" r="2.06" fill="#1d3c78" />
<circle cx="2446.2" cy="1561.2" r="2.06" fill="#1d3c78" />
<circle cx="2446.2" cy="1565.3" r="2.06" fill="#1d3c78" />
<circle cx="2446.2" cy="1569.4" r="2.06" fill="#1d3c78" />
<circle cx="2446.2" cy="1577.7" r="2.06" fill="#1d3c78" />
<circle cx="2446.2" cy="1581.8" r="2.06" fill="#1d3c78" />
<circle cx="2446.2" cy="1585.9" r="2.06" fill="#1d3c78" />
<circle cx="2446.2" cy="1594.2" r="2.06" fill="#1d3c78" />
<circle cx="2446.2" cy="1598.3" r="2.06" fill="#1d3c78" />
<circle cx="2446.2" cy="1610.6" r="2.06" fill="#1d3c78" />
<circle cx="2446.2" cy="1631.2" r="2.06" fill="#1d3c78" />
<circle cx="2446.2" cy="1635.4" r="2.06" fill="#1d3c78" />
<circle cx="2446.2" cy="1639.5" r="2.06" fill="#1d3c78" />
<circle cx="2446.2" cy="1643.6" r="2.06" fill="#1d3c78" />
<circle cx="2446.2" cy="1651.8" r="2.06" fill="#1d3c78" />
<circle cx="2446.2" cy="1656.0" r="2.06" fill="#1d3c78" />
<circle cx="2446.2" cy="1668.3" r="2.06" fill="#1d3c78" />
<circle cx="2446.2" cy="1684.8" r="2.06" fill="#1d3c78" />
<circle cx="2450.3" cy="1557.1" r="2.06" fill="#1d3c78" />
<circle cx="2450.3" cy="1561.2" r="2.06" fill="#1d3c78" />
<circle cx="2450.3" cy="1585.9" r="2.06" fill="#1d3c78" />
<circle cx="2450.3" cy="1606.5" r="2.06" fill="#1d3c78" />
<circle cx="2450.3" cy="1614.8" r="2.06" fill="#1d3c78" />
<circle cx="2450.3" cy="1635.4" r="2.06" fill="#1d3c78" />
<circle cx="2450.3" cy="1651.8" r="2.06" fill="#1d3c78" />
<circle cx="2450.3" cy="1656.0" r="2.06" fill="#1d3c78" />
<circle cx="2450.3" cy="1660.1" r="2.06" fill="#1d3c78" />
<circle cx="2450.3" cy="1664.2" r="2.06" fill="#1d3c78" />
<circle cx="2450.3" cy="1668.3" r="2.06" fill="#1d3c78" />
<circle cx="2450.3" cy="1672.5" r="2.06" fill="#1d3c78" />
<circle cx="2450.3" cy="1688.9" r="2.06" fill="#1d3c78" />
<circle cx="2454.4" cy="1565.3" r="2.06" fill="#1d3c78" />
<circle cx="2454.4" cy="1577.7" r="2.06" fill="#1d3c78" />
<circle cx="2454.4" cy="1585.9" r="2.06" fill="#1d3c78" />
<circle cx="2454.4" cy="1590.0" r="2.06" fill="#1d3c78" />
<circle cx="2454.4" cy="1602.4" r="2.06" fill="#1d3c78" />
<circle cx="2454.4" cy="1606.5" r="2.06" fill="#1d3c78" />
<circle cx="2454.4" cy="1614.8" r="2.06" fill="#1d3c78" />
<circle cx="2454.4" cy="1618.9" r="2.06" fill="#1d3c78" />
<circle cx="2454.4" cy="1623.0" r="2.06" fill="#1d3c78" />
<circle cx="2454.4" cy="1631.2" r="2.06" fill="#1d3c78" />
<circle cx="2454.4" cy="1639.5" r="2.06" fill="#1d3c78" />
<circle cx="2454.4" cy="1643.6" r="2.06" fill="#1d3c78" />
<circle cx="2454.4" cy="1647.7" r="2.06" fill="#1d3c78" />
<circle cx="2454.4" cy="1660.1" r="2.06" fill="#1d3c78" />
<circle cx="2454.4" cy="1676.6" r="2.06" fill="#1d3c78" />
<circle cx="2454.4" cy="1680.7" r="2.06" fill="#1d3c78" />
<circle cx="2454.4" cy="1684.8" r="2.06" fill="#1d3c78" />
<circle cx="2458.6" cy="1557.1" r="2.06" fill="#1d3c78" />
<circle cx="2458.6" cy="1561.2" r="2.06" fill="#1d3c78" />
<circle cx="2458.6" cy="1565.3" r="2.06" fill="#1d3c78" />
<circle cx="2458.6" cy="1577.7" r="2.06" fill="#1d3c78" />
<circle cx="2458.6" cy="1581.8" r="2.06" fill="#1d3c78" />
<circle cx="2458.6" cy="1598.3" r="2.06" fill="#1d3c78" />
<circle cx="2458.6" cy="1602.4" r="2.06" fill="#1d3c78" />
<circle cx="2458.6" cy="1610.6" r="2.06" fill="#1d3c78" />
<circle cx="2458.6" cy="1614.8" r="2.06" fill="#1d3c78" />
<circle cx="2458.6" cy="1631.2" r="2.06" fill="#1d3c78" />
<circle cx="2458.6" cy="1639.5" r="2.06" fill="#1d3c78" />
<circle cx="2458.6" cy="1647.7" r="2.06" fill="#1d3c78" />
<circle cx="2458.6" cy="1651.8" r="2.06" fill="#1d3c78" />
<circle cx="2458.6" cy="1664.2" r="2.06" fill="#1d3c78" />
<circle cx="2458.6" cy="1668.3" r="2.06" fill="#1d3c78" />
<circle cx="2458.6" cy="1676.6" r="2.06" fill="#1d3c78" />
<circle cx="2458.6" cy="1680.7" r="2.06" fill="#1d3c78" />
<circle cx="2458.6" cy="1684.8" r="2.06" fill="#1d3c78" />
<circle cx="2458.6" cy="1688.9" r="2.06" fill="#1d3c78" />
<circle cx="2462.7" cy="1557.1" r="2.06" fill="#1d3c78" />
<circle cx="2462.7" cy="1561.2" r="2.06" fill="#1d3c78" />
<circle cx="2462.7" cy="1565.3" r="2.06" fill="#1d3c78" />
<circle cx="2462.7" cy="1573.5" r="2.06" fill="#1d3c78" />
<circle cx="2462.7" cy="1581.8" r="2.06" fill="#1d3c78" />
<circle cx="2462.7" cy="1585.9" r="2.06" fill="#1d3c78" />
<circle cx="2462.7" cy="1590.0" r="2.06" fill="#1d3c78" />
<circle cx="2462.7" cy="1594.2" r="2.06" fill="#1d3c78" />
<circle cx="2462.7" cy="1598.3" r="2.06" fill="#1d3c78" />
<circle cx="2462.7" cy="1610.6" r="2.06" fill="#1d3c78" />
<circle cx="2462.7" cy="1614.8" r="2.06" fill="#1d3c78" />
<circle cx="2462.7" cy="1623.0" r="2.06" fill="#1d3c78" />
<circle cx="2462.7" cy="1631.2" r="2.06" fill="#1d3c78" />
<circle cx="2462.7" cy="1635.4" r="2.06" fill="#1d3c78" />
<circle cx="2462.7" cy="1643.6" r="2.06" fill="#1d3c78" />
<circle cx="2462.7" cy="1660.1" r="2.06" fill="#1d3c78" />
<circle cx="2462.7" cy="1676.6" r="2.06" fill="#1d3c78" />
<circle cx="2462.7" cy="1680.7" r="2.06" fill="#1d3c78" />
<circle cx="2462.7" cy="1684.8" r="2.06" fill="#1d3c78" />
<circle cx="2462.7" cy="1688.9" r="2.06" fill="#1d3c78" />
<circle cx="2466.8" cy="1557.1" r="2.06" fill="#1d3c78" />
<circle cx="2466.8" cy="1565.3" r="2.06" fill="#1d3c78" />
<circle cx="2466.8" cy="1569.4" r="2.06" fill="#1d3c78" />
<circle cx="2466.8" cy="1573.5" r="2.06" fill="#1d3c78" />
<circle cx="2466.8" cy="1590.0" r="2.06" fill="#1d3c78" />
<circle cx="2466.8" cy="1594.2" r="2.06" fill="#1d3c78" />
<circle cx="2466.8" cy="1598.3" r="2.06" fill="#1d3c78" />
<circle cx="2466.8" cy="1602.4" r="2.06" fill="#1d3c78" />
<circle cx="2466.8" cy="1606.5" r="2.06" fill="#1d3c78" />
<circle cx="2466.8" cy="1610.6" r="2.06" fill="#1d3c78" />
<circle cx="2466.8" cy="1614.8" r="2.06" fill="#1d3c78" />
<circle cx="2466.8" cy="1631.2" r="2.06" fill="#1d3c78" />
<circle cx="2466.8" cy="1639.5" r="2.06" fill="#1d3c78" />
<circle cx="2466.8" cy="1643.6" r="2.06" fill="#1d3c78" />
<circle cx="2466.8" cy="1647.7" r="2.06" fill="#1d3c78" />
<circle cx="2466.8" cy="1651.8" r="2.06" fill="#1d3c78" />
<circle cx="2466.8" cy="1656.0" r="2.06" fill="#1d3c78" />
<circle cx="2466.8" cy="1664.2" r="2.06" fill="#1d3c78" />
<circle cx="2466.8" cy="1672.5" r="2.06" fill="#1d3c78" />
<circle cx="2466.8" cy="1676.6" r="2.06" fill="#1d3c78" />
<circle cx="2466.8" cy="1680.7" r="2.06" fill="#1d3c78" />
<circle cx="2466.8" cy="1684.8" r="2.06" fill="#1d3c78" />
<circle cx="2466.8" cy="1688.9" r="2.06" fill="#1d3c78" />
<circle cx="2470.9" cy="1557.1" r="2.06" fill="#1d3c78" />
<circle cx="2470.9" cy="1561.2" r="2.06" fill="#1d3c78" />
<circle cx="2470.9" cy="1565.3" r="2.06" fill="#1d3c78" />
<circle cx="2470.9" cy="1594.2" r="2.06" fill="#1d3c78" />
<circle cx="2470.9" cy="1598.3" r="2.06" fill="#1d3c78" />
<circle cx="2470.9" cy="1606.5" r="2.06" fill="#1d3c78" />
<circle cx="2470.9" cy="1618.9" r="2.06" fill="#1d3c78" />
<circle cx="2470.9" cy="1643.6" r="2.06" fill="#1d3c78" />
<circle cx="2470.9" cy="1684.8" r="2.06" fill="#1d3c78" />
<circle cx="2470.9" cy="1688.9" r="2.06" fill="#1d3c78" />
<circle cx="2475.0" cy="1557.1" r="2.06" fill="#1d3c78" />
<circle cx="2475.0" cy="1561.2" r="2.06" fill="#1d3c78" />
<circle cx="2475.0" cy="1565.3" r="2.06" fill="#1d3c78" />
<circle cx="2475.0" cy="1590.0" r="2.06" fill="#1d3c78" />
<circle cx="2475.0" cy="1594.2" r="2.06" fill="#1d3c78" />
<circle cx="2475.0" cy="1618.9" r="2.06" fill="#1d3c78" />
<circle cx="2475.0" cy="1627.1" r="2.06" fill="#1d3c78" />
<circle cx="2475.0" cy="1631.2" r="2.06" fill="#1d3c78" />
<circle cx="2475.0" cy="1635.4" r="2.06" fill="#1d3c78" />
<circle cx="2475.0" cy="1643.6" r="2.06" fill="#1d3c78" />
<circle cx="2475.0" cy="1656.0" r="2.06" fill="#1d3c78" />
<circle cx="2475.0" cy="1660.1" r="2.06" fill="#1d3c78" />
<circle cx="2475.0" cy="1664.2" r="2.06" fill="#1d3c78" />
<circle cx="2475.0" cy="1684.8" r="2.06" fill="#1d3c78" />
<circle cx="2475.0" cy="1688.9" r="2.06" fill="#1d3c78" />
<circle cx="2479.2" cy="1557.1" r="2.06" fill="#1d3c78" />
<circle cx="2479.2" cy="1565.3" r="2.06" fill="#1d3c78" />
<circle cx="2479.2" cy="1573.5" r="2.06" fill="#1d3c78" />
<circle cx="2479.2" cy="1577.7" r="2.06" fill="#1d3c78" />
<circle cx="2479.2" cy="1581.8" r="2.06" fill="#1d3c78" />
<circle cx="2479.2" cy="1598.3" r="2.06" fill="#1d3c78" />
<circle cx="2479.2" cy="1606.5" r="2.06" fill="#1d3c78" />
<circle cx="2479.2" cy="1610.6" r="2.06" fill="#1d3c78" />
<circle cx="2479.2" cy="1614.8" r="2.06" fill="#1d3c78" />
<circle cx="2479.2" cy="1623.0" r="2.06" fill="#1d3c78" />
<circle cx="2479.2" cy="1635.4" r="2.06" fill="#1d3c78" />
<circle cx="2479.2" cy="1639.5" r="2.06" fill="#1d3c78" />
<circle cx="2479.2" cy="1651.8" r="2.06" fill="#1d3c78" />
<circle cx="2479.2" cy="1656.0" r="2.06" fill="#1d3c78" />
<circle cx="2479.2" cy="1660.1" r="2.06" fill="#1d3c78" />
<circle cx="2479.2" cy="1668.3" r="2.06" fill="#1d3c78" />
<circle cx="2479.2" cy="1676.6" r="2.06" fill="#1d3c78" />
<circle cx="2479.2" cy="1688.9" r="2.06" fill="#1d3c78" />
<circle cx="2483.3" cy="1573.5" r="2.06" fill="#1d3c78" />
<circle cx="2483.3" cy="1581.8" r="2.06" fill="#1d3c78" />
<circle cx="2483.3" cy="1585.9" r="2.06" fill="#1d3c78" />
<circle cx="2483.3" cy="1590.0" r="2.06" fill="#1d3c78" />
<circle cx="2483.3" cy="1594.2" r="2.06" fill="#1d3c78" />
<circle cx="2483.3" cy="1598.3" r="2.06" fill="#1d3c78" />
<circle cx="2483.3" cy="1602.4" r="2.06" fill="#1d3c78" />
<circle cx="2483.3" cy="1606.5" r="2.06" fill="#1d3c78" />
<circle cx="2483.3" cy="1610.6" r="2.06" fill="#1d3c78" />
<circle cx="2483.3" cy="1614.8" r="2.06" fill="#1d3c78" />
<circle cx="2483.3" cy="1623.0" r="2.06" fill="#1d3c78" />
<circle cx="2483.3" cy="1635.4" r="2.06" fill="#1d3c78" />
<circle cx="2483.3" cy="1651.8" r="2.06" fill="#1d3c78" />
<circle cx="2483.3" cy="1656.0" r="2.06" fill="#1d3c78" />
<circle cx="2483.3" cy="1660.1" r="2.06" fill="#1d3c78" />
<circle cx="2483.3" cy="1672.5" r="2.06" fill="#1d3c78" />
<circle cx="2483.3" cy="1676.6" r="2.06" fill="#1d3c78" />
<circle cx="2483.3" cy="1680.7" r="2.06" fill="#1d3c78" />
<circle cx="2483.3" cy="1684.8" r="2.06" fill="#1d3c78" />
<circle cx="2483.3" cy="1688.9" r="2.06" fill="#1d3c78" />
<circle cx="2487.4" cy="1561.2" r="2.06" fill="#1d3c78" />
<circle cx="2487.4" cy="1569.4" r="2.06" fill="#1d3c78" />
<circle cx="2487.4" cy="1573.5" r="2.06" fill="#1d3c78" />
<circle cx="2487.4" cy="1581.8" r="2.06" fill="#1d3c78" />
<circle cx="2487.4" cy="1585.9" r="2.06" fill="#1d3c78" />
<circle cx="2487.4" cy="1623.0" r="2.06" fill="#1d3c78" />
<circle cx="2487.4" cy="1631.2" r="2.06" fill="#1d3c78" />
<circle cx="2487.4" cy="1643.6" r="2.06" fill="#1d3c78" />
<circle cx="2487.4" cy="1647.7" r="2.06" fill="#1d3c78" />
<circle cx="2487.4" cy="1656.0" r="2.06" fill="#1d3c78" />
<circle cx="2487.4" cy="1660.1" r="2.06" fill="#1d3c78" />
<circle cx="2487.4" cy="1664.2" r="2.06" fill="#1d3c78" />
<circle cx="2487.4" cy="1668.3" r="2.06" fill="#1d3c78" />
<circle cx="2487.4" cy="1680.7" r="2.06" fill="#1d3c78" />
<circle cx="2487.4" cy="1688.9" r="2.06" fill="#1d3c78" />
<circle cx="2491.5" cy="1561.2" r="2.06" fill="#1d3c78" />
<circle cx="2491.5" cy="1565.3" r="2.06" fill="#1d3c78" />
<circle cx="2491.5" cy="1569.4" r="2.06" fill="#1d3c78" />
<circle cx="2491.5" cy="1573.5" r="2.06" fill="#1d3c78" />
<circle cx="2491.5" cy="1581.8" r="2.06" fill="#1d3c78" />
<circle cx="2491.5" cy="1585.9" r="2.06" fill="#1d3c78" />
<circle cx="2491.5" cy="1598.3" r="2.06" fill="#1d3c78" />
<circle cx="2491.5" cy="1602.4" r="2.06" fill="#1d3c78" />
<circle cx="2491.5" cy="1606.5" r="2.06" fill="#1d3c78" />
<circle cx="2491.5" cy="1610.6" r="2.06" fill="#1d3c78" />
<circle cx="2491.5" cy="1614.8" r="2.06" fill="#1d3c78" />
<circle cx="2491.5" cy="1618.9" r="2.06" fill="#1d3c78" />
<circle cx="2491.5" cy="1623.0" r="2.06" fill="#1d3c78" />
<circle cx="2491.5" cy="1627.1" r="2.06" fill="#1d3c78" />
<circle cx="2491.5" cy="1643.6" r="2.06" fill="#1d3c78" />
<circle cx="2491.5" cy="1647.7" r="2.06" fill="#1d3c78" />
<circle cx="2491.5" cy="1656.0" r="2.06" fill="#1d3c78" />
<circle cx="2491.5" cy="1660.1" r="2.06" fill="#1d3c78" />
<circle cx="2491.5" cy="1664.2" r="2.06" fill="#1d3c78" />
<circle cx="2491.5" cy="1668.3" r="2.06" fill="#1d3c78" />
<circle cx="2491.5" cy="1676.6" r="2.06" fill="#1d3c78" />
<circle cx="2495.6" cy="1557.1" r="2.06" fill="#1d3c78" />
<circle cx="2495.6" cy="1561.2" r="2.06" fill="#1d3c78" />
<circle cx="2495.6" cy="1565.3" r="2.06" fill="#1d3c78" />
<circle cx="2495.6" cy="1569.4" r="2.06" fill="#1d3c78" />
<circle cx="2495.6" cy="1573.5" r="2.06" fill="#1d3c78" />
<circle cx="2495.6" cy="1590.0" r="2.06" fill="#1d3c78" />
<circle cx="2495.6" cy="1594.2" r="2.06" fill="#1d3c78" />
<circle cx="2495.6" cy="1606.5" r="2.06" fill="#1d3c78" />
<circle cx="2495.6" cy="1614.8" r="2.06" fill="#1d3c78" />
<circle cx="2495.6" cy="1618.9" r="2.06" fill="#1d3c78" />
<circle cx="2495.6" cy="1639.5" r="2.06" fill="#1d3c78" />
<circle cx="2495.6" cy="1643.6" r="2.06" fill="#1d3c78" />
<circle cx="2495.6" cy="1647.7" r="2.06" fill="#1d3c78" />
<circle cx="2495.6" cy="1676.6" r="2.06" fill="#1d3c78" />
<circle cx="2495.6" cy="1684.8" r="2.06" fill="#1d3c78" />
<circle cx="2499.8" cy="1557.1" r="2.06" fill="#1d3c78" />
<circle cx="2499.8" cy="1569.4" r="2.06" fill="#1d3c78" />
<circle cx="2499.8" cy="1573.5" r="2.06" fill="#1d3c78" />
<circle cx="2499.8" cy="1577.7" r="2.06" fill="#1d3c78" />
<circle cx="2499.8" cy="1590.0" r="2.06" fill="#1d3c78" />
<circle cx="2499.8" cy="1594.2" r="2.06" fill="#1d3c78" />
<circle cx="2499.8" cy="1606.5" r="2.06" fill="#1d3c78" />
<circle cx="2499.8" cy="1610.6" r="2.06" fill="#1d3c78" />
<circle cx="2499.8" cy="1618.9" r="2.06" fill="#1d3c78" />
<circle cx="2499.8" cy="1623.0" r="2.06" fill="#1d3c78" />
<circle cx="2499.8" cy="1627.1" r="2.06" fill="#1d3c78" />
<circle cx="2499.8" cy="1643.6" r="2.06" fill="#1d3c78" />
<circle cx="2499.8" cy="1647.7" r="2.06" fill="#1d3c78" />
<circle cx="2499.8" cy="1651.8" r="2.06" fill="#1d3c78" />
<circle cx="2499.8" cy="1664.2" r="2.06" fill="#1d3c78" />
<circle cx="2499.8" cy="1668.3" r="2.06" fill="#1d3c78" />
<circle cx="2499.8" cy="1672.5" r="2.06" fill="#1d3c78" />
<circle cx="2499.8" cy="1680.7" r="2.06" fill="#1d3c78" />
<circle cx="2499.8" cy="1684.8" r="2.06" fill="#1d3c78" />
<circle cx="2503.9" cy="1594.2" r="2.06" fill="#1d3c78" />
<circle cx="2503.9" cy="1598.3" r="2.06" fill="#1d3c78" />
<circle cx="2503.9" cy="1602.4" r="2.06" fill="#1d3c78" />
<circle cx="2503.9" cy="1606.5" r="2.06" fill="#1d3c78" />
<circle cx="2503.9" cy="1614.8" r="2.06" fill="#1d3c78" />
<circle cx="2503.9" cy="1631.2" r="2.06" fill="#1d3c78" />
<circle cx="2503.9" cy="1639.5" r="2.06" fill="#1d3c78" />
<circle cx="2503.9" cy="1647.7" r="2.06" fill="#1d3c78" />
<circle cx="2503.9" cy="1651.8" r="2.06" fill="#1d3c78" />
<circle cx="2503.9" cy="1660.1" r="2.06" fill="#1d3c78" />
<circle cx="2503.9" cy="1668.3" r="2.06" fill="#1d3c78" />
<circle cx="2503.9" cy="1672.5" r="2.06" fill="#1d3c78" />
<circle cx="2503.9" cy="1676.6" r="2.06" fill="#1d3c78" />
<circle cx="2503.9" cy="1680.7" r="2.06" fill="#1d3c78" />
<circle cx="2508.0" cy="1590.0" r="2.06" fill="#1d3c78" />
<circle cx="2508.0" cy="1594.2" r="2.06" fill="#1d3c78" />
<circle cx="2508.0" cy="1598.3" r="2.06" fill="#1d3c78" />
<circle cx="2508.0" cy="1606.5" r="2.06" fill="#1d3c78" />
<circle cx="2508.0" cy="1610.6" r="2.06" fill="#1d3c78" />
<circle cx="2508.0" cy="1614.8" r="2.06" fill="#1d3c78" />
<circle cx="2508.0" cy="1618.9" r="2.06" fill="#1d3c78" />
<circle cx="2508.0" cy="1643.6" r="2.06" fill="#1d3c78" />
<circle cx="2508.0" cy="1647.7" r="2.06" fill="#1d3c78" />
<circle cx="2508.0" cy="1660.1" r="2.06" fill="#1d3c78" />
<circle cx="2508.0" cy="1668.3" r="2.06" fill="#1d3c78" />
<circle cx="2508.0" cy="1672.5" r="2.06" fill="#1d3c78" />
<circle cx="2508.0" cy="1676.6" r="2.06" fill="#1d3c78" />
<circle cx="2508.0" cy="1680.7" r="2.06" fill="#1d3c78" />
<circle cx="2508.0" cy="1684.8" r="2.06" fill="#1d3c78" />
<circle cx="2508.0" cy="1688.9" r="2.06" fill="#1d3c78" />
<circle cx="2512.1" cy="1590.0" r="2.06" fill="#1d3c78" />
<circle cx="2512.1" cy="1598.3" r="2.06" fill="#1d3c78" />
<circle cx="2512.1" cy="1606.5" r="2.06" fill="#1d3c78" />
<circle cx="2512.1" cy="1610.6" r="2.06" fill="#1d3c78" />
<circle cx="2512.1" cy="1623.0" r="2.06" fill="#1d3c78" />
<circle cx="2512.1" cy="1627.1" r="2.06" fill="#1d3c78" />
<circle cx="2512.1" cy="1631.2" r="2.06" fill="#1d3c78" />
<circle cx="2512.1" cy="1635.4" r="2.06" fill="#1d3c78" />
<circle cx="2512.1" cy="1643.6" r="2.06" fill="#1d3c78" />
<circle cx="2512.1" cy="1647.7" r="2.06" fill="#1d3c78" />
<circle cx="2512.1" cy="1656.0" r="2.06" fill="#1d3c78" />
<circle cx="2512.1" cy="1660.1" r="2.06" fill="#1d3c78" />
<circle cx="2512.1" cy="1672.5" r="2.06" fill="#1d3c78" />
<circle cx="2512.1" cy="1676.6" r="2.06" fill="#1d3c78" />
<circle cx="2512.1" cy="1680.7" r="2.06" fill="#1d3c78" />
<circle cx="2512.1" cy="1688.9" r="2.06" fill="#1d3c78" />
<circle cx="2516.3" cy="1598.3" r="2.06" fill="#1d3c78" />
<circle cx="2516.3" cy="1602.4" r="2.06" fill="#1d3c78" />
<circle cx="2516.3" cy="1614.8" r="2.06" fill="#1d3c78" />
<circle cx="2516.3" cy="1623.0" r="2.06" fill="#1d3c78" />
<circle cx="2516.3" cy="1627.1" r="2.06" fill="#1d3c78" />
<circle cx="2516.3" cy="1631.2" r="2.06" fill="#1d3c78" />
<circle cx="2516.3" cy="1651.8" r="2.06" fill="#1d3c78" />
<circle cx="2516.3" cy="1656.0" r="2.06" fill="#1d3c78" />
<circle cx="2516.3" cy="1660.1" r="2.06" fill="#1d3c78" />
<circle cx="2516.3" cy="1672.5" r="2.06" fill="#1d3c78" />
<circle cx="2516.3" cy="1676.6" r="2.06" fill="#1d3c78" />
<circle cx="2516.3" cy="1680.7" r="2.06" fill="#1d3c78" />
<circle cx="2516.3" cy="1684.8" r="2.06" fill="#1d3c78" />
<circle cx="2520.4" cy="1590.0" r="2.06" fill="#1d3c78" />
<circle cx="2520.4" cy="1614.8" r="2.06" fill="#1d3c78" />
<circle cx="2520.4" cy="1618.9" r="2.06" fill="#1d3c78" />
<circle cx="2520.4" cy="1623.0" r="2.06" fill="#1d3c78" />
<circle cx="2520.4" cy="1631.2" r="2.06" fill="#1d3c78" />
<circle cx="2520.4" cy="1635.4" r="2.06" fill="#1d3c78" />
<circle cx="2520.4" cy="1643.6" r="2.06" fill="#1d3c78" />
<circle cx="2520.4" cy="1647.7" r="2.06" fill="#1d3c78" />
<circle cx="2520.4" cy="1651.8" r="2.06" fill="#1d3c78" />
<circle cx="2520.4" cy="1660.1" r="2.06" fill="#1d3c78" />
<circle cx="2520.4" cy="1676.6" r="2.06" fill="#1d3c78" />
<circle cx="2520.4" cy="1680.7" r="2.06" fill="#1d3c78" />
<circle cx="2520.4" cy="1684.8" r="2.06" fill="#1d3c78" />
<circle cx="2520.4" cy="1688.9" r="2.06" fill="#1d3c78" />
<circle cx="2524.5" cy="1594.2" r="2.06" fill="#1d3c78" />
<circle cx="2524.5" cy="1598.3" r="2.06" fill="#1d3c78" />
<circle cx="2524.5" cy="1602.4" r="2.06" fill="#1d3c78" />
<circle cx="2524.5" cy="1627.1" r="2.06" fill="#1d3c78" />
<circle cx="2524.5" cy="1635.4" r="2.06" fill="#1d3c78" />
<circle cx="2524.5" cy="1643.6" r="2.06" fill="#1d3c78" />
<circle cx="2524.5" cy="1651.8" r="2.06" fill="#1d3c78" />
<circle cx="2524.5" cy="1656.0" r="2.06" fill="#1d3c78" />
<circle cx="2524.5" cy="1660.1" r="2.06" fill="#1d3c78" />
<circle cx="2524.5" cy="1664.2" r="2.06" fill="#1d3c78" />
<circle cx="2524.5" cy="1676.6" r="2.06" fill="#1d3c78" />
<circle cx="2524.5" cy="1680.7" r="2.06" fill="#1d3c78" />
<circle cx="2528.6" cy="1590.0" r="2.06" fill="#1d3c78" />
<circle cx="2528.6" cy="1606.5" r="2.06" fill="#1d3c78" />
<circle cx="2528.6" cy="1610.6" r="2.06" fill="#1d3c78" />
<circle cx="2528.6" cy="1627.1" r="2.06" fill="#1d3c78" />
<circle cx="2528.6" cy="1631.2" r="2.06" fill="#1d3c78" />
<circle cx="2528.6" cy="1635.4" r="2.06" fill="#1d3c78" />
<circle cx="2528.6" cy="1639.5" r="2.06" fill="#1d3c78" />
<circle cx="2528.6" cy="1656.0" r="2.06" fill="#1d3c78" />
<circle cx="2528.6" cy="1664.2" r="2.06" fill="#1d3c78" />
<circle cx="2528.6" cy="1668.3" r="2.06" fill="#1d3c78" />
<circle cx="2528.6" cy="1680.7" r="2.06" fill="#1d3c78" />
<circle cx="2532.7" cy="1590.0" r="2.06" fill="#1d3c78" />
<circle cx="2532.7" cy="1594.2" r="2.06" fill="#1d3c78" />
<circle cx="2532.7" cy="1598.3" r="2.06" fill="#1d3c78" />
<circle cx="2532.7" cy="1602.4" r="2.06" fill="#1d3c78" />
<circle cx="2532.7" cy="1606.5" r="2.06" fill="#1d3c78" />
<circle cx="2532.7" cy="1618.9" r="2.06" fill="#1d3c78" />
<circle cx="2532.7" cy="1623.0" r="2.06" fill="#1d3c78" />
<circle cx="2532.7" cy="1627.1" r="2.06" fill="#1d3c78" />
<circle cx="2532.7" cy="1635.4" r="2.06" fill="#1d3c78" />
<circle cx="2532.7" cy="1639.5" r="2.06" fill="#1d3c78" />
<circle cx="2532.7" cy="1643.6" r="2.06" fill="#1d3c78" />
<circle cx="2532.7" cy="1656.0" r="2.06" fill="#1d3c78" />
<circle cx="2532.7" cy="1660.1" r="2.06" fill="#1d3c78" />
<circle cx="2532.7" cy="1664.2" r="2.06" fill="#1d3c78" />
<circle cx="2532.7" cy="1676.6" r="2.06" fill="#1d3c78" />
<circle cx="2532.7" cy="1680.7" r="2.06" fill="#1d3c78" />
<circle cx="2532.7" cy="1688.9" r="2.06" fill="#1d3c78" />
</svg></body></html>
